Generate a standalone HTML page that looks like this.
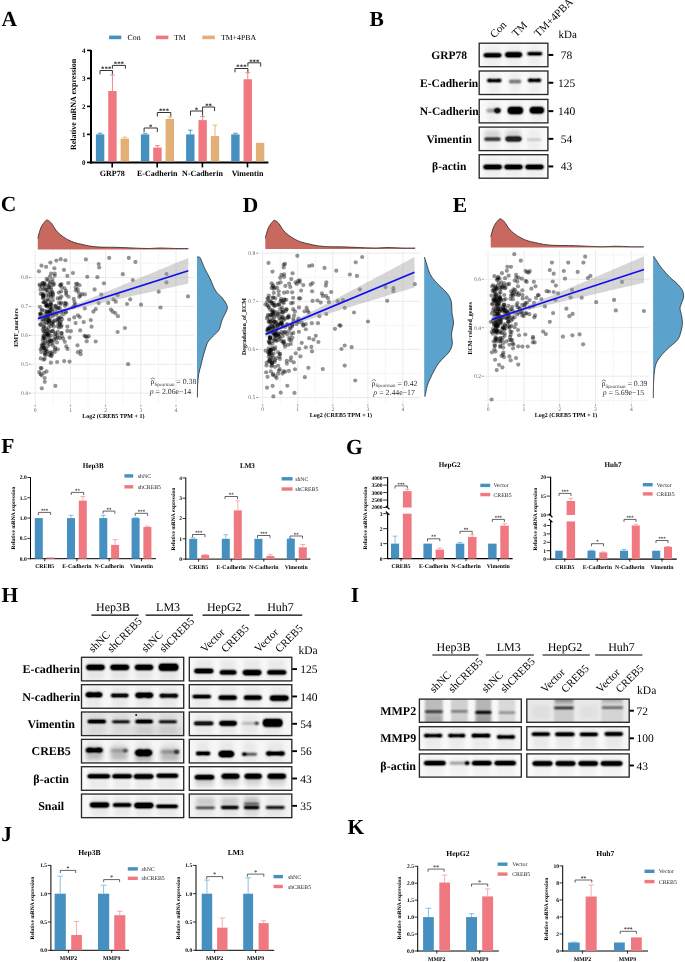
<!DOCTYPE html>
<html><head><meta charset="utf-8"><title>Figure</title><style>html,body{margin:0;padding:0;background:#fff;}body{width:685px;height:962px;overflow:hidden;font-family:"Liberation Serif",serif;}svg{display:block;will-change:transform;text-rendering:geometricPrecision;}</style></head><body>
<svg width="685" height="962" viewBox="0 0 685 962" font-family="'Liberation Serif', serif"><defs><filter id="bl1" x="-50%" y="-100%" width="200%" height="300%"><feGaussianBlur stdDeviation="0.9"/><feComponentTransfer><feFuncA type="linear" slope="1.6" intercept="0"/></feComponentTransfer></filter><filter id="bl2" x="-50%" y="-100%" width="200%" height="300%"><feGaussianBlur stdDeviation="1.6"/></filter><filter id="bl3" x="-50%" y="-100%" width="200%" height="300%"><feGaussianBlur stdDeviation="2.2"/></filter><filter id="bl4" x="-50%" y="-50%" width="200%" height="200%"><feGaussianBlur stdDeviation="0.9"/></filter></defs><text x="1.40" y="25.90" font-size="21.5" font-weight="bold">A</text>
<rect x="109.10" y="35.60" width="12.20" height="3.60" fill="#4590c1"/>
<text x="127.60" y="39.90" font-size="7.8">Con</text>
<rect x="155.90" y="35.60" width="12.50" height="3.60" fill="#f07880"/>
<text x="174.00" y="39.90" font-size="7.8">TM</text>
<rect x="202.30" y="35.60" width="12.50" height="3.60" fill="#e2b074"/>
<text x="220.90" y="39.90" font-size="7.8">TM+4PBA</text>
<line x1="91.00" y1="49.90" x2="91.00" y2="163.40" stroke="#000" stroke-width="2"/>
<line x1="90.00" y1="162.40" x2="268.40" y2="162.40" stroke="#000" stroke-width="2"/>
<line x1="87.00" y1="162.40" x2="91.00" y2="162.40" stroke="#000" stroke-width="1.6"/>
<text x="85.50" y="164.80" font-size="7" font-weight="bold" text-anchor="end">0</text>
<line x1="87.00" y1="134.40" x2="91.00" y2="134.40" stroke="#000" stroke-width="1.6"/>
<text x="85.50" y="136.80" font-size="7" font-weight="bold" text-anchor="end">1</text>
<line x1="87.00" y1="106.40" x2="91.00" y2="106.40" stroke="#000" stroke-width="1.6"/>
<text x="85.50" y="108.80" font-size="7" font-weight="bold" text-anchor="end">2</text>
<line x1="87.00" y1="78.40" x2="91.00" y2="78.40" stroke="#000" stroke-width="1.6"/>
<text x="85.50" y="80.80" font-size="7" font-weight="bold" text-anchor="end">3</text>
<line x1="87.00" y1="50.40" x2="91.00" y2="50.40" stroke="#000" stroke-width="1.6"/>
<text x="85.50" y="52.80" font-size="7" font-weight="bold" text-anchor="end">4</text>
<text x="76.00" y="104.40" font-size="8" font-weight="bold" text-anchor="middle" transform="rotate(-90 76.00 104.40)">Relative mRNA expression</text>
<line x1="112.20" y1="162.40" x2="112.20" y2="167.40" stroke="#000" stroke-width="1.6"/>
<text x="112.20" y="175.70" font-size="8" font-weight="bold" text-anchor="middle">GRP78</text>
<rect x="95.90" y="134.40" width="8.40" height="27.00" fill="#4590c1"/>
<line x1="100.10" y1="134.40" x2="100.10" y2="133.28" stroke="#4590c1" stroke-width="0.9"/>
<line x1="97.79" y1="133.28" x2="102.41" y2="133.28" stroke="#4590c1" stroke-width="0.9"/>
<rect x="108.25" y="91.00" width="8.40" height="70.40" fill="#f07880"/>
<line x1="112.45" y1="91.00" x2="112.45" y2="75.04" stroke="#f07880" stroke-width="0.9"/>
<line x1="110.14" y1="75.04" x2="114.76" y2="75.04" stroke="#f07880" stroke-width="0.9"/>
<rect x="120.60" y="138.60" width="8.40" height="22.80" fill="#e2b074"/>
<line x1="124.80" y1="138.60" x2="124.80" y2="137.20" stroke="#e2b074" stroke-width="0.9"/>
<line x1="122.49" y1="137.20" x2="127.11" y2="137.20" stroke="#e2b074" stroke-width="0.9"/>
<line x1="157.20" y1="162.40" x2="157.20" y2="167.40" stroke="#000" stroke-width="1.6"/>
<text x="157.20" y="175.70" font-size="8" font-weight="bold" text-anchor="middle">E-Cadherin</text>
<rect x="140.90" y="134.40" width="8.40" height="27.00" fill="#4590c1"/>
<line x1="145.10" y1="134.40" x2="145.10" y2="133.28" stroke="#4590c1" stroke-width="0.9"/>
<line x1="142.79" y1="133.28" x2="147.41" y2="133.28" stroke="#4590c1" stroke-width="0.9"/>
<rect x="153.25" y="147.56" width="8.40" height="13.84" fill="#f07880"/>
<line x1="157.45" y1="147.56" x2="157.45" y2="145.60" stroke="#f07880" stroke-width="0.9"/>
<line x1="155.14" y1="145.60" x2="159.76" y2="145.60" stroke="#f07880" stroke-width="0.9"/>
<rect x="165.60" y="119.00" width="8.40" height="42.40" fill="#e2b074"/>
<line x1="169.80" y1="119.00" x2="169.80" y2="117.04" stroke="#e2b074" stroke-width="0.9"/>
<line x1="167.49" y1="117.04" x2="172.11" y2="117.04" stroke="#e2b074" stroke-width="0.9"/>
<line x1="202.40" y1="162.40" x2="202.40" y2="167.40" stroke="#000" stroke-width="1.6"/>
<text x="202.40" y="175.70" font-size="8" font-weight="bold" text-anchor="middle">N-Cadherin</text>
<rect x="186.10" y="134.40" width="8.40" height="27.00" fill="#4590c1"/>
<line x1="190.30" y1="134.40" x2="190.30" y2="130.20" stroke="#4590c1" stroke-width="0.9"/>
<line x1="187.99" y1="130.20" x2="192.61" y2="130.20" stroke="#4590c1" stroke-width="0.9"/>
<rect x="198.45" y="120.12" width="8.40" height="41.28" fill="#f07880"/>
<line x1="202.65" y1="120.12" x2="202.65" y2="116.48" stroke="#f07880" stroke-width="0.9"/>
<line x1="200.34" y1="116.48" x2="204.96" y2="116.48" stroke="#f07880" stroke-width="0.9"/>
<rect x="210.80" y="136.08" width="8.40" height="25.32" fill="#e2b074"/>
<line x1="215.00" y1="136.08" x2="215.00" y2="125.16" stroke="#e2b074" stroke-width="0.9"/>
<line x1="212.69" y1="125.16" x2="217.31" y2="125.16" stroke="#e2b074" stroke-width="0.9"/>
<line x1="247.50" y1="162.40" x2="247.50" y2="167.40" stroke="#000" stroke-width="1.6"/>
<text x="247.50" y="175.70" font-size="8" font-weight="bold" text-anchor="middle">Vimentin</text>
<rect x="231.20" y="134.40" width="8.40" height="27.00" fill="#4590c1"/>
<line x1="235.40" y1="134.40" x2="235.40" y2="133.28" stroke="#4590c1" stroke-width="0.9"/>
<line x1="233.09" y1="133.28" x2="237.71" y2="133.28" stroke="#4590c1" stroke-width="0.9"/>
<rect x="243.55" y="79.24" width="8.40" height="82.16" fill="#f07880"/>
<line x1="247.75" y1="79.24" x2="247.75" y2="72.80" stroke="#f07880" stroke-width="0.9"/>
<line x1="245.44" y1="72.80" x2="250.06" y2="72.80" stroke="#f07880" stroke-width="0.9"/>
<rect x="255.90" y="142.80" width="8.40" height="18.60" fill="#e2b074"/>
<polyline points="100.00,74.30 100.00,70.50 112.40,70.50 112.40,74.30" fill="none" stroke="#333" stroke-width="1.0"/>
<text x="106.20" y="71.20" font-size="6.8" font-weight="bold" text-anchor="middle" fill="#222">***</text>
<polyline points="112.40,68.70 112.40,65.40 125.40,65.40 125.40,68.70" fill="none" stroke="#333" stroke-width="1.0"/>
<text x="118.90" y="66.10" font-size="6.8" font-weight="bold" text-anchor="middle" fill="#222">***</text>
<polyline points="144.10,132.00 144.10,128.00 157.30,128.00 157.30,132.00" fill="none" stroke="#333" stroke-width="1.0"/>
<text x="150.70" y="128.70" font-size="6.8" font-weight="bold" text-anchor="middle" fill="#222">*</text>
<polyline points="157.30,116.50 157.30,112.50 170.80,112.50 170.80,116.50" fill="none" stroke="#333" stroke-width="1.0"/>
<text x="164.05" y="113.20" font-size="6.8" font-weight="bold" text-anchor="middle" fill="#222">***</text>
<polyline points="190.50,115.60 190.50,111.00 202.60,111.00 202.60,115.60" fill="none" stroke="#333" stroke-width="1.0"/>
<text x="196.55" y="111.70" font-size="6.8" font-weight="bold" text-anchor="middle" fill="#222">*</text>
<polyline points="202.60,111.00 202.60,107.00 214.60,107.00 214.60,111.00" fill="none" stroke="#333" stroke-width="1.0"/>
<text x="208.60" y="107.70" font-size="6.8" font-weight="bold" text-anchor="middle" fill="#222">**</text>
<polyline points="235.00,72.30 235.00,68.50 247.90,68.50 247.90,72.30" fill="none" stroke="#333" stroke-width="1.0"/>
<text x="241.45" y="69.20" font-size="6.8" font-weight="bold" text-anchor="middle" fill="#222">***</text>
<polyline points="247.90,66.60 247.90,62.80 260.70,62.80 260.70,66.60" fill="none" stroke="#333" stroke-width="1.0"/>
<text x="254.30" y="63.50" font-size="6.8" font-weight="bold" text-anchor="middle" fill="#222">***</text>
<text x="369.60" y="25.90" font-size="21.5" font-weight="bold">B</text>
<clipPath id="c79"><rect x="479.20" y="43.20" width="68.70" height="23.50"/></clipPath>
<g clip-path="url(#c79)">
<rect x="479.20" y="43.20" width="68.70" height="23.50" fill="#f9f9f9"/>
<rect x="484.80" y="45.20" width="15.50" height="20.50" fill="#000" opacity="0.045" filter="url(#bl3)"/>
<rect x="506.30" y="45.20" width="14.60" height="20.50" fill="#000" opacity="0.045" filter="url(#bl3)"/>
<rect x="528.40" y="45.20" width="12.70" height="20.50" fill="#000" opacity="0.045" filter="url(#bl3)"/>
<g opacity="1.0" filter="url(#bl1)" fill="#000"><rect x="483.80" y="53.60" width="17.50" height="3.40" rx="1.70" ry="1.70"/></g>
<g opacity="1.0" filter="url(#bl1)" fill="#000"><rect x="505.30" y="52.60" width="16.60" height="4.40" rx="2.20" ry="2.20"/></g>
<g opacity="1.0" filter="url(#bl1)" fill="#000"><rect x="527.40" y="52.55" width="14.70" height="2.50" rx="1.25" ry="1.25"/></g>
</g>
<rect x="479.20" y="43.20" width="68.70" height="23.50" fill="none" stroke="#2a2a2a" stroke-width="1.35"/>
<text x="449.20" y="58.85" font-size="11.5" font-weight="bold" text-anchor="middle">GRP78</text>
<line x1="548.40" y1="54.95" x2="553.30" y2="54.95" stroke="#000" stroke-width="2.0"/>
<text x="566.60" y="58.95" font-size="11.5" text-anchor="middle">78</text>
<clipPath id="c93"><rect x="479.20" y="71.00" width="68.70" height="23.50"/></clipPath>
<g clip-path="url(#c93)">
<rect x="479.20" y="71.00" width="68.70" height="23.50" fill="#f9f9f9"/>
<rect x="488.20" y="73.00" width="12.10" height="20.50" fill="#000" opacity="0.045" filter="url(#bl3)"/>
<rect x="510.00" y="73.00" width="10.10" height="20.50" fill="#000" opacity="0.045" filter="url(#bl3)"/>
<rect x="528.90" y="73.00" width="11.20" height="20.50" fill="#000" opacity="0.045" filter="url(#bl3)"/>
<g opacity="1.0" filter="url(#bl1)" fill="#000"><rect x="487.70" y="79.55" width="13.10" height="2.10" rx="1.05"/><ellipse cx="489.20" cy="80.60" rx="2.00" ry="1.25"/><ellipse cx="499.30" cy="80.60" rx="2.00" ry="1.25"/></g>
<g opacity="0.45" filter="url(#bl1)" fill="#000"><rect x="509.50" y="80.34" width="11.10" height="2.52" rx="1.26"/><ellipse cx="511.40" cy="81.60" rx="2.40" ry="1.50"/><ellipse cx="518.70" cy="81.60" rx="2.40" ry="1.50"/></g>
<g opacity="1.0" filter="url(#bl1)" fill="#000"><rect x="528.40" y="79.17" width="12.20" height="2.27" rx="1.13"/><ellipse cx="530.06" cy="80.30" rx="2.16" ry="1.35"/><ellipse cx="538.94" cy="80.30" rx="2.16" ry="1.35"/></g>
</g>
<rect x="479.20" y="71.00" width="68.70" height="23.50" fill="none" stroke="#2a2a2a" stroke-width="1.35"/>
<text x="449.20" y="86.65" font-size="11.5" font-weight="bold" text-anchor="middle">E-Cadherin</text>
<line x1="548.40" y1="82.75" x2="553.30" y2="82.75" stroke="#000" stroke-width="2.0"/>
<text x="566.60" y="86.75" font-size="11.5" text-anchor="middle">125</text>
<clipPath id="c107"><rect x="479.20" y="99.40" width="68.70" height="23.50"/></clipPath>
<g clip-path="url(#c107)">
<rect x="479.20" y="99.40" width="68.70" height="23.50" fill="#f9f9f9"/>
<rect x="487.40" y="101.40" width="11.90" height="20.50" fill="#000" opacity="0.045" filter="url(#bl3)"/>
<rect x="509.00" y="101.40" width="12.70" height="20.50" fill="#000" opacity="0.045" filter="url(#bl3)"/>
<rect x="531.00" y="101.40" width="11.70" height="20.50" fill="#000" opacity="0.045" filter="url(#bl3)"/>
<g opacity="0.95" filter="url(#bl1)" fill="#000"><rect x="486.40" y="108.76" width="13.90" height="3.68" rx="1.84" opacity="0.25"/><ellipse cx="497.54" cy="110.60" rx="2.99" ry="2.30"/></g>
<g opacity="1.0" filter="url(#bl1)" fill="#000"><rect x="508.00" y="107.30" width="14.70" height="6.40" rx="2.40" ry="3.20"/></g>
<g opacity="1.0" filter="url(#bl1)" fill="#000"><rect x="530.00" y="107.30" width="13.70" height="6.00" rx="2.40" ry="3.00"/></g>
</g>
<rect x="479.20" y="99.40" width="68.70" height="23.50" fill="none" stroke="#2a2a2a" stroke-width="1.35"/>
<text x="449.20" y="115.05" font-size="11.5" font-weight="bold" text-anchor="middle">N-Cadherin</text>
<line x1="548.40" y1="111.15" x2="553.30" y2="111.15" stroke="#000" stroke-width="2.0"/>
<text x="566.60" y="115.15" font-size="11.5" text-anchor="middle">140</text>
<clipPath id="c121"><rect x="479.20" y="127.10" width="68.70" height="23.50"/></clipPath>
<g clip-path="url(#c121)">
<rect x="479.20" y="127.10" width="68.70" height="23.50" fill="#f9f9f9"/>
<rect x="485.50" y="129.10" width="14.00" height="20.50" fill="#000" opacity="0.045" filter="url(#bl3)"/>
<rect x="506.50" y="129.10" width="14.00" height="20.50" fill="#000" opacity="0.045" filter="url(#bl3)"/>
<rect x="527.50" y="129.10" width="13.00" height="20.50" fill="#000" opacity="0.045" filter="url(#bl3)"/>
<rect x="484.00" y="131.10" width="16.00" height="6.00" fill="#000" opacity="0.12" filter="url(#bl3)"/>
<rect x="505.00" y="131.10" width="16.00" height="6.00" fill="#000" opacity="0.12" filter="url(#bl3)"/>
<g opacity="0.72" filter="url(#bl1)" fill="#000"><rect x="484.50" y="137.80" width="16.00" height="2.80" rx="1.40" ry="1.40"/></g>
<g opacity="0.85" filter="url(#bl1)" fill="#000"><rect x="505.50" y="136.85" width="16.00" height="4.30" rx="2.15" ry="2.15"/></g>
<g opacity="0.15" filter="url(#bl1)" fill="#000"><rect x="526.50" y="138.80" width="15.00" height="1.60" rx="0.80" ry="0.80"/></g>
</g>
<rect x="479.20" y="127.10" width="68.70" height="23.50" fill="none" stroke="#2a2a2a" stroke-width="1.35"/>
<text x="449.20" y="142.75" font-size="11.5" font-weight="bold" text-anchor="middle">Vimentin</text>
<line x1="548.40" y1="138.85" x2="553.30" y2="138.85" stroke="#000" stroke-width="2.0"/>
<text x="566.60" y="142.85" font-size="11.5" text-anchor="middle">54</text>
<clipPath id="c137"><rect x="479.20" y="154.70" width="68.70" height="23.50"/></clipPath>
<g clip-path="url(#c137)">
<rect x="479.20" y="154.70" width="68.70" height="23.50" fill="#f9f9f9"/>
<rect x="484.50" y="156.70" width="16.30" height="20.50" fill="#000" opacity="0.045" filter="url(#bl3)"/>
<rect x="505.50" y="156.70" width="16.00" height="20.50" fill="#000" opacity="0.045" filter="url(#bl3)"/>
<rect x="526.50" y="156.70" width="16.00" height="20.50" fill="#000" opacity="0.045" filter="url(#bl3)"/>
<g opacity="1.0" filter="url(#bl1)" fill="#000"><rect x="483.50" y="165.00" width="18.30" height="4.00" rx="2.00" ry="2.00"/></g>
<g opacity="1.0" filter="url(#bl1)" fill="#000"><rect x="504.50" y="165.00" width="18.00" height="4.00" rx="2.00" ry="2.00"/></g>
<g opacity="1.0" filter="url(#bl1)" fill="#000"><rect x="525.50" y="165.00" width="18.00" height="4.00" rx="2.00" ry="2.00"/></g>
</g>
<rect x="479.20" y="154.70" width="68.70" height="23.50" fill="none" stroke="#2a2a2a" stroke-width="1.35"/>
<text x="449.20" y="170.35" font-size="11.5" font-weight="bold" text-anchor="middle">β-actin</text>
<line x1="548.40" y1="166.45" x2="553.30" y2="166.45" stroke="#000" stroke-width="2.0"/>
<text x="566.60" y="170.45" font-size="11.5" text-anchor="middle">43</text>
<text x="494.30" y="38.50" font-size="11" transform="rotate(-45 494.30 38.50)">Con</text>
<text x="516.30" y="37.50" font-size="11" transform="rotate(-45 516.30 37.50)">TM</text>
<text x="538.60" y="37.60" font-size="11" transform="rotate(-45 538.60 37.60)">TM+4PBA</text>
<text x="558.50" y="37.70" font-size="11">kDa</text>
<text x="0.80" y="211.20" font-size="21.5" font-weight="bold">C</text>
<line x1="35.20" y1="250.60" x2="35.20" y2="404.70" stroke="#e9e9e9" stroke-width="0.9"/>
<line x1="52.80" y1="250.60" x2="52.80" y2="404.70" stroke="#f0f0f0" stroke-width="0.7"/>
<line x1="70.40" y1="250.60" x2="70.40" y2="404.70" stroke="#e9e9e9" stroke-width="0.9"/>
<line x1="88.00" y1="250.60" x2="88.00" y2="404.70" stroke="#f0f0f0" stroke-width="0.7"/>
<line x1="105.60" y1="250.60" x2="105.60" y2="404.70" stroke="#e9e9e9" stroke-width="0.9"/>
<line x1="123.20" y1="250.60" x2="123.20" y2="404.70" stroke="#f0f0f0" stroke-width="0.7"/>
<line x1="140.80" y1="250.60" x2="140.80" y2="404.70" stroke="#e9e9e9" stroke-width="0.9"/>
<line x1="158.40" y1="250.60" x2="158.40" y2="404.70" stroke="#f0f0f0" stroke-width="0.7"/>
<line x1="176.00" y1="250.60" x2="176.00" y2="404.70" stroke="#e9e9e9" stroke-width="0.9"/>
<line x1="31.00" y1="393.10" x2="194.00" y2="393.10" stroke="#e9e9e9" stroke-width="0.9"/>
<line x1="31.00" y1="378.65" x2="194.00" y2="378.65" stroke="#f0f0f0" stroke-width="0.7"/>
<line x1="31.00" y1="364.20" x2="194.00" y2="364.20" stroke="#e9e9e9" stroke-width="0.9"/>
<line x1="31.00" y1="349.75" x2="194.00" y2="349.75" stroke="#f0f0f0" stroke-width="0.7"/>
<line x1="31.00" y1="335.30" x2="194.00" y2="335.30" stroke="#e9e9e9" stroke-width="0.9"/>
<line x1="31.00" y1="320.85" x2="194.00" y2="320.85" stroke="#f0f0f0" stroke-width="0.7"/>
<line x1="31.00" y1="306.40" x2="194.00" y2="306.40" stroke="#e9e9e9" stroke-width="0.9"/>
<line x1="31.00" y1="291.95" x2="194.00" y2="291.95" stroke="#f0f0f0" stroke-width="0.7"/>
<line x1="31.00" y1="277.50" x2="194.00" y2="277.50" stroke="#e9e9e9" stroke-width="0.9"/>
<line x1="31.00" y1="263.05" x2="194.00" y2="263.05" stroke="#f0f0f0" stroke-width="0.7"/>
<line x1="28.80" y1="393.10" x2="30.80" y2="393.10" stroke="#333" stroke-width="0.5"/>
<text x="28.00" y="395.00" font-size="5.6" text-anchor="end" fill="#6a6a6a">0.4</text>
<line x1="28.80" y1="364.20" x2="30.80" y2="364.20" stroke="#333" stroke-width="0.5"/>
<text x="28.00" y="366.10" font-size="5.6" text-anchor="end" fill="#6a6a6a">0.5</text>
<line x1="28.80" y1="335.30" x2="30.80" y2="335.30" stroke="#333" stroke-width="0.5"/>
<text x="28.00" y="337.20" font-size="5.6" text-anchor="end" fill="#6a6a6a">0.6</text>
<line x1="28.80" y1="306.40" x2="30.80" y2="306.40" stroke="#333" stroke-width="0.5"/>
<text x="28.00" y="308.30" font-size="5.6" text-anchor="end" fill="#6a6a6a">0.7</text>
<line x1="28.80" y1="277.50" x2="30.80" y2="277.50" stroke="#333" stroke-width="0.5"/>
<text x="28.00" y="279.40" font-size="5.6" text-anchor="end" fill="#6a6a6a">0.8</text>
<line x1="35.20" y1="404.90" x2="35.20" y2="406.70" stroke="#333" stroke-width="0.5"/>
<text x="35.20" y="411.60" font-size="5.6" text-anchor="middle" fill="#6a6a6a">0</text>
<line x1="70.40" y1="404.90" x2="70.40" y2="406.70" stroke="#333" stroke-width="0.5"/>
<text x="70.40" y="411.60" font-size="5.6" text-anchor="middle" fill="#6a6a6a">1</text>
<line x1="105.60" y1="404.90" x2="105.60" y2="406.70" stroke="#333" stroke-width="0.5"/>
<text x="105.60" y="411.60" font-size="5.6" text-anchor="middle" fill="#6a6a6a">2</text>
<line x1="140.80" y1="404.90" x2="140.80" y2="406.70" stroke="#333" stroke-width="0.5"/>
<text x="140.80" y="411.60" font-size="5.6" text-anchor="middle" fill="#6a6a6a">3</text>
<line x1="176.00" y1="404.90" x2="176.00" y2="406.70" stroke="#333" stroke-width="0.5"/>
<text x="176.00" y="411.60" font-size="5.6" text-anchor="middle" fill="#6a6a6a">4</text>
<text x="18.20" y="327.70" font-size="6.0" font-weight="bold" text-anchor="middle" transform="rotate(-90 18.20 327.70)">EMT_markers</text>
<text x="113.30" y="417.90" font-size="6.0" font-weight="bold" text-anchor="middle">Log2 (CREB5 TPM + 1)</text>
<g fill="#000" fill-opacity="0.42"><circle cx="61.97" cy="319.15" r="2.1"/><circle cx="44.77" cy="381.81" r="2.1"/><circle cx="44.68" cy="378.02" r="2.1"/><circle cx="47.49" cy="292.35" r="2.1"/><circle cx="75.36" cy="304.41" r="2.1"/><circle cx="47.22" cy="351.37" r="2.1"/><circle cx="46.96" cy="290.02" r="2.1"/><circle cx="51.55" cy="356.06" r="2.1"/><circle cx="46.54" cy="289.73" r="2.1"/><circle cx="72.92" cy="273.00" r="2.1"/><circle cx="61.40" cy="333.14" r="2.1"/><circle cx="43.96" cy="347.60" r="2.1"/><circle cx="43.30" cy="298.16" r="2.1"/><circle cx="41.77" cy="347.99" r="2.1"/><circle cx="58.87" cy="292.60" r="2.1"/><circle cx="46.35" cy="349.03" r="2.1"/><circle cx="50.86" cy="296.61" r="2.1"/><circle cx="45.94" cy="316.38" r="2.1"/><circle cx="57.69" cy="325.92" r="2.1"/><circle cx="61.82" cy="336.33" r="2.1"/><circle cx="49.72" cy="311.48" r="2.1"/><circle cx="41.45" cy="368.38" r="2.1"/><circle cx="77.88" cy="315.30" r="2.1"/><circle cx="48.78" cy="327.91" r="2.1"/><circle cx="43.64" cy="302.27" r="2.1"/><circle cx="55.11" cy="347.64" r="2.1"/><circle cx="51.01" cy="273.53" r="2.1"/><circle cx="74.22" cy="317.41" r="2.1"/><circle cx="52.85" cy="345.44" r="2.1"/><circle cx="50.54" cy="282.01" r="2.1"/><circle cx="54.68" cy="273.61" r="2.1"/><circle cx="47.75" cy="322.95" r="2.1"/><circle cx="57.75" cy="337.55" r="2.1"/><circle cx="52.81" cy="316.10" r="2.1"/><circle cx="55.46" cy="333.20" r="2.1"/><circle cx="60.92" cy="321.78" r="2.1"/><circle cx="46.69" cy="278.89" r="2.1"/><circle cx="60.54" cy="304.01" r="2.1"/><circle cx="40.53" cy="316.85" r="2.1"/><circle cx="51.57" cy="308.12" r="2.1"/><circle cx="42.48" cy="321.38" r="2.1"/><circle cx="65.95" cy="290.79" r="2.1"/><circle cx="61.13" cy="291.42" r="2.1"/><circle cx="45.93" cy="328.17" r="2.1"/><circle cx="49.69" cy="314.86" r="2.1"/><circle cx="73.77" cy="298.91" r="2.1"/><circle cx="44.44" cy="323.99" r="2.1"/><circle cx="65.41" cy="260.25" r="2.1"/><circle cx="43.61" cy="319.29" r="2.1"/><circle cx="47.76" cy="346.08" r="2.1"/><circle cx="43.66" cy="302.36" r="2.1"/><circle cx="50.21" cy="340.25" r="2.1"/><circle cx="46.42" cy="331.26" r="2.1"/><circle cx="44.90" cy="310.81" r="2.1"/><circle cx="59.38" cy="317.58" r="2.1"/><circle cx="61.60" cy="333.04" r="2.1"/><circle cx="75.60" cy="323.04" r="2.1"/><circle cx="45.03" cy="334.16" r="2.1"/><circle cx="61.45" cy="284.02" r="2.1"/><circle cx="43.27" cy="337.98" r="2.1"/><circle cx="52.79" cy="331.07" r="2.1"/><circle cx="46.12" cy="266.87" r="2.1"/><circle cx="49.28" cy="331.75" r="2.1"/><circle cx="48.03" cy="280.20" r="2.1"/><circle cx="45.26" cy="285.53" r="2.1"/><circle cx="58.43" cy="318.55" r="2.1"/><circle cx="54.83" cy="351.95" r="2.1"/><circle cx="84.90" cy="294.45" r="2.1"/><circle cx="61.42" cy="296.58" r="2.1"/><circle cx="77.41" cy="283.82" r="2.1"/><circle cx="43.83" cy="317.63" r="2.1"/><circle cx="44.89" cy="288.48" r="2.1"/><circle cx="44.58" cy="283.86" r="2.1"/><circle cx="49.75" cy="344.33" r="2.1"/><circle cx="39.60" cy="284.50" r="2.1"/><circle cx="49.54" cy="313.15" r="2.1"/><circle cx="52.61" cy="330.96" r="2.1"/><circle cx="43.71" cy="327.60" r="2.1"/><circle cx="54.41" cy="268.24" r="2.1"/><circle cx="76.08" cy="283.84" r="2.1"/><circle cx="50.86" cy="362.65" r="2.1"/><circle cx="52.44" cy="314.51" r="2.1"/><circle cx="49.36" cy="321.20" r="2.1"/><circle cx="40.75" cy="324.94" r="2.1"/><circle cx="58.86" cy="327.57" r="2.1"/><circle cx="48.78" cy="354.87" r="2.1"/><circle cx="53.01" cy="294.53" r="2.1"/><circle cx="50.22" cy="341.26" r="2.1"/><circle cx="79.82" cy="317.05" r="2.1"/><circle cx="46.78" cy="333.81" r="2.1"/><circle cx="50.89" cy="335.65" r="2.1"/><circle cx="77.65" cy="289.45" r="2.1"/><circle cx="55.85" cy="305.75" r="2.1"/><circle cx="43.66" cy="336.66" r="2.1"/><circle cx="44.50" cy="343.27" r="2.1"/><circle cx="44.44" cy="331.20" r="2.1"/><circle cx="43.16" cy="295.09" r="2.1"/><circle cx="48.18" cy="314.83" r="2.1"/><circle cx="47.93" cy="312.19" r="2.1"/><circle cx="69.11" cy="319.51" r="2.1"/><circle cx="51.69" cy="323.44" r="2.1"/><circle cx="40.91" cy="314.91" r="2.1"/><circle cx="57.13" cy="361.98" r="2.1"/><circle cx="49.83" cy="276.49" r="2.1"/><circle cx="48.45" cy="337.98" r="2.1"/><circle cx="50.45" cy="331.74" r="2.1"/><circle cx="53.14" cy="282.36" r="2.1"/><circle cx="54.79" cy="310.21" r="2.1"/><circle cx="42.16" cy="318.94" r="2.1"/><circle cx="67.35" cy="326.57" r="2.1"/><circle cx="44.74" cy="358.86" r="2.1"/><circle cx="45.07" cy="314.35" r="2.1"/><circle cx="48.51" cy="287.53" r="2.1"/><circle cx="80.18" cy="330.40" r="2.1"/><circle cx="43.84" cy="284.80" r="2.1"/><circle cx="40.70" cy="349.15" r="2.1"/><circle cx="55.15" cy="334.41" r="2.1"/><circle cx="47.70" cy="305.32" r="2.1"/><circle cx="46.16" cy="318.69" r="2.1"/><circle cx="48.96" cy="300.21" r="2.1"/><circle cx="45.21" cy="337.87" r="2.1"/><circle cx="52.56" cy="342.83" r="2.1"/><circle cx="40.82" cy="367.93" r="2.1"/><circle cx="85.63" cy="336.35" r="2.1"/><circle cx="57.01" cy="342.50" r="2.1"/><circle cx="45.28" cy="355.28" r="2.1"/><circle cx="56.46" cy="307.47" r="2.1"/><circle cx="57.74" cy="331.77" r="2.1"/><circle cx="69.54" cy="361.58" r="2.1"/><circle cx="54.92" cy="337.05" r="2.1"/><circle cx="86.92" cy="337.24" r="2.1"/><circle cx="52.90" cy="284.95" r="2.1"/><circle cx="50.72" cy="287.56" r="2.1"/><circle cx="64.81" cy="341.85" r="2.1"/><circle cx="51.91" cy="354.29" r="2.1"/><circle cx="41.77" cy="345.57" r="2.1"/><circle cx="60.11" cy="285.39" r="2.1"/><circle cx="52.84" cy="324.42" r="2.1"/><circle cx="70.90" cy="331.14" r="2.1"/><circle cx="49.85" cy="318.21" r="2.1"/><circle cx="49.08" cy="287.11" r="2.1"/><circle cx="51.61" cy="352.24" r="2.1"/><circle cx="59.41" cy="324.11" r="2.1"/><circle cx="50.10" cy="352.59" r="2.1"/><circle cx="85.87" cy="259.41" r="2.1"/><circle cx="64.57" cy="288.46" r="2.1"/><circle cx="46.05" cy="322.13" r="2.1"/><circle cx="44.92" cy="302.34" r="2.1"/><circle cx="43.99" cy="372.87" r="2.1"/><circle cx="40.52" cy="313.52" r="2.1"/><circle cx="44.76" cy="353.14" r="2.1"/><circle cx="46.40" cy="352.31" r="2.1"/><circle cx="48.98" cy="335.69" r="2.1"/><circle cx="50.97" cy="326.02" r="2.1"/><circle cx="68.47" cy="296.77" r="2.1"/><circle cx="45.88" cy="300.97" r="2.1"/><circle cx="39.88" cy="314.08" r="2.1"/><circle cx="51.52" cy="340.95" r="2.1"/><circle cx="66.35" cy="294.87" r="2.1"/><circle cx="49.15" cy="320.79" r="2.1"/><circle cx="43.52" cy="289.55" r="2.1"/><circle cx="47.63" cy="341.54" r="2.1"/><circle cx="55.36" cy="385.95" r="2.1"/><circle cx="43.56" cy="331.67" r="2.1"/><circle cx="60.70" cy="259.21" r="2.1"/><circle cx="46.92" cy="306.52" r="2.1"/><circle cx="53.04" cy="321.38" r="2.1"/><circle cx="79.50" cy="285.27" r="2.1"/><circle cx="82.03" cy="294.12" r="2.1"/><circle cx="58.84" cy="302.80" r="2.1"/><circle cx="61.04" cy="326.87" r="2.1"/><circle cx="45.65" cy="316.93" r="2.1"/><circle cx="49.28" cy="312.55" r="2.1"/><circle cx="43.40" cy="335.95" r="2.1"/><circle cx="44.13" cy="347.81" r="2.1"/><circle cx="74.31" cy="305.92" r="2.1"/><circle cx="52.50" cy="291.98" r="2.1"/><circle cx="57.73" cy="298.43" r="2.1"/><circle cx="50.75" cy="304.63" r="2.1"/><circle cx="46.35" cy="305.81" r="2.1"/><circle cx="58.65" cy="307.98" r="2.1"/><circle cx="61.68" cy="287.10" r="2.1"/><circle cx="38.98" cy="271.28" r="2.1"/><circle cx="48.07" cy="316.72" r="2.1"/><circle cx="47.02" cy="311.68" r="2.1"/><circle cx="40.75" cy="293.92" r="2.1"/><circle cx="63.95" cy="269.93" r="2.1"/><circle cx="51.51" cy="308.97" r="2.1"/><circle cx="64.45" cy="303.46" r="2.1"/><circle cx="54.44" cy="313.67" r="2.1"/><circle cx="44.58" cy="349.88" r="2.1"/><circle cx="68.26" cy="283.01" r="2.1"/><circle cx="57.07" cy="321.54" r="2.1"/><circle cx="80.64" cy="351.08" r="2.1"/><circle cx="48.74" cy="321.51" r="2.1"/><circle cx="77.82" cy="352.22" r="2.1"/><circle cx="44.34" cy="344.85" r="2.1"/><circle cx="65.76" cy="311.72" r="2.1"/><circle cx="51.33" cy="340.32" r="2.1"/><circle cx="51.27" cy="289.67" r="2.1"/><circle cx="67.52" cy="348.92" r="2.1"/><circle cx="50.60" cy="310.39" r="2.1"/><circle cx="50.76" cy="302.84" r="2.1"/><circle cx="52.28" cy="279.36" r="2.1"/><circle cx="43.31" cy="295.98" r="2.1"/><circle cx="59.66" cy="308.13" r="2.1"/><circle cx="47.58" cy="315.98" r="2.1"/><circle cx="63.42" cy="314.30" r="2.1"/><circle cx="60.68" cy="284.75" r="2.1"/><circle cx="47.13" cy="334.85" r="2.1"/><circle cx="46.07" cy="305.24" r="2.1"/><circle cx="48.68" cy="320.01" r="2.1"/><circle cx="47.60" cy="311.85" r="2.1"/><circle cx="49.08" cy="324.15" r="2.1"/><circle cx="41.52" cy="265.66" r="2.1"/><circle cx="47.34" cy="334.76" r="2.1"/><circle cx="65.06" cy="305.78" r="2.1"/><circle cx="74.45" cy="302.11" r="2.1"/><circle cx="60.05" cy="298.39" r="2.1"/><circle cx="80.39" cy="295.71" r="2.1"/><circle cx="61.09" cy="302.70" r="2.1"/><circle cx="43.58" cy="294.28" r="2.1"/><circle cx="40.70" cy="358.46" r="2.1"/><circle cx="56.41" cy="314.78" r="2.1"/><circle cx="45.17" cy="350.09" r="2.1"/><circle cx="57.75" cy="308.67" r="2.1"/><circle cx="84.59" cy="335.85" r="2.1"/><circle cx="59.88" cy="338.30" r="2.1"/><circle cx="45.89" cy="320.01" r="2.1"/><circle cx="67.30" cy="275.92" r="2.1"/><circle cx="46.60" cy="303.55" r="2.1"/><circle cx="66.63" cy="304.10" r="2.1"/><circle cx="42.27" cy="283.96" r="2.1"/><circle cx="54.03" cy="339.82" r="2.1"/><circle cx="46.59" cy="371.43" r="2.1"/><circle cx="53.95" cy="326.58" r="2.1"/><circle cx="43.69" cy="326.25" r="2.1"/><circle cx="54.06" cy="284.36" r="2.1"/><circle cx="56.40" cy="260.59" r="2.1"/><circle cx="54.97" cy="349.28" r="2.1"/><circle cx="54.75" cy="275.74" r="2.1"/><circle cx="75.75" cy="287.30" r="2.1"/><circle cx="41.60" cy="310.48" r="2.1"/><circle cx="45.27" cy="316.59" r="2.1"/><circle cx="47.16" cy="330.06" r="2.1"/><circle cx="50.30" cy="313.44" r="2.1"/><circle cx="57.78" cy="349.35" r="2.1"/><circle cx="50.62" cy="304.87" r="2.1"/><circle cx="84.83" cy="308.43" r="2.1"/><circle cx="49.46" cy="308.85" r="2.1"/><circle cx="65.66" cy="302.78" r="2.1"/><circle cx="69.56" cy="337.58" r="2.1"/><circle cx="49.69" cy="283.70" r="2.1"/><circle cx="42.45" cy="345.36" r="2.1"/><circle cx="50.59" cy="294.29" r="2.1"/><circle cx="43.61" cy="359.69" r="2.1"/><circle cx="54.71" cy="306.07" r="2.1"/><circle cx="57.63" cy="335.42" r="2.1"/><circle cx="47.11" cy="316.93" r="2.1"/><circle cx="47.64" cy="334.40" r="2.1"/><circle cx="41.56" cy="375.35" r="2.1"/><circle cx="43.45" cy="347.56" r="2.1"/><circle cx="57.50" cy="312.84" r="2.1"/><circle cx="52.83" cy="300.25" r="2.1"/><circle cx="77.52" cy="345.37" r="2.1"/><circle cx="40.58" cy="374.19" r="2.1"/><circle cx="45.03" cy="340.86" r="2.1"/><circle cx="58.70" cy="319.56" r="2.1"/><circle cx="47.70" cy="333.90" r="2.1"/><circle cx="42.71" cy="340.03" r="2.1"/><circle cx="43.00" cy="297.71" r="2.1"/><circle cx="50.49" cy="292.32" r="2.1"/><circle cx="66.20" cy="292.86" r="2.1"/><circle cx="56.08" cy="338.90" r="2.1"/><circle cx="62.49" cy="311.00" r="2.1"/><circle cx="57.33" cy="319.56" r="2.1"/><circle cx="86.64" cy="341.31" r="2.1"/><circle cx="46.48" cy="295.76" r="2.1"/><circle cx="73.04" cy="307.24" r="2.1"/><circle cx="61.47" cy="325.61" r="2.1"/><circle cx="44.26" cy="282.88" r="2.1"/><circle cx="52.81" cy="296.69" r="2.1"/><circle cx="49.01" cy="295.60" r="2.1"/><circle cx="40.46" cy="289.66" r="2.1"/><circle cx="75.84" cy="290.30" r="2.1"/><circle cx="41.26" cy="352.10" r="2.1"/><circle cx="42.85" cy="329.29" r="2.1"/><circle cx="42.42" cy="294.03" r="2.1"/><circle cx="67.41" cy="330.89" r="2.1"/><circle cx="60.75" cy="312.59" r="2.1"/><circle cx="42.04" cy="309.56" r="2.1"/><circle cx="42.58" cy="282.84" r="2.1"/><circle cx="41.92" cy="286.69" r="2.1"/><circle cx="52.62" cy="293.36" r="2.1"/><circle cx="54.71" cy="320.27" r="2.1"/><circle cx="43.40" cy="295.97" r="2.1"/><circle cx="39.91" cy="306.96" r="2.1"/><circle cx="40.28" cy="324.39" r="2.1"/><circle cx="39.94" cy="285.86" r="2.1"/><circle cx="50.96" cy="304.20" r="2.1"/><circle cx="44.33" cy="338.18" r="2.1"/><circle cx="48.67" cy="285.33" r="2.1"/><circle cx="52.98" cy="322.62" r="2.1"/><circle cx="78.52" cy="292.65" r="2.1"/><circle cx="50.52" cy="355.71" r="2.1"/><circle cx="66.00" cy="312.36" r="2.1"/><circle cx="42.70" cy="343.59" r="2.1"/><circle cx="48.27" cy="342.44" r="2.1"/><circle cx="64.17" cy="361.08" r="2.1"/><circle cx="50.34" cy="262.53" r="2.1"/><circle cx="60.94" cy="317.38" r="2.1"/><circle cx="41.07" cy="314.04" r="2.1"/><circle cx="87.25" cy="276.76" r="2.1"/><circle cx="48.95" cy="320.62" r="2.1"/><circle cx="46.65" cy="305.22" r="2.1"/><circle cx="66.26" cy="346.40" r="2.1"/><circle cx="47.05" cy="313.16" r="2.1"/><circle cx="59.80" cy="324.50" r="2.1"/><circle cx="47.64" cy="305.24" r="2.1"/><circle cx="52.16" cy="311.89" r="2.1"/><circle cx="45.02" cy="354.08" r="2.1"/><circle cx="80.60" cy="354.25" r="2.1"/><circle cx="63.27" cy="338.66" r="2.1"/><circle cx="47.68" cy="299.23" r="2.1"/><circle cx="79.26" cy="296.80" r="2.1"/><circle cx="50.20" cy="306.90" r="2.1"/><circle cx="39.24" cy="372.12" r="2.1"/><circle cx="41.79" cy="388.33" r="2.1"/><circle cx="83.69" cy="322.04" r="2.1"/><circle cx="59.83" cy="322.49" r="2.1"/><circle cx="109.20" cy="257.90" r="2.1"/><circle cx="128.80" cy="257.90" r="2.1"/><circle cx="135.40" cy="261.90" r="2.1"/><circle cx="98.70" cy="264.00" r="2.1"/><circle cx="99.20" cy="267.50" r="2.1"/><circle cx="97.40" cy="277.20" r="2.1"/><circle cx="122.80" cy="274.20" r="2.1"/><circle cx="132.80" cy="280.10" r="2.1"/><circle cx="103.90" cy="283.30" r="2.1"/><circle cx="166.50" cy="274.00" r="2.1"/><circle cx="166.50" cy="282.40" r="2.1"/><circle cx="94.60" cy="289.40" r="2.1"/><circle cx="101.30" cy="294.70" r="2.1"/><circle cx="158.70" cy="291.70" r="2.1"/><circle cx="188.00" cy="296.40" r="2.1"/><circle cx="117.60" cy="295.20" r="2.1"/><circle cx="113.50" cy="299.40" r="2.1"/><circle cx="115.80" cy="301.70" r="2.1"/><circle cx="108.30" cy="302.90" r="2.1"/><circle cx="98.70" cy="303.10" r="2.1"/><circle cx="127.00" cy="304.00" r="2.1"/><circle cx="130.20" cy="299.40" r="2.1"/><circle cx="141.00" cy="304.70" r="2.1"/><circle cx="160.50" cy="307.50" r="2.1"/><circle cx="110.90" cy="309.60" r="2.1"/><circle cx="112.70" cy="311.70" r="2.1"/><circle cx="115.30" cy="313.10" r="2.1"/><circle cx="117.90" cy="316.20" r="2.1"/><circle cx="95.70" cy="309.20" r="2.1"/><circle cx="93.40" cy="311.70" r="2.1"/><circle cx="90.80" cy="320.10" r="2.1"/><circle cx="91.60" cy="326.70" r="2.1"/><circle cx="124.90" cy="328.00" r="2.1"/><circle cx="117.60" cy="332.00" r="2.1"/><circle cx="88.70" cy="336.20" r="2.1"/><circle cx="95.70" cy="341.50" r="2.1"/><circle cx="128.10" cy="364.20" r="2.1"/></g>
<polygon points="37.90,315.94 41.66,315.00 45.42,314.03 49.18,313.01 52.94,311.94 56.70,310.81 60.46,309.60 64.22,308.32 67.98,306.97 71.74,305.58 75.50,304.14 79.26,302.68 83.02,301.20 86.78,299.70 90.54,298.18 94.30,296.66 98.06,295.13 101.82,293.60 105.58,292.06 109.34,290.52 113.10,288.98 116.86,287.43 120.62,285.88 124.38,284.33 128.14,282.78 131.90,281.23 135.66,279.67 139.42,278.12 143.18,276.56 146.94,275.00 150.70,273.45 154.46,271.89 158.22,270.33 161.98,268.77 165.74,267.21 169.50,265.65 173.26,264.09 177.02,262.53 180.78,260.97 184.54,259.41 188.30,257.85 188.30,283.55 184.54,284.38 180.78,285.22 177.02,286.05 173.26,286.89 169.50,287.72 165.74,288.56 161.98,289.39 158.22,290.23 154.46,291.07 150.70,291.90 146.94,292.74 143.18,293.58 139.42,294.42 135.66,295.26 131.90,296.10 128.14,296.94 124.38,297.78 120.62,298.63 116.86,299.48 113.10,300.32 109.34,301.17 105.58,302.03 101.82,302.88 98.06,303.75 94.30,304.61 90.54,305.49 86.78,306.37 83.02,307.26 79.26,308.18 75.50,309.11 71.74,310.07 67.98,311.07 64.22,312.12 60.46,313.23 56.70,314.42 52.94,315.68 49.18,317.00 45.42,318.38 41.66,319.81 37.90,321.26" fill="#999" fill-opacity="0.4"/>
<line x1="37.90" y1="318.60" x2="188.30" y2="270.70" stroke="#1010ee" stroke-width="1.7"/>
<path d="M37.80,238.40 C38.30,236.65 39.52,230.82 40.80,227.90 C42.08,224.98 44.33,222.18 45.50,220.90 C46.67,219.62 46.82,219.82 47.80,220.20 C48.78,220.58 50.03,221.53 51.40,223.20 C52.77,224.87 54.45,228.25 56.00,230.20 C57.55,232.15 58.75,233.33 60.70,234.90 C62.65,236.47 65.37,238.32 67.70,239.60 C70.03,240.88 72.37,241.82 74.70,242.60 C77.03,243.38 79.17,243.72 81.70,244.30 C84.23,244.88 86.78,245.63 89.90,246.10 C93.02,246.57 96.32,246.90 100.40,247.10 C104.48,247.30 109.73,247.18 114.40,247.30 C119.07,247.42 122.95,247.60 128.40,247.80 C133.85,248.00 141.65,248.47 147.10,248.50 C152.55,248.53 156.42,248.00 161.10,248.00 C165.78,248.00 170.67,248.42 175.20,248.50 C179.73,248.58 186.12,248.50 188.30,248.50 L188.30,249.40 L37.80,249.40 Z" fill="#c8685f" stroke="none"/>
<path d="M37.80,238.40 C38.30,236.65 39.52,230.82 40.80,227.90 C42.08,224.98 44.33,222.18 45.50,220.90 C46.67,219.62 46.82,219.82 47.80,220.20 C48.78,220.58 50.03,221.53 51.40,223.20 C52.77,224.87 54.45,228.25 56.00,230.20 C57.55,232.15 58.75,233.33 60.70,234.90 C62.65,236.47 65.37,238.32 67.70,239.60 C70.03,240.88 72.37,241.82 74.70,242.60 C77.03,243.38 79.17,243.72 81.70,244.30 C84.23,244.88 86.78,245.63 89.90,246.10 C93.02,246.57 96.32,246.90 100.40,247.10 C104.48,247.30 109.73,247.18 114.40,247.30 C119.07,247.42 122.95,247.60 128.40,247.80 C133.85,248.00 141.65,248.47 147.10,248.50 C152.55,248.53 156.42,248.00 161.10,248.00 C165.78,248.00 170.67,248.42 175.20,248.50 C179.73,248.58 186.12,248.50 188.30,248.50" fill="none" stroke="#2a2a2a" stroke-width="0.8"/>
<path d="M197.20,257.00 C197.68,257.13 198.83,255.85 200.10,257.80 C201.37,259.75 203.12,265.20 204.80,268.70 C206.48,272.20 208.77,275.82 210.20,278.80 C211.63,281.78 212.35,284.38 213.40,286.60 C214.45,288.82 215.08,290.27 216.50,292.10 C217.92,293.93 220.35,295.78 221.90,297.60 C223.45,299.42 224.88,301.32 225.80,303.00 C226.72,304.68 227.40,306.13 227.40,307.70 C227.40,309.27 226.58,310.58 225.80,312.40 C225.02,314.22 223.48,316.78 222.70,318.60 C221.92,320.42 221.75,321.35 221.10,323.30 C220.45,325.25 220.08,328.22 218.80,330.30 C217.52,332.38 215.22,333.85 213.40,335.80 C211.58,337.75 209.20,339.93 207.90,342.00 C206.60,344.07 206.38,345.87 205.60,348.20 C204.82,350.53 203.98,353.13 203.20,356.00 C202.42,358.87 201.67,362.28 200.90,365.40 C200.13,368.52 199.15,371.32 198.60,374.70 C198.05,378.08 197.80,381.92 197.60,385.70 C197.40,389.48 197.43,395.45 197.40,397.40 L197.00,397.40 L197.00,257.00 Z" fill="#5ba3cc" stroke="none"/>
<path d="M197.20,257.00 C197.68,257.13 198.83,255.85 200.10,257.80 C201.37,259.75 203.12,265.20 204.80,268.70 C206.48,272.20 208.77,275.82 210.20,278.80 C211.63,281.78 212.35,284.38 213.40,286.60 C214.45,288.82 215.08,290.27 216.50,292.10 C217.92,293.93 220.35,295.78 221.90,297.60 C223.45,299.42 224.88,301.32 225.80,303.00 C226.72,304.68 227.40,306.13 227.40,307.70 C227.40,309.27 226.58,310.58 225.80,312.40 C225.02,314.22 223.48,316.78 222.70,318.60 C221.92,320.42 221.75,321.35 221.10,323.30 C220.45,325.25 220.08,328.22 218.80,330.30 C217.52,332.38 215.22,333.85 213.40,335.80 C211.58,337.75 209.20,339.93 207.90,342.00 C206.60,344.07 206.38,345.87 205.60,348.20 C204.82,350.53 203.98,353.13 203.20,356.00 C202.42,358.87 201.67,362.28 200.90,365.40 C200.13,368.52 199.15,371.32 198.60,374.70 C198.05,378.08 197.80,381.92 197.60,385.70 C197.40,389.48 197.43,395.45 197.40,397.40" fill="none" stroke="#2a2a2a" stroke-width="0.8"/>
<text x="150.50" y="384.20" font-size="7.8" fill="#333">ρ<tspan font-size="5" dy="1.3">Spearman</tspan><tspan dy="-1.3"> = 0.38</tspan></text>
<path d="M150.70,379.20 Q152.70,376.60 154.90,379.20" fill="none" stroke="#444" stroke-width="0.65"/>
<text x="170.50" y="393.80" font-size="7.8" text-anchor="middle" fill="#333"><tspan font-style="italic">p</tspan> = 2.06e−14</text>
<text x="242.80" y="211.70" font-size="21.5" font-weight="bold">D</text>
<line x1="262.70" y1="250.40" x2="262.70" y2="404.20" stroke="#e9e9e9" stroke-width="0.9"/>
<line x1="280.22" y1="250.40" x2="280.22" y2="404.20" stroke="#f0f0f0" stroke-width="0.7"/>
<line x1="297.75" y1="250.40" x2="297.75" y2="404.20" stroke="#e9e9e9" stroke-width="0.9"/>
<line x1="315.27" y1="250.40" x2="315.27" y2="404.20" stroke="#f0f0f0" stroke-width="0.7"/>
<line x1="332.80" y1="250.40" x2="332.80" y2="404.20" stroke="#e9e9e9" stroke-width="0.9"/>
<line x1="350.32" y1="250.40" x2="350.32" y2="404.20" stroke="#f0f0f0" stroke-width="0.7"/>
<line x1="367.85" y1="250.40" x2="367.85" y2="404.20" stroke="#e9e9e9" stroke-width="0.9"/>
<line x1="385.38" y1="250.40" x2="385.38" y2="404.20" stroke="#f0f0f0" stroke-width="0.7"/>
<line x1="402.90" y1="250.40" x2="402.90" y2="404.20" stroke="#e9e9e9" stroke-width="0.9"/>
<line x1="258.30" y1="397.50" x2="420.60" y2="397.50" stroke="#e9e9e9" stroke-width="0.9"/>
<line x1="258.30" y1="373.45" x2="420.60" y2="373.45" stroke="#f0f0f0" stroke-width="0.7"/>
<line x1="258.30" y1="349.40" x2="420.60" y2="349.40" stroke="#e9e9e9" stroke-width="0.9"/>
<line x1="258.30" y1="325.35" x2="420.60" y2="325.35" stroke="#f0f0f0" stroke-width="0.7"/>
<line x1="258.30" y1="301.30" x2="420.60" y2="301.30" stroke="#e9e9e9" stroke-width="0.9"/>
<line x1="258.30" y1="277.25" x2="420.60" y2="277.25" stroke="#f0f0f0" stroke-width="0.7"/>
<line x1="258.30" y1="253.20" x2="420.60" y2="253.20" stroke="#e9e9e9" stroke-width="0.9"/>
<line x1="256.10" y1="397.50" x2="258.10" y2="397.50" stroke="#333" stroke-width="0.5"/>
<text x="255.30" y="399.40" font-size="5.6" text-anchor="end" fill="#6a6a6a">0.5</text>
<line x1="256.10" y1="349.40" x2="258.10" y2="349.40" stroke="#333" stroke-width="0.5"/>
<text x="255.30" y="351.30" font-size="5.6" text-anchor="end" fill="#6a6a6a">0.6</text>
<line x1="256.10" y1="301.30" x2="258.10" y2="301.30" stroke="#333" stroke-width="0.5"/>
<text x="255.30" y="303.20" font-size="5.6" text-anchor="end" fill="#6a6a6a">0.7</text>
<line x1="256.10" y1="253.20" x2="258.10" y2="253.20" stroke="#333" stroke-width="0.5"/>
<text x="255.30" y="255.10" font-size="5.6" text-anchor="end" fill="#6a6a6a">0.8</text>
<line x1="262.70" y1="404.40" x2="262.70" y2="406.20" stroke="#333" stroke-width="0.5"/>
<text x="262.70" y="411.10" font-size="5.6" text-anchor="middle" fill="#6a6a6a">0</text>
<line x1="297.75" y1="404.40" x2="297.75" y2="406.20" stroke="#333" stroke-width="0.5"/>
<text x="297.75" y="411.10" font-size="5.6" text-anchor="middle" fill="#6a6a6a">1</text>
<line x1="332.80" y1="404.40" x2="332.80" y2="406.20" stroke="#333" stroke-width="0.5"/>
<text x="332.80" y="411.10" font-size="5.6" text-anchor="middle" fill="#6a6a6a">2</text>
<line x1="367.85" y1="404.40" x2="367.85" y2="406.20" stroke="#333" stroke-width="0.5"/>
<text x="367.85" y="411.10" font-size="5.6" text-anchor="middle" fill="#6a6a6a">3</text>
<line x1="402.90" y1="404.40" x2="402.90" y2="406.20" stroke="#333" stroke-width="0.5"/>
<text x="402.90" y="411.10" font-size="5.6" text-anchor="middle" fill="#6a6a6a">4</text>
<text x="246.50" y="326.60" font-size="6.0" font-weight="bold" text-anchor="middle" transform="rotate(-90 246.50 326.60)">Degradation_of_ECM</text>
<text x="340.90" y="417.40" font-size="6.0" font-weight="bold" text-anchor="middle">Log2 (CREB5 TPM + 1)</text>
<g fill="#000" fill-opacity="0.42"><circle cx="269.21" cy="342.62" r="2.1"/><circle cx="271.66" cy="287.92" r="2.1"/><circle cx="267.93" cy="329.28" r="2.1"/><circle cx="308.38" cy="367.85" r="2.1"/><circle cx="271.28" cy="353.32" r="2.1"/><circle cx="287.31" cy="385.76" r="2.1"/><circle cx="283.31" cy="342.84" r="2.1"/><circle cx="272.55" cy="320.16" r="2.1"/><circle cx="267.60" cy="376.82" r="2.1"/><circle cx="273.03" cy="286.40" r="2.1"/><circle cx="268.83" cy="295.59" r="2.1"/><circle cx="274.62" cy="306.19" r="2.1"/><circle cx="270.98" cy="350.30" r="2.1"/><circle cx="298.52" cy="318.54" r="2.1"/><circle cx="270.17" cy="314.83" r="2.1"/><circle cx="271.88" cy="302.90" r="2.1"/><circle cx="290.30" cy="286.89" r="2.1"/><circle cx="304.85" cy="377.15" r="2.1"/><circle cx="269.65" cy="350.30" r="2.1"/><circle cx="279.88" cy="358.89" r="2.1"/><circle cx="278.65" cy="336.50" r="2.1"/><circle cx="304.52" cy="311.28" r="2.1"/><circle cx="297.30" cy="255.87" r="2.1"/><circle cx="298.47" cy="322.12" r="2.1"/><circle cx="281.29" cy="300.77" r="2.1"/><circle cx="280.08" cy="323.42" r="2.1"/><circle cx="297.48" cy="320.82" r="2.1"/><circle cx="312.20" cy="265.44" r="2.1"/><circle cx="266.66" cy="362.72" r="2.1"/><circle cx="292.86" cy="302.75" r="2.1"/><circle cx="272.47" cy="271.53" r="2.1"/><circle cx="272.41" cy="343.77" r="2.1"/><circle cx="272.20" cy="355.49" r="2.1"/><circle cx="291.03" cy="357.42" r="2.1"/><circle cx="293.29" cy="332.88" r="2.1"/><circle cx="293.54" cy="321.35" r="2.1"/><circle cx="282.68" cy="325.12" r="2.1"/><circle cx="273.41" cy="297.57" r="2.1"/><circle cx="311.83" cy="323.16" r="2.1"/><circle cx="281.74" cy="317.04" r="2.1"/><circle cx="278.15" cy="373.66" r="2.1"/><circle cx="265.66" cy="350.76" r="2.1"/><circle cx="301.80" cy="322.70" r="2.1"/><circle cx="280.74" cy="392.72" r="2.1"/><circle cx="281.11" cy="323.04" r="2.1"/><circle cx="286.25" cy="299.74" r="2.1"/><circle cx="277.41" cy="325.65" r="2.1"/><circle cx="287.53" cy="317.86" r="2.1"/><circle cx="286.80" cy="324.33" r="2.1"/><circle cx="272.00" cy="363.32" r="2.1"/><circle cx="272.57" cy="328.40" r="2.1"/><circle cx="283.86" cy="341.06" r="2.1"/><circle cx="281.69" cy="323.57" r="2.1"/><circle cx="280.61" cy="324.60" r="2.1"/><circle cx="274.83" cy="325.48" r="2.1"/><circle cx="312.02" cy="351.44" r="2.1"/><circle cx="274.39" cy="330.65" r="2.1"/><circle cx="280.12" cy="277.85" r="2.1"/><circle cx="273.73" cy="303.04" r="2.1"/><circle cx="269.78" cy="337.30" r="2.1"/><circle cx="269.37" cy="351.43" r="2.1"/><circle cx="281.18" cy="298.80" r="2.1"/><circle cx="268.79" cy="331.37" r="2.1"/><circle cx="276.55" cy="378.08" r="2.1"/><circle cx="276.39" cy="341.02" r="2.1"/><circle cx="271.61" cy="283.27" r="2.1"/><circle cx="282.51" cy="373.61" r="2.1"/><circle cx="273.27" cy="328.18" r="2.1"/><circle cx="284.95" cy="346.68" r="2.1"/><circle cx="292.26" cy="324.69" r="2.1"/><circle cx="277.56" cy="340.19" r="2.1"/><circle cx="313.45" cy="339.53" r="2.1"/><circle cx="275.58" cy="335.67" r="2.1"/><circle cx="278.19" cy="327.80" r="2.1"/><circle cx="275.70" cy="333.48" r="2.1"/><circle cx="270.00" cy="361.84" r="2.1"/><circle cx="275.22" cy="347.26" r="2.1"/><circle cx="283.68" cy="264.58" r="2.1"/><circle cx="274.76" cy="361.80" r="2.1"/><circle cx="274.24" cy="339.65" r="2.1"/><circle cx="286.72" cy="360.74" r="2.1"/><circle cx="303.17" cy="325.66" r="2.1"/><circle cx="283.69" cy="319.89" r="2.1"/><circle cx="284.04" cy="292.64" r="2.1"/><circle cx="276.57" cy="323.26" r="2.1"/><circle cx="276.81" cy="329.28" r="2.1"/><circle cx="270.60" cy="321.57" r="2.1"/><circle cx="281.46" cy="311.64" r="2.1"/><circle cx="272.82" cy="331.78" r="2.1"/><circle cx="271.30" cy="331.92" r="2.1"/><circle cx="268.23" cy="298.09" r="2.1"/><circle cx="287.95" cy="344.96" r="2.1"/><circle cx="296.49" cy="323.95" r="2.1"/><circle cx="280.04" cy="353.76" r="2.1"/><circle cx="292.42" cy="337.73" r="2.1"/><circle cx="273.63" cy="288.73" r="2.1"/><circle cx="268.14" cy="352.38" r="2.1"/><circle cx="283.17" cy="312.50" r="2.1"/><circle cx="283.67" cy="267.41" r="2.1"/><circle cx="273.25" cy="315.94" r="2.1"/><circle cx="281.63" cy="331.96" r="2.1"/><circle cx="270.18" cy="353.69" r="2.1"/><circle cx="273.05" cy="357.63" r="2.1"/><circle cx="279.83" cy="354.24" r="2.1"/><circle cx="284.54" cy="299.70" r="2.1"/><circle cx="272.50" cy="311.70" r="2.1"/><circle cx="278.11" cy="365.48" r="2.1"/><circle cx="273.03" cy="313.69" r="2.1"/><circle cx="270.95" cy="349.81" r="2.1"/><circle cx="309.13" cy="266.01" r="2.1"/><circle cx="277.16" cy="287.92" r="2.1"/><circle cx="274.15" cy="311.57" r="2.1"/><circle cx="298.90" cy="331.76" r="2.1"/><circle cx="292.57" cy="273.32" r="2.1"/><circle cx="293.11" cy="297.81" r="2.1"/><circle cx="272.54" cy="297.58" r="2.1"/><circle cx="286.06" cy="309.41" r="2.1"/><circle cx="279.45" cy="334.01" r="2.1"/><circle cx="278.89" cy="304.61" r="2.1"/><circle cx="309.17" cy="338.19" r="2.1"/><circle cx="277.38" cy="304.79" r="2.1"/><circle cx="272.48" cy="323.75" r="2.1"/><circle cx="272.91" cy="375.06" r="2.1"/><circle cx="271.23" cy="315.77" r="2.1"/><circle cx="282.66" cy="326.52" r="2.1"/><circle cx="268.77" cy="341.32" r="2.1"/><circle cx="272.79" cy="331.32" r="2.1"/><circle cx="283.80" cy="302.94" r="2.1"/><circle cx="275.11" cy="360.03" r="2.1"/><circle cx="279.36" cy="356.63" r="2.1"/><circle cx="270.26" cy="309.66" r="2.1"/><circle cx="307.62" cy="310.68" r="2.1"/><circle cx="295.00" cy="369.23" r="2.1"/><circle cx="281.33" cy="322.76" r="2.1"/><circle cx="288.91" cy="370.92" r="2.1"/><circle cx="272.41" cy="310.21" r="2.1"/><circle cx="288.69" cy="315.71" r="2.1"/><circle cx="312.58" cy="300.89" r="2.1"/><circle cx="278.82" cy="370.53" r="2.1"/><circle cx="269.34" cy="353.54" r="2.1"/><circle cx="282.79" cy="302.34" r="2.1"/><circle cx="266.16" cy="372.23" r="2.1"/><circle cx="282.68" cy="312.29" r="2.1"/><circle cx="278.15" cy="334.73" r="2.1"/><circle cx="293.37" cy="318.76" r="2.1"/><circle cx="301.71" cy="342.88" r="2.1"/><circle cx="282.89" cy="310.22" r="2.1"/><circle cx="269.01" cy="321.23" r="2.1"/><circle cx="279.17" cy="304.47" r="2.1"/><circle cx="268.49" cy="262.94" r="2.1"/><circle cx="303.48" cy="324.79" r="2.1"/><circle cx="267.15" cy="330.60" r="2.1"/><circle cx="269.07" cy="361.22" r="2.1"/><circle cx="284.11" cy="276.95" r="2.1"/><circle cx="275.66" cy="338.92" r="2.1"/><circle cx="298.96" cy="298.31" r="2.1"/><circle cx="311.36" cy="346.88" r="2.1"/><circle cx="276.24" cy="335.51" r="2.1"/><circle cx="272.54" cy="312.89" r="2.1"/><circle cx="277.79" cy="314.22" r="2.1"/><circle cx="285.29" cy="332.32" r="2.1"/><circle cx="280.56" cy="301.08" r="2.1"/><circle cx="281.91" cy="322.29" r="2.1"/><circle cx="275.30" cy="298.34" r="2.1"/><circle cx="274.88" cy="334.55" r="2.1"/><circle cx="291.07" cy="303.36" r="2.1"/><circle cx="280.29" cy="338.76" r="2.1"/><circle cx="299.65" cy="282.33" r="2.1"/><circle cx="270.75" cy="328.99" r="2.1"/><circle cx="278.21" cy="324.49" r="2.1"/><circle cx="289.33" cy="337.77" r="2.1"/><circle cx="292.15" cy="292.31" r="2.1"/><circle cx="288.89" cy="317.41" r="2.1"/><circle cx="290.10" cy="327.60" r="2.1"/><circle cx="295.57" cy="282.29" r="2.1"/><circle cx="273.07" cy="349.25" r="2.1"/><circle cx="270.96" cy="301.24" r="2.1"/><circle cx="291.25" cy="279.04" r="2.1"/><circle cx="285.15" cy="371.63" r="2.1"/><circle cx="271.70" cy="303.53" r="2.1"/><circle cx="268.09" cy="314.84" r="2.1"/><circle cx="288.07" cy="316.96" r="2.1"/><circle cx="269.94" cy="319.65" r="2.1"/><circle cx="271.74" cy="363.08" r="2.1"/><circle cx="286.70" cy="309.36" r="2.1"/><circle cx="282.50" cy="318.61" r="2.1"/><circle cx="293.77" cy="362.29" r="2.1"/><circle cx="273.98" cy="333.73" r="2.1"/><circle cx="272.48" cy="362.72" r="2.1"/><circle cx="308.68" cy="312.48" r="2.1"/><circle cx="273.67" cy="353.49" r="2.1"/><circle cx="272.05" cy="326.31" r="2.1"/><circle cx="286.88" cy="363.61" r="2.1"/><circle cx="281.32" cy="341.01" r="2.1"/><circle cx="269.49" cy="342.08" r="2.1"/><circle cx="290.47" cy="328.54" r="2.1"/><circle cx="287.43" cy="292.04" r="2.1"/><circle cx="285.04" cy="263.97" r="2.1"/><circle cx="279.78" cy="369.18" r="2.1"/><circle cx="268.88" cy="307.55" r="2.1"/><circle cx="274.29" cy="336.46" r="2.1"/><circle cx="288.60" cy="331.31" r="2.1"/><circle cx="269.81" cy="339.01" r="2.1"/><circle cx="275.00" cy="332.69" r="2.1"/><circle cx="285.18" cy="326.92" r="2.1"/><circle cx="274.76" cy="305.19" r="2.1"/><circle cx="278.63" cy="291.29" r="2.1"/><circle cx="273.94" cy="318.58" r="2.1"/><circle cx="277.93" cy="325.56" r="2.1"/><circle cx="273.49" cy="312.58" r="2.1"/><circle cx="299.04" cy="307.42" r="2.1"/><circle cx="281.43" cy="274.89" r="2.1"/><circle cx="268.69" cy="356.73" r="2.1"/><circle cx="290.53" cy="360.52" r="2.1"/><circle cx="284.62" cy="331.83" r="2.1"/><circle cx="306.61" cy="307.71" r="2.1"/><circle cx="269.98" cy="336.50" r="2.1"/><circle cx="276.33" cy="321.97" r="2.1"/><circle cx="294.46" cy="392.94" r="2.1"/><circle cx="269.52" cy="352.60" r="2.1"/><circle cx="284.56" cy="344.12" r="2.1"/><circle cx="274.98" cy="366.85" r="2.1"/><circle cx="272.00" cy="347.74" r="2.1"/><circle cx="283.01" cy="333.49" r="2.1"/><circle cx="279.37" cy="317.92" r="2.1"/><circle cx="270.70" cy="357.69" r="2.1"/><circle cx="275.55" cy="376.32" r="2.1"/><circle cx="268.70" cy="322.10" r="2.1"/><circle cx="284.08" cy="274.33" r="2.1"/><circle cx="268.96" cy="329.09" r="2.1"/><circle cx="268.07" cy="330.29" r="2.1"/><circle cx="269.38" cy="360.43" r="2.1"/><circle cx="269.67" cy="327.24" r="2.1"/><circle cx="274.75" cy="287.70" r="2.1"/><circle cx="272.58" cy="385.90" r="2.1"/><circle cx="284.20" cy="299.55" r="2.1"/><circle cx="267.02" cy="387.70" r="2.1"/><circle cx="285.35" cy="285.88" r="2.1"/><circle cx="300.18" cy="298.36" r="2.1"/><circle cx="287.08" cy="334.34" r="2.1"/><circle cx="285.11" cy="318.71" r="2.1"/><circle cx="273.00" cy="285.42" r="2.1"/><circle cx="272.07" cy="360.67" r="2.1"/><circle cx="312.59" cy="283.10" r="2.1"/><circle cx="271.34" cy="315.12" r="2.1"/><circle cx="287.78" cy="324.71" r="2.1"/><circle cx="298.25" cy="280.91" r="2.1"/><circle cx="283.51" cy="371.34" r="2.1"/><circle cx="292.47" cy="326.03" r="2.1"/><circle cx="266.52" cy="365.51" r="2.1"/><circle cx="272.98" cy="331.57" r="2.1"/><circle cx="274.92" cy="314.72" r="2.1"/><circle cx="273.16" cy="374.17" r="2.1"/><circle cx="274.75" cy="321.78" r="2.1"/><circle cx="274.30" cy="321.80" r="2.1"/><circle cx="289.37" cy="339.95" r="2.1"/><circle cx="276.17" cy="331.09" r="2.1"/><circle cx="270.05" cy="301.35" r="2.1"/><circle cx="270.68" cy="322.31" r="2.1"/><circle cx="277.92" cy="283.39" r="2.1"/><circle cx="299.13" cy="348.83" r="2.1"/><circle cx="271.85" cy="364.93" r="2.1"/><circle cx="278.65" cy="295.12" r="2.1"/><circle cx="300.45" cy="356.28" r="2.1"/><circle cx="303.29" cy="285.03" r="2.1"/><circle cx="268.60" cy="332.12" r="2.1"/><circle cx="280.11" cy="308.84" r="2.1"/><circle cx="279.27" cy="336.98" r="2.1"/><circle cx="301.10" cy="290.53" r="2.1"/><circle cx="273.82" cy="292.95" r="2.1"/><circle cx="267.55" cy="298.61" r="2.1"/><circle cx="266.99" cy="318.39" r="2.1"/><circle cx="271.34" cy="366.35" r="2.1"/><circle cx="267.37" cy="305.09" r="2.1"/><circle cx="273.60" cy="326.23" r="2.1"/><circle cx="296.72" cy="283.97" r="2.1"/><circle cx="270.88" cy="371.39" r="2.1"/><circle cx="293.18" cy="309.20" r="2.1"/><circle cx="273.21" cy="341.04" r="2.1"/><circle cx="275.34" cy="328.96" r="2.1"/><circle cx="273.40" cy="304.88" r="2.1"/><circle cx="312.12" cy="291.35" r="2.1"/><circle cx="289.17" cy="283.62" r="2.1"/><circle cx="285.78" cy="311.07" r="2.1"/><circle cx="277.20" cy="312.05" r="2.1"/><circle cx="294.92" cy="311.41" r="2.1"/><circle cx="305.84" cy="347.25" r="2.1"/><circle cx="310.60" cy="284.66" r="2.1"/><circle cx="290.87" cy="344.02" r="2.1"/><circle cx="269.90" cy="343.73" r="2.1"/><circle cx="279.44" cy="314.12" r="2.1"/><circle cx="268.65" cy="348.57" r="2.1"/><circle cx="291.44" cy="334.05" r="2.1"/><circle cx="273.39" cy="396.47" r="2.1"/><circle cx="269.26" cy="354.13" r="2.1"/><circle cx="276.28" cy="358.10" r="2.1"/><circle cx="283.62" cy="342.19" r="2.1"/><circle cx="267.56" cy="316.57" r="2.1"/><circle cx="270.01" cy="337.88" r="2.1"/><circle cx="275.08" cy="332.29" r="2.1"/><circle cx="267.95" cy="328.29" r="2.1"/><circle cx="265.44" cy="304.45" r="2.1"/><circle cx="267.26" cy="301.76" r="2.1"/><circle cx="276.93" cy="316.00" r="2.1"/><circle cx="278.41" cy="333.46" r="2.1"/><circle cx="268.38" cy="306.35" r="2.1"/><circle cx="305.81" cy="324.15" r="2.1"/><circle cx="273.92" cy="333.22" r="2.1"/><circle cx="282.66" cy="316.55" r="2.1"/><circle cx="305.83" cy="329.23" r="2.1"/><circle cx="269.96" cy="359.49" r="2.1"/><circle cx="295.71" cy="353.32" r="2.1"/><circle cx="277.07" cy="335.10" r="2.1"/><circle cx="274.05" cy="322.10" r="2.1"/><circle cx="282.00" cy="307.38" r="2.1"/><circle cx="270.51" cy="350.27" r="2.1"/><circle cx="280.32" cy="319.39" r="2.1"/><circle cx="268.98" cy="328.62" r="2.1"/><circle cx="282.70" cy="336.16" r="2.1"/><circle cx="291.19" cy="340.50" r="2.1"/><circle cx="274.85" cy="349.31" r="2.1"/><circle cx="294.08" cy="315.41" r="2.1"/><circle cx="280.56" cy="282.30" r="2.1"/><circle cx="270.27" cy="337.91" r="2.1"/><circle cx="299.78" cy="280.35" r="2.1"/><circle cx="278.11" cy="352.23" r="2.1"/><circle cx="270.45" cy="338.30" r="2.1"/><circle cx="291.80" cy="324.49" r="2.1"/><circle cx="272.95" cy="333.39" r="2.1"/><circle cx="270.52" cy="325.88" r="2.1"/><circle cx="324.50" cy="267.90" r="2.1"/><circle cx="336.30" cy="270.70" r="2.1"/><circle cx="362.20" cy="257.00" r="2.1"/><circle cx="355.70" cy="262.30" r="2.1"/><circle cx="349.90" cy="274.50" r="2.1"/><circle cx="356.90" cy="275.90" r="2.1"/><circle cx="326.30" cy="282.40" r="2.1"/><circle cx="325.90" cy="285.60" r="2.1"/><circle cx="331.20" cy="292.00" r="2.1"/><circle cx="321.90" cy="293.40" r="2.1"/><circle cx="322.80" cy="295.90" r="2.1"/><circle cx="325.90" cy="295.90" r="2.1"/><circle cx="328.00" cy="298.20" r="2.1"/><circle cx="328.90" cy="302.20" r="2.1"/><circle cx="320.70" cy="302.60" r="2.1"/><circle cx="317.50" cy="300.50" r="2.1"/><circle cx="337.70" cy="301.20" r="2.1"/><circle cx="342.90" cy="299.90" r="2.1"/><circle cx="344.70" cy="307.80" r="2.1"/><circle cx="359.90" cy="289.40" r="2.1"/><circle cx="385.50" cy="287.10" r="2.1"/><circle cx="393.40" cy="288.20" r="2.1"/><circle cx="393.40" cy="291.20" r="2.1"/><circle cx="414.80" cy="284.20" r="2.1"/><circle cx="387.20" cy="300.80" r="2.1"/><circle cx="354.00" cy="312.50" r="2.1"/><circle cx="368.00" cy="321.50" r="2.1"/><circle cx="326.30" cy="314.00" r="2.1"/><circle cx="319.30" cy="316.20" r="2.1"/><circle cx="318.00" cy="323.20" r="2.1"/><circle cx="335.00" cy="328.80" r="2.1"/><circle cx="339.40" cy="325.30" r="2.1"/><circle cx="340.60" cy="325.70" r="2.1"/><circle cx="315.80" cy="335.80" r="2.1"/><circle cx="318.40" cy="342.00" r="2.1"/><circle cx="341.50" cy="349.00" r="2.1"/><circle cx="344.70" cy="345.50" r="2.1"/><circle cx="351.70" cy="347.20" r="2.1"/><circle cx="344.70" cy="365.60" r="2.1"/><circle cx="322.80" cy="369.10" r="2.1"/><circle cx="355.20" cy="380.50" r="2.1"/></g>
<polygon points="265.50,331.50 269.23,330.27 272.95,329.01 276.68,327.70 280.40,326.31 284.12,324.83 287.85,323.25 291.57,321.58 295.30,319.82 299.02,318.00 302.75,316.13 306.48,314.24 310.20,312.33 313.93,310.40 317.65,308.46 321.38,306.51 325.10,304.55 328.82,302.59 332.55,300.63 336.27,298.66 340.00,296.69 343.73,294.72 347.45,292.75 351.18,290.77 354.90,288.80 358.62,286.82 362.35,284.84 366.07,282.86 369.80,280.88 373.52,278.90 377.25,276.92 380.98,274.94 384.70,272.96 388.43,270.98 392.15,269.00 395.88,267.02 399.60,265.03 403.32,263.05 407.05,261.07 410.77,259.08 414.50,257.10 414.50,287.50 410.77,288.62 407.05,289.74 403.32,290.87 399.60,291.99 395.88,293.11 392.15,294.23 388.43,295.36 384.70,296.48 380.98,297.60 377.25,298.73 373.52,299.85 369.80,300.98 366.07,302.10 362.35,303.23 358.62,304.36 354.90,305.48 351.18,306.61 347.45,307.74 343.73,308.87 340.00,310.01 336.27,311.14 332.55,312.28 328.82,313.42 325.10,314.57 321.38,315.72 317.65,316.87 313.93,318.04 310.20,319.21 306.48,320.41 302.75,321.62 299.02,322.86 295.30,324.14 291.57,325.49 287.85,326.92 284.12,328.44 280.40,330.07 276.68,331.79 272.95,333.58 269.23,335.42 265.50,337.30" fill="#999" fill-opacity="0.4"/>
<line x1="265.50" y1="334.40" x2="414.50" y2="272.30" stroke="#1010ee" stroke-width="1.7"/>
<path d="M265.29,238.24 C265.79,236.54 267.00,230.89 268.28,228.06 C269.55,225.24 271.79,222.52 272.96,221.28 C274.12,220.03 274.27,220.23 275.25,220.60 C276.23,220.97 277.47,221.89 278.83,223.51 C280.19,225.12 281.87,228.40 283.41,230.29 C284.95,232.18 286.15,233.33 288.09,234.85 C290.03,236.37 292.74,238.16 295.06,239.40 C297.38,240.65 299.71,241.55 302.03,242.31 C304.36,243.07 306.48,243.39 309.00,243.96 C311.52,244.52 314.06,245.25 317.17,245.70 C320.27,246.15 323.56,246.48 327.62,246.67 C331.69,246.86 336.92,246.75 341.56,246.86 C346.21,246.98 350.08,247.16 355.50,247.35 C360.93,247.54 368.70,248.00 374.12,248.03 C379.55,248.06 383.40,247.54 388.06,247.54 C392.73,247.54 397.59,247.95 402.10,248.03 C406.62,248.11 412.97,248.03 415.15,248.03 L415.15,248.90 L265.29,248.90 Z" fill="#c8685f" stroke="none"/>
<path d="M265.29,238.24 C265.79,236.54 267.00,230.89 268.28,228.06 C269.55,225.24 271.79,222.52 272.96,221.28 C274.12,220.03 274.27,220.23 275.25,220.60 C276.23,220.97 277.47,221.89 278.83,223.51 C280.19,225.12 281.87,228.40 283.41,230.29 C284.95,232.18 286.15,233.33 288.09,234.85 C290.03,236.37 292.74,238.16 295.06,239.40 C297.38,240.65 299.71,241.55 302.03,242.31 C304.36,243.07 306.48,243.39 309.00,243.96 C311.52,244.52 314.06,245.25 317.17,245.70 C320.27,246.15 323.56,246.48 327.62,246.67 C331.69,246.86 336.92,246.75 341.56,246.86 C346.21,246.98 350.08,247.16 355.50,247.35 C360.93,247.54 368.70,248.00 374.12,248.03 C379.55,248.06 383.40,247.54 388.06,247.54 C392.73,247.54 397.59,247.95 402.10,248.03 C406.62,248.11 412.97,248.03 415.15,248.03" fill="none" stroke="#2a2a2a" stroke-width="0.8"/>
<path d="M424.50,257.00 C424.85,258.17 425.73,261.27 426.60,264.00 C427.47,266.73 428.28,270.53 429.70,273.40 C431.12,276.27 433.15,278.87 435.10,281.20 C437.05,283.53 439.45,285.45 441.40,287.40 C443.35,289.35 445.38,291.20 446.80,292.90 C448.22,294.60 449.12,295.92 449.90,297.60 C450.68,299.28 451.15,300.53 451.50,303.00 C451.85,305.47 451.75,309.80 452.00,312.40 C452.25,315.00 452.75,316.78 453.00,318.60 C453.25,320.42 453.62,321.48 453.50,323.30 C453.38,325.12 452.63,327.55 452.30,329.50 C451.97,331.45 451.50,332.92 451.50,335.00 C451.50,337.08 452.30,339.92 452.30,342.00 C452.30,344.08 452.15,345.68 451.50,347.50 C450.85,349.32 449.83,351.08 448.40,352.90 C446.97,354.72 444.60,356.58 442.90,358.40 C441.20,360.22 439.62,361.85 438.20,363.80 C436.78,365.75 435.68,367.75 434.40,370.10 C433.12,372.45 431.68,375.30 430.50,377.90 C429.32,380.50 428.22,382.58 427.30,385.70 C426.38,388.82 425.38,394.78 425.00,396.60 L424.20,396.60 L424.20,257.00 Z" fill="#5ba3cc" stroke="none"/>
<path d="M424.50,257.00 C424.85,258.17 425.73,261.27 426.60,264.00 C427.47,266.73 428.28,270.53 429.70,273.40 C431.12,276.27 433.15,278.87 435.10,281.20 C437.05,283.53 439.45,285.45 441.40,287.40 C443.35,289.35 445.38,291.20 446.80,292.90 C448.22,294.60 449.12,295.92 449.90,297.60 C450.68,299.28 451.15,300.53 451.50,303.00 C451.85,305.47 451.75,309.80 452.00,312.40 C452.25,315.00 452.75,316.78 453.00,318.60 C453.25,320.42 453.62,321.48 453.50,323.30 C453.38,325.12 452.63,327.55 452.30,329.50 C451.97,331.45 451.50,332.92 451.50,335.00 C451.50,337.08 452.30,339.92 452.30,342.00 C452.30,344.08 452.15,345.68 451.50,347.50 C450.85,349.32 449.83,351.08 448.40,352.90 C446.97,354.72 444.60,356.58 442.90,358.40 C441.20,360.22 439.62,361.85 438.20,363.80 C436.78,365.75 435.68,367.75 434.40,370.10 C433.12,372.45 431.68,375.30 430.50,377.90 C429.32,380.50 428.22,382.58 427.30,385.70 C426.38,388.82 425.38,394.78 425.00,396.60" fill="none" stroke="#2a2a2a" stroke-width="0.8"/>
<text x="371.60" y="385.80" font-size="7.8" fill="#333">ρ<tspan font-size="5" dy="1.3">Spearman</tspan><tspan dy="-1.3"> = 0.42</tspan></text>
<path d="M371.80,380.80 Q373.80,378.20 376.00,380.80" fill="none" stroke="#444" stroke-width="0.65"/>
<text x="394.10" y="394.60" font-size="7.8" text-anchor="middle" fill="#333"><tspan font-style="italic">p</tspan> = 2.44e−17</text>
<text x="452.70" y="211.70" font-size="21.5" font-weight="bold">E</text>
<line x1="488.10" y1="250.40" x2="488.10" y2="404.20" stroke="#e9e9e9" stroke-width="0.9"/>
<line x1="506.00" y1="250.40" x2="506.00" y2="404.20" stroke="#f0f0f0" stroke-width="0.7"/>
<line x1="523.90" y1="250.40" x2="523.90" y2="404.20" stroke="#e9e9e9" stroke-width="0.9"/>
<line x1="541.80" y1="250.40" x2="541.80" y2="404.20" stroke="#f0f0f0" stroke-width="0.7"/>
<line x1="559.70" y1="250.40" x2="559.70" y2="404.20" stroke="#e9e9e9" stroke-width="0.9"/>
<line x1="577.60" y1="250.40" x2="577.60" y2="404.20" stroke="#f0f0f0" stroke-width="0.7"/>
<line x1="595.50" y1="250.40" x2="595.50" y2="404.20" stroke="#e9e9e9" stroke-width="0.9"/>
<line x1="613.40" y1="250.40" x2="613.40" y2="404.20" stroke="#f0f0f0" stroke-width="0.7"/>
<line x1="631.30" y1="250.40" x2="631.30" y2="404.20" stroke="#e9e9e9" stroke-width="0.9"/>
<line x1="484.00" y1="400.45" x2="649.30" y2="400.45" stroke="#f0f0f0" stroke-width="0.7"/>
<line x1="484.00" y1="376.20" x2="649.30" y2="376.20" stroke="#e9e9e9" stroke-width="0.9"/>
<line x1="484.00" y1="351.95" x2="649.30" y2="351.95" stroke="#f0f0f0" stroke-width="0.7"/>
<line x1="484.00" y1="327.70" x2="649.30" y2="327.70" stroke="#e9e9e9" stroke-width="0.9"/>
<line x1="484.00" y1="303.45" x2="649.30" y2="303.45" stroke="#f0f0f0" stroke-width="0.7"/>
<line x1="484.00" y1="279.20" x2="649.30" y2="279.20" stroke="#e9e9e9" stroke-width="0.9"/>
<line x1="484.00" y1="254.95" x2="649.30" y2="254.95" stroke="#f0f0f0" stroke-width="0.7"/>
<line x1="481.80" y1="376.20" x2="483.80" y2="376.20" stroke="#333" stroke-width="0.5"/>
<text x="481.00" y="378.10" font-size="5.6" text-anchor="end" fill="#6a6a6a">0.2</text>
<line x1="481.80" y1="327.70" x2="483.80" y2="327.70" stroke="#333" stroke-width="0.5"/>
<text x="481.00" y="329.60" font-size="5.6" text-anchor="end" fill="#6a6a6a">0.4</text>
<line x1="481.80" y1="279.20" x2="483.80" y2="279.20" stroke="#333" stroke-width="0.5"/>
<text x="481.00" y="281.10" font-size="5.6" text-anchor="end" fill="#6a6a6a">0.6</text>
<line x1="488.10" y1="404.40" x2="488.10" y2="406.20" stroke="#333" stroke-width="0.5"/>
<text x="488.10" y="411.10" font-size="5.6" text-anchor="middle" fill="#6a6a6a">0</text>
<line x1="523.90" y1="404.40" x2="523.90" y2="406.20" stroke="#333" stroke-width="0.5"/>
<text x="523.90" y="411.10" font-size="5.6" text-anchor="middle" fill="#6a6a6a">1</text>
<line x1="559.70" y1="404.40" x2="559.70" y2="406.20" stroke="#333" stroke-width="0.5"/>
<text x="559.70" y="411.10" font-size="5.6" text-anchor="middle" fill="#6a6a6a">2</text>
<line x1="595.50" y1="404.40" x2="595.50" y2="406.20" stroke="#333" stroke-width="0.5"/>
<text x="595.50" y="411.10" font-size="5.6" text-anchor="middle" fill="#6a6a6a">3</text>
<line x1="631.30" y1="404.40" x2="631.30" y2="406.20" stroke="#333" stroke-width="0.5"/>
<text x="631.30" y="411.10" font-size="5.6" text-anchor="middle" fill="#6a6a6a">4</text>
<text x="472.20" y="328.40" font-size="6.0" font-weight="bold" text-anchor="middle" transform="rotate(-90 472.20 328.40)">ECM−related_genes</text>
<text x="566.00" y="417.40" font-size="6.0" font-weight="bold" text-anchor="middle">Log2 (CREB5 TPM + 1)</text>
<g fill="#000" fill-opacity="0.42"><circle cx="497.56" cy="324.05" r="2.1"/><circle cx="515.98" cy="358.10" r="2.1"/><circle cx="510.46" cy="298.94" r="2.1"/><circle cx="506.22" cy="311.42" r="2.1"/><circle cx="503.04" cy="343.44" r="2.1"/><circle cx="496.96" cy="320.20" r="2.1"/><circle cx="493.88" cy="300.92" r="2.1"/><circle cx="503.94" cy="299.85" r="2.1"/><circle cx="508.45" cy="305.85" r="2.1"/><circle cx="496.53" cy="331.67" r="2.1"/><circle cx="505.48" cy="307.64" r="2.1"/><circle cx="517.35" cy="281.56" r="2.1"/><circle cx="520.79" cy="260.70" r="2.1"/><circle cx="501.07" cy="300.82" r="2.1"/><circle cx="493.71" cy="299.01" r="2.1"/><circle cx="533.84" cy="281.85" r="2.1"/><circle cx="506.08" cy="317.84" r="2.1"/><circle cx="518.24" cy="346.28" r="2.1"/><circle cx="496.04" cy="328.16" r="2.1"/><circle cx="501.96" cy="318.38" r="2.1"/><circle cx="503.75" cy="309.12" r="2.1"/><circle cx="505.81" cy="314.13" r="2.1"/><circle cx="500.65" cy="332.75" r="2.1"/><circle cx="509.55" cy="326.61" r="2.1"/><circle cx="507.99" cy="321.23" r="2.1"/><circle cx="500.20" cy="338.59" r="2.1"/><circle cx="496.56" cy="339.59" r="2.1"/><circle cx="504.00" cy="357.04" r="2.1"/><circle cx="515.82" cy="324.07" r="2.1"/><circle cx="521.28" cy="312.71" r="2.1"/><circle cx="495.75" cy="338.42" r="2.1"/><circle cx="495.34" cy="330.60" r="2.1"/><circle cx="496.37" cy="322.87" r="2.1"/><circle cx="512.57" cy="343.45" r="2.1"/><circle cx="494.96" cy="339.88" r="2.1"/><circle cx="512.21" cy="339.99" r="2.1"/><circle cx="507.13" cy="311.91" r="2.1"/><circle cx="503.21" cy="347.53" r="2.1"/><circle cx="495.48" cy="325.08" r="2.1"/><circle cx="502.38" cy="367.40" r="2.1"/><circle cx="501.06" cy="285.59" r="2.1"/><circle cx="525.48" cy="303.03" r="2.1"/><circle cx="501.84" cy="340.23" r="2.1"/><circle cx="523.74" cy="316.06" r="2.1"/><circle cx="529.79" cy="271.01" r="2.1"/><circle cx="500.70" cy="319.56" r="2.1"/><circle cx="503.40" cy="352.68" r="2.1"/><circle cx="525.52" cy="313.25" r="2.1"/><circle cx="509.47" cy="328.12" r="2.1"/><circle cx="500.47" cy="308.93" r="2.1"/><circle cx="499.48" cy="316.15" r="2.1"/><circle cx="534.69" cy="342.39" r="2.1"/><circle cx="497.96" cy="314.11" r="2.1"/><circle cx="500.13" cy="296.94" r="2.1"/><circle cx="507.79" cy="284.42" r="2.1"/><circle cx="498.87" cy="310.08" r="2.1"/><circle cx="498.15" cy="276.87" r="2.1"/><circle cx="497.79" cy="285.69" r="2.1"/><circle cx="496.38" cy="300.63" r="2.1"/><circle cx="498.66" cy="282.73" r="2.1"/><circle cx="518.27" cy="364.55" r="2.1"/><circle cx="496.43" cy="289.66" r="2.1"/><circle cx="518.57" cy="277.70" r="2.1"/><circle cx="502.25" cy="316.97" r="2.1"/><circle cx="493.21" cy="299.85" r="2.1"/><circle cx="502.21" cy="328.95" r="2.1"/><circle cx="495.48" cy="320.62" r="2.1"/><circle cx="521.91" cy="311.88" r="2.1"/><circle cx="510.70" cy="334.68" r="2.1"/><circle cx="517.39" cy="314.38" r="2.1"/><circle cx="522.35" cy="346.54" r="2.1"/><circle cx="499.56" cy="318.79" r="2.1"/><circle cx="497.98" cy="279.26" r="2.1"/><circle cx="494.40" cy="276.16" r="2.1"/><circle cx="507.94" cy="313.29" r="2.1"/><circle cx="497.70" cy="278.28" r="2.1"/><circle cx="503.88" cy="305.20" r="2.1"/><circle cx="509.48" cy="340.01" r="2.1"/><circle cx="493.82" cy="331.03" r="2.1"/><circle cx="498.99" cy="316.90" r="2.1"/><circle cx="507.14" cy="313.29" r="2.1"/><circle cx="492.43" cy="303.61" r="2.1"/><circle cx="496.58" cy="331.74" r="2.1"/><circle cx="529.37" cy="314.17" r="2.1"/><circle cx="517.96" cy="286.35" r="2.1"/><circle cx="503.11" cy="310.97" r="2.1"/><circle cx="499.68" cy="305.97" r="2.1"/><circle cx="496.79" cy="317.12" r="2.1"/><circle cx="510.99" cy="295.58" r="2.1"/><circle cx="516.86" cy="292.33" r="2.1"/><circle cx="495.78" cy="332.74" r="2.1"/><circle cx="525.64" cy="280.82" r="2.1"/><circle cx="503.10" cy="327.29" r="2.1"/><circle cx="495.80" cy="307.99" r="2.1"/><circle cx="493.90" cy="322.75" r="2.1"/><circle cx="495.92" cy="301.00" r="2.1"/><circle cx="537.92" cy="295.08" r="2.1"/><circle cx="518.55" cy="295.24" r="2.1"/><circle cx="512.20" cy="306.81" r="2.1"/><circle cx="498.91" cy="316.84" r="2.1"/><circle cx="503.50" cy="308.37" r="2.1"/><circle cx="534.05" cy="302.74" r="2.1"/><circle cx="497.50" cy="332.94" r="2.1"/><circle cx="532.98" cy="336.76" r="2.1"/><circle cx="498.65" cy="302.92" r="2.1"/><circle cx="521.80" cy="278.68" r="2.1"/><circle cx="510.31" cy="331.59" r="2.1"/><circle cx="498.56" cy="303.51" r="2.1"/><circle cx="535.08" cy="315.45" r="2.1"/><circle cx="529.66" cy="300.04" r="2.1"/><circle cx="514.88" cy="289.85" r="2.1"/><circle cx="522.66" cy="298.52" r="2.1"/><circle cx="509.13" cy="316.17" r="2.1"/><circle cx="501.61" cy="355.84" r="2.1"/><circle cx="490.84" cy="321.81" r="2.1"/><circle cx="524.42" cy="306.57" r="2.1"/><circle cx="494.75" cy="289.22" r="2.1"/><circle cx="497.65" cy="330.25" r="2.1"/><circle cx="499.23" cy="316.85" r="2.1"/><circle cx="536.08" cy="297.95" r="2.1"/><circle cx="495.99" cy="288.40" r="2.1"/><circle cx="510.08" cy="336.84" r="2.1"/><circle cx="504.22" cy="295.02" r="2.1"/><circle cx="508.52" cy="313.69" r="2.1"/><circle cx="504.08" cy="327.66" r="2.1"/><circle cx="495.00" cy="345.85" r="2.1"/><circle cx="495.54" cy="336.98" r="2.1"/><circle cx="495.85" cy="297.89" r="2.1"/><circle cx="497.52" cy="326.57" r="2.1"/><circle cx="504.56" cy="333.51" r="2.1"/><circle cx="494.27" cy="325.20" r="2.1"/><circle cx="514.75" cy="280.59" r="2.1"/><circle cx="495.77" cy="294.39" r="2.1"/><circle cx="513.77" cy="291.90" r="2.1"/><circle cx="499.56" cy="293.27" r="2.1"/><circle cx="499.29" cy="297.73" r="2.1"/><circle cx="497.48" cy="324.06" r="2.1"/><circle cx="500.23" cy="338.11" r="2.1"/><circle cx="502.78" cy="286.57" r="2.1"/><circle cx="500.25" cy="316.86" r="2.1"/><circle cx="500.19" cy="311.46" r="2.1"/><circle cx="496.42" cy="325.56" r="2.1"/><circle cx="496.11" cy="304.56" r="2.1"/><circle cx="495.59" cy="286.52" r="2.1"/><circle cx="522.31" cy="315.44" r="2.1"/><circle cx="516.56" cy="305.24" r="2.1"/><circle cx="495.05" cy="314.45" r="2.1"/><circle cx="515.73" cy="294.40" r="2.1"/><circle cx="494.49" cy="316.13" r="2.1"/><circle cx="524.76" cy="304.73" r="2.1"/><circle cx="504.97" cy="325.24" r="2.1"/><circle cx="517.75" cy="307.15" r="2.1"/><circle cx="511.34" cy="325.73" r="2.1"/><circle cx="522.33" cy="290.37" r="2.1"/><circle cx="508.93" cy="313.74" r="2.1"/><circle cx="499.55" cy="278.35" r="2.1"/><circle cx="507.82" cy="325.90" r="2.1"/><circle cx="518.00" cy="330.01" r="2.1"/><circle cx="494.94" cy="295.77" r="2.1"/><circle cx="512.88" cy="295.74" r="2.1"/><circle cx="506.27" cy="341.38" r="2.1"/><circle cx="533.29" cy="306.25" r="2.1"/><circle cx="505.54" cy="287.77" r="2.1"/><circle cx="526.43" cy="313.38" r="2.1"/><circle cx="494.59" cy="300.72" r="2.1"/><circle cx="504.70" cy="288.21" r="2.1"/><circle cx="497.94" cy="324.94" r="2.1"/><circle cx="493.86" cy="308.20" r="2.1"/><circle cx="495.71" cy="296.28" r="2.1"/><circle cx="507.37" cy="266.81" r="2.1"/><circle cx="500.47" cy="292.05" r="2.1"/><circle cx="516.40" cy="277.52" r="2.1"/><circle cx="497.47" cy="301.47" r="2.1"/><circle cx="500.23" cy="298.03" r="2.1"/><circle cx="505.60" cy="299.00" r="2.1"/><circle cx="502.49" cy="316.68" r="2.1"/><circle cx="513.05" cy="348.32" r="2.1"/><circle cx="491.98" cy="352.31" r="2.1"/><circle cx="503.97" cy="304.33" r="2.1"/><circle cx="496.40" cy="304.03" r="2.1"/><circle cx="504.70" cy="310.32" r="2.1"/><circle cx="504.84" cy="324.39" r="2.1"/><circle cx="511.10" cy="320.68" r="2.1"/><circle cx="500.32" cy="341.01" r="2.1"/><circle cx="501.98" cy="287.68" r="2.1"/><circle cx="495.50" cy="351.58" r="2.1"/><circle cx="508.67" cy="275.67" r="2.1"/><circle cx="512.48" cy="319.26" r="2.1"/><circle cx="514.28" cy="254.17" r="2.1"/><circle cx="512.92" cy="299.18" r="2.1"/><circle cx="507.71" cy="318.38" r="2.1"/><circle cx="499.01" cy="311.87" r="2.1"/><circle cx="508.50" cy="321.79" r="2.1"/><circle cx="527.05" cy="272.21" r="2.1"/><circle cx="512.64" cy="310.61" r="2.1"/><circle cx="495.16" cy="310.91" r="2.1"/><circle cx="501.89" cy="332.84" r="2.1"/><circle cx="492.26" cy="304.52" r="2.1"/><circle cx="500.17" cy="346.86" r="2.1"/><circle cx="496.30" cy="330.40" r="2.1"/><circle cx="493.48" cy="289.77" r="2.1"/><circle cx="509.48" cy="356.44" r="2.1"/><circle cx="493.19" cy="310.67" r="2.1"/><circle cx="500.39" cy="289.13" r="2.1"/><circle cx="505.58" cy="310.33" r="2.1"/><circle cx="493.26" cy="285.25" r="2.1"/><circle cx="500.35" cy="287.49" r="2.1"/><circle cx="497.01" cy="305.15" r="2.1"/><circle cx="532.98" cy="338.23" r="2.1"/><circle cx="496.02" cy="326.50" r="2.1"/><circle cx="509.04" cy="319.04" r="2.1"/><circle cx="496.25" cy="294.65" r="2.1"/><circle cx="498.96" cy="317.46" r="2.1"/><circle cx="512.48" cy="317.46" r="2.1"/><circle cx="494.55" cy="345.27" r="2.1"/><circle cx="496.46" cy="321.26" r="2.1"/><circle cx="503.38" cy="309.79" r="2.1"/><circle cx="496.70" cy="370.06" r="2.1"/><circle cx="514.44" cy="312.64" r="2.1"/><circle cx="502.50" cy="307.27" r="2.1"/><circle cx="514.53" cy="317.27" r="2.1"/><circle cx="505.66" cy="317.78" r="2.1"/><circle cx="534.28" cy="317.29" r="2.1"/><circle cx="512.30" cy="293.15" r="2.1"/><circle cx="502.94" cy="327.63" r="2.1"/><circle cx="526.70" cy="281.92" r="2.1"/><circle cx="517.41" cy="303.10" r="2.1"/><circle cx="495.08" cy="359.73" r="2.1"/><circle cx="497.18" cy="324.20" r="2.1"/><circle cx="491.91" cy="313.38" r="2.1"/><circle cx="499.12" cy="298.86" r="2.1"/><circle cx="504.57" cy="312.67" r="2.1"/><circle cx="508.83" cy="316.62" r="2.1"/><circle cx="500.51" cy="299.04" r="2.1"/><circle cx="528.77" cy="272.58" r="2.1"/><circle cx="502.85" cy="354.69" r="2.1"/><circle cx="505.38" cy="328.48" r="2.1"/><circle cx="516.08" cy="274.78" r="2.1"/><circle cx="501.67" cy="309.89" r="2.1"/><circle cx="496.80" cy="338.86" r="2.1"/><circle cx="525.63" cy="270.83" r="2.1"/><circle cx="501.92" cy="273.19" r="2.1"/><circle cx="500.09" cy="321.28" r="2.1"/><circle cx="519.17" cy="293.56" r="2.1"/><circle cx="507.41" cy="313.38" r="2.1"/><circle cx="498.26" cy="308.96" r="2.1"/><circle cx="511.18" cy="291.27" r="2.1"/><circle cx="501.12" cy="321.58" r="2.1"/><circle cx="496.11" cy="319.18" r="2.1"/><circle cx="500.14" cy="322.86" r="2.1"/><circle cx="532.88" cy="342.34" r="2.1"/><circle cx="504.06" cy="305.06" r="2.1"/><circle cx="535.50" cy="286.37" r="2.1"/><circle cx="496.86" cy="314.00" r="2.1"/><circle cx="520.07" cy="308.72" r="2.1"/><circle cx="512.59" cy="294.64" r="2.1"/><circle cx="499.97" cy="331.67" r="2.1"/><circle cx="493.61" cy="341.49" r="2.1"/><circle cx="526.60" cy="297.66" r="2.1"/><circle cx="497.55" cy="314.02" r="2.1"/><circle cx="496.81" cy="279.80" r="2.1"/><circle cx="494.36" cy="349.18" r="2.1"/><circle cx="529.71" cy="307.44" r="2.1"/><circle cx="525.34" cy="334.48" r="2.1"/><circle cx="510.98" cy="266.78" r="2.1"/><circle cx="498.25" cy="325.92" r="2.1"/><circle cx="495.69" cy="301.30" r="2.1"/><circle cx="499.05" cy="364.81" r="2.1"/><circle cx="504.58" cy="335.66" r="2.1"/><circle cx="500.72" cy="299.58" r="2.1"/><circle cx="508.45" cy="322.34" r="2.1"/><circle cx="497.14" cy="330.59" r="2.1"/><circle cx="499.38" cy="301.82" r="2.1"/><circle cx="498.53" cy="314.23" r="2.1"/><circle cx="509.60" cy="310.25" r="2.1"/><circle cx="497.02" cy="311.49" r="2.1"/><circle cx="492.93" cy="329.00" r="2.1"/><circle cx="501.36" cy="282.45" r="2.1"/><circle cx="513.53" cy="289.44" r="2.1"/><circle cx="518.53" cy="312.60" r="2.1"/><circle cx="501.02" cy="323.53" r="2.1"/><circle cx="527.75" cy="346.48" r="2.1"/><circle cx="496.18" cy="341.59" r="2.1"/><circle cx="504.30" cy="285.89" r="2.1"/><circle cx="499.66" cy="341.58" r="2.1"/><circle cx="496.17" cy="326.19" r="2.1"/><circle cx="505.04" cy="278.16" r="2.1"/><circle cx="491.47" cy="295.61" r="2.1"/><circle cx="538.70" cy="295.25" r="2.1"/><circle cx="497.55" cy="307.82" r="2.1"/><circle cx="494.39" cy="324.58" r="2.1"/><circle cx="526.90" cy="302.76" r="2.1"/><circle cx="498.07" cy="315.40" r="2.1"/><circle cx="509.15" cy="283.96" r="2.1"/><circle cx="498.07" cy="299.68" r="2.1"/><circle cx="504.16" cy="329.86" r="2.1"/><circle cx="504.23" cy="283.45" r="2.1"/><circle cx="494.60" cy="298.81" r="2.1"/><circle cx="494.81" cy="292.75" r="2.1"/><circle cx="497.11" cy="288.75" r="2.1"/><circle cx="496.07" cy="299.18" r="2.1"/><circle cx="495.55" cy="311.65" r="2.1"/><circle cx="495.91" cy="287.68" r="2.1"/><circle cx="494.42" cy="291.14" r="2.1"/><circle cx="499.19" cy="319.60" r="2.1"/><circle cx="498.65" cy="318.02" r="2.1"/><circle cx="497.81" cy="309.07" r="2.1"/><circle cx="522.44" cy="295.09" r="2.1"/><circle cx="519.42" cy="308.26" r="2.1"/><circle cx="510.97" cy="339.96" r="2.1"/><circle cx="492.57" cy="290.90" r="2.1"/><circle cx="494.38" cy="330.20" r="2.1"/><circle cx="502.71" cy="337.82" r="2.1"/><circle cx="514.56" cy="327.24" r="2.1"/><circle cx="511.31" cy="309.08" r="2.1"/><circle cx="492.94" cy="321.49" r="2.1"/><circle cx="510.74" cy="360.31" r="2.1"/><circle cx="509.44" cy="344.76" r="2.1"/><circle cx="513.41" cy="344.40" r="2.1"/><circle cx="492.81" cy="333.70" r="2.1"/><circle cx="522.27" cy="304.81" r="2.1"/><circle cx="491.66" cy="332.00" r="2.1"/><circle cx="506.87" cy="270.77" r="2.1"/><circle cx="498.76" cy="296.83" r="2.1"/><circle cx="492.13" cy="286.39" r="2.1"/><circle cx="531.31" cy="288.65" r="2.1"/><circle cx="519.05" cy="335.23" r="2.1"/><circle cx="498.08" cy="304.92" r="2.1"/><circle cx="500.35" cy="345.88" r="2.1"/><circle cx="511.68" cy="331.86" r="2.1"/><circle cx="551.90" cy="262.60" r="2.1"/><circle cx="568.20" cy="262.60" r="2.1"/><circle cx="583.40" cy="262.60" r="2.1"/><circle cx="585.20" cy="256.70" r="2.1"/><circle cx="549.80" cy="270.10" r="2.1"/><circle cx="553.70" cy="273.70" r="2.1"/><circle cx="563.80" cy="271.00" r="2.1"/><circle cx="577.70" cy="271.90" r="2.1"/><circle cx="565.00" cy="278.60" r="2.1"/><circle cx="552.80" cy="281.50" r="2.1"/><circle cx="555.90" cy="285.60" r="2.1"/><circle cx="587.80" cy="278.00" r="2.1"/><circle cx="590.40" cy="275.90" r="2.1"/><circle cx="622.00" cy="281.90" r="2.1"/><circle cx="546.60" cy="291.20" r="2.1"/><circle cx="548.90" cy="291.50" r="2.1"/><circle cx="553.70" cy="292.00" r="2.1"/><circle cx="558.00" cy="293.40" r="2.1"/><circle cx="572.00" cy="289.90" r="2.1"/><circle cx="541.40" cy="299.40" r="2.1"/><circle cx="555.40" cy="299.90" r="2.1"/><circle cx="570.60" cy="297.30" r="2.1"/><circle cx="581.70" cy="297.70" r="2.1"/><circle cx="596.20" cy="302.20" r="2.1"/><circle cx="614.10" cy="299.90" r="2.1"/><circle cx="544.90" cy="306.40" r="2.1"/><circle cx="566.40" cy="308.70" r="2.1"/><circle cx="615.80" cy="310.40" r="2.1"/><circle cx="643.90" cy="311.00" r="2.1"/><circle cx="553.10" cy="313.10" r="2.1"/><circle cx="569.40" cy="316.20" r="2.1"/><circle cx="572.60" cy="313.90" r="2.1"/><circle cx="549.80" cy="321.80" r="2.1"/><circle cx="543.10" cy="331.50" r="2.1"/><circle cx="545.80" cy="334.10" r="2.1"/><circle cx="562.90" cy="336.70" r="2.1"/><circle cx="572.40" cy="335.30" r="2.1"/><circle cx="579.60" cy="334.40" r="2.1"/><circle cx="583.10" cy="344.30" r="2.1"/><circle cx="491.60" cy="399.50" r="2.1"/></g>
<polygon points="491.60,316.89 495.41,315.91 499.22,314.89 503.03,313.84 506.84,312.72 510.65,311.53 514.46,310.27 518.27,308.93 522.08,307.52 525.89,306.06 529.70,304.56 533.51,303.03 537.32,301.48 541.13,299.92 544.94,298.34 548.75,296.75 552.56,295.16 556.37,293.56 560.18,291.95 563.99,290.35 567.80,288.74 571.61,287.12 575.42,285.51 579.23,283.89 583.04,282.28 586.85,280.66 590.66,279.04 594.47,277.42 598.28,275.80 602.09,274.17 605.90,272.55 609.71,270.93 613.52,269.30 617.33,267.68 621.14,266.05 624.95,264.43 628.76,262.80 632.57,261.18 636.38,259.55 640.19,257.93 644.00,256.30 644.00,282.70 640.19,283.58 636.38,284.46 632.57,285.34 628.76,286.22 624.95,287.10 621.14,287.98 617.33,288.86 613.52,289.74 609.71,290.62 605.90,291.50 602.09,292.38 598.28,293.26 594.47,294.15 590.66,295.03 586.85,295.92 583.04,296.80 579.23,297.69 575.42,298.58 571.61,299.47 567.80,300.36 563.99,301.26 560.18,302.16 556.37,303.06 552.56,303.96 548.75,304.87 544.94,305.79 541.13,306.72 537.32,307.66 533.51,308.61 529.70,309.59 525.89,310.59 522.08,311.64 518.27,312.74 514.46,313.90 510.65,315.14 506.84,316.46 503.03,317.85 499.22,319.30 495.41,320.78 491.60,322.31" fill="#999" fill-opacity="0.4"/>
<line x1="491.60" y1="319.60" x2="644.00" y2="269.50" stroke="#1010ee" stroke-width="1.7"/>
<path d="M490.74,236.86 C491.25,235.16 492.49,229.46 493.80,226.62 C495.10,223.77 497.39,221.04 498.58,219.78 C499.76,218.53 499.91,218.73 500.91,219.10 C501.91,219.47 503.19,220.40 504.58,222.03 C505.97,223.65 507.68,226.96 509.25,228.86 C510.83,230.76 512.05,231.92 514.03,233.45 C516.02,234.98 518.78,236.78 521.15,238.03 C523.53,239.29 525.90,240.20 528.27,240.96 C530.65,241.73 532.82,242.05 535.39,242.62 C537.97,243.19 540.56,243.92 543.73,244.38 C546.90,244.83 550.26,245.16 554.41,245.36 C558.56,245.55 563.90,245.44 568.65,245.55 C573.40,245.66 577.35,245.84 582.89,246.04 C588.43,246.23 596.36,246.69 601.91,246.72 C607.45,246.75 611.38,246.23 616.15,246.23 C620.91,246.23 625.88,246.64 630.49,246.72 C635.10,246.80 641.59,246.72 643.81,246.72 L643.81,247.60 L490.74,247.60 Z" fill="#c8685f" stroke="none"/>
<path d="M490.74,236.86 C491.25,235.16 492.49,229.46 493.80,226.62 C495.10,223.77 497.39,221.04 498.58,219.78 C499.76,218.53 499.91,218.73 500.91,219.10 C501.91,219.47 503.19,220.40 504.58,222.03 C505.97,223.65 507.68,226.96 509.25,228.86 C510.83,230.76 512.05,231.92 514.03,233.45 C516.02,234.98 518.78,236.78 521.15,238.03 C523.53,239.29 525.90,240.20 528.27,240.96 C530.65,241.73 532.82,242.05 535.39,242.62 C537.97,243.19 540.56,243.92 543.73,244.38 C546.90,244.83 550.26,245.16 554.41,245.36 C558.56,245.55 563.90,245.44 568.65,245.55 C573.40,245.66 577.35,245.84 582.89,246.04 C588.43,246.23 596.36,246.69 601.91,246.72 C607.45,246.75 611.38,246.23 616.15,246.23 C620.91,246.23 625.88,246.64 630.49,246.72 C635.10,246.80 641.59,246.72 643.81,246.72" fill="none" stroke="#2a2a2a" stroke-width="0.8"/>
<path d="M653.60,256.20 C654.12,256.98 655.28,258.82 656.70,260.90 C658.12,262.98 659.90,265.97 662.10,268.70 C664.30,271.43 667.30,274.70 669.90,277.30 C672.50,279.90 675.62,282.10 677.70,284.30 C679.78,286.50 681.42,288.42 682.40,290.50 C683.38,292.58 683.73,294.72 683.60,296.80 C683.47,298.88 682.20,301.05 681.60,303.00 C681.00,304.95 680.00,306.42 680.00,308.50 C680.00,310.58 681.20,313.03 681.60,315.50 C682.00,317.97 682.48,320.70 682.40,323.30 C682.32,325.90 681.88,328.37 681.10,331.10 C680.32,333.83 679.57,337.10 677.70,339.70 C675.83,342.30 672.50,344.23 669.90,346.70 C667.30,349.17 664.30,351.90 662.10,354.50 C659.90,357.10 657.95,359.70 656.70,362.30 C655.45,364.90 655.12,366.73 654.60,370.10 C654.08,373.47 653.82,377.83 653.60,382.50 C653.38,387.17 653.35,395.50 653.30,398.10 L653.10,398.10 L653.10,256.20 Z" fill="#5ba3cc" stroke="none"/>
<path d="M653.60,256.20 C654.12,256.98 655.28,258.82 656.70,260.90 C658.12,262.98 659.90,265.97 662.10,268.70 C664.30,271.43 667.30,274.70 669.90,277.30 C672.50,279.90 675.62,282.10 677.70,284.30 C679.78,286.50 681.42,288.42 682.40,290.50 C683.38,292.58 683.73,294.72 683.60,296.80 C683.47,298.88 682.20,301.05 681.60,303.00 C681.00,304.95 680.00,306.42 680.00,308.50 C680.00,310.58 681.20,313.03 681.60,315.50 C682.00,317.97 682.48,320.70 682.40,323.30 C682.32,325.90 681.88,328.37 681.10,331.10 C680.32,333.83 679.57,337.10 677.70,339.70 C675.83,342.30 672.50,344.23 669.90,346.70 C667.30,349.17 664.30,351.90 662.10,354.50 C659.90,357.10 657.95,359.70 656.70,362.30 C655.45,364.90 655.12,366.73 654.60,370.10 C654.08,373.47 653.82,377.83 653.60,382.50 C653.38,387.17 653.35,395.50 653.30,398.10" fill="none" stroke="#2a2a2a" stroke-width="0.8"/>
<text x="601.60" y="386.20" font-size="7.8" fill="#333">ρ<tspan font-size="5" dy="1.3">Spearman</tspan><tspan dy="-1.3"> = 0.39</tspan></text>
<path d="M601.80,381.20 Q603.80,378.60 606.00,381.20" fill="none" stroke="#444" stroke-width="0.65"/>
<text x="623.50" y="395.00" font-size="7.8" text-anchor="middle" fill="#333"><tspan font-style="italic">p</tspan> = 5.69e−15</text>
<text x="1.30" y="452.80" font-size="21.5" font-weight="bold">F</text>
<line x1="30.50" y1="477.10" x2="30.50" y2="559.20" stroke="#000" stroke-width="1.0"/>
<line x1="30.00" y1="558.70" x2="155.90" y2="558.70" stroke="#000" stroke-width="1.0"/>
<line x1="27.30" y1="558.70" x2="30.50" y2="558.70" stroke="#000" stroke-width="0.8"/>
<text x="26.70" y="560.60" font-size="5.5" font-weight="bold" text-anchor="end">0.0</text>
<line x1="27.30" y1="538.40" x2="30.50" y2="538.40" stroke="#000" stroke-width="0.8"/>
<text x="26.70" y="540.30" font-size="5.5" font-weight="bold" text-anchor="end">0.5</text>
<line x1="27.30" y1="518.10" x2="30.50" y2="518.10" stroke="#000" stroke-width="0.8"/>
<text x="26.70" y="520.00" font-size="5.5" font-weight="bold" text-anchor="end">1.0</text>
<line x1="27.30" y1="497.80" x2="30.50" y2="497.80" stroke="#000" stroke-width="0.8"/>
<text x="26.70" y="499.70" font-size="5.5" font-weight="bold" text-anchor="end">1.5</text>
<line x1="27.30" y1="477.50" x2="30.50" y2="477.50" stroke="#000" stroke-width="0.8"/>
<text x="26.70" y="479.40" font-size="5.5" font-weight="bold" text-anchor="end">2.0</text>
<line x1="44.70" y1="558.70" x2="44.70" y2="561.30" stroke="#000" stroke-width="0.8"/>
<text x="44.70" y="568.30" font-size="5.8" font-weight="bold" text-anchor="middle">CREB5</text>
<rect x="34.80" y="518.10" width="8.00" height="40.60" fill="#4590c1"/>
<rect x="46.60" y="557.48" width="8.00" height="1.22" fill="#f07880"/>
<line x1="76.90" y1="558.70" x2="76.90" y2="561.30" stroke="#000" stroke-width="0.8"/>
<text x="76.90" y="568.30" font-size="5.8" font-weight="bold" text-anchor="middle">E-Cadherin</text>
<rect x="67.00" y="518.10" width="8.00" height="40.60" fill="#4590c1"/>
<line x1="71.00" y1="518.10" x2="71.00" y2="515.26" stroke="#6fb0d8" stroke-width="0.8"/>
<line x1="68.60" y1="515.26" x2="73.40" y2="515.26" stroke="#6fb0d8" stroke-width="0.8"/>
<rect x="78.80" y="500.64" width="8.00" height="58.06" fill="#f07880"/>
<line x1="82.80" y1="500.64" x2="82.80" y2="496.58" stroke="#f59aa0" stroke-width="0.8"/>
<line x1="80.40" y1="496.58" x2="85.20" y2="496.58" stroke="#f59aa0" stroke-width="0.8"/>
<line x1="109.20" y1="558.70" x2="109.20" y2="561.30" stroke="#000" stroke-width="0.8"/>
<text x="109.20" y="568.30" font-size="5.8" font-weight="bold" text-anchor="middle">N-Cadherin</text>
<rect x="99.30" y="518.10" width="8.00" height="40.60" fill="#4590c1"/>
<line x1="103.30" y1="518.10" x2="103.30" y2="515.26" stroke="#6fb0d8" stroke-width="0.8"/>
<line x1="100.90" y1="515.26" x2="105.70" y2="515.26" stroke="#6fb0d8" stroke-width="0.8"/>
<rect x="111.10" y="544.90" width="8.00" height="13.80" fill="#f07880"/>
<line x1="115.10" y1="544.90" x2="115.10" y2="539.62" stroke="#f59aa0" stroke-width="0.8"/>
<line x1="112.70" y1="539.62" x2="117.50" y2="539.62" stroke="#f59aa0" stroke-width="0.8"/>
<line x1="141.50" y1="558.70" x2="141.50" y2="561.30" stroke="#000" stroke-width="0.8"/>
<text x="141.50" y="568.30" font-size="5.8" font-weight="bold" text-anchor="middle">Vimentin</text>
<rect x="131.60" y="518.10" width="8.00" height="40.60" fill="#4590c1"/>
<line x1="135.60" y1="518.10" x2="135.60" y2="517.69" stroke="#6fb0d8" stroke-width="0.8"/>
<line x1="133.20" y1="517.69" x2="138.00" y2="517.69" stroke="#6fb0d8" stroke-width="0.8"/>
<rect x="143.40" y="527.03" width="8.00" height="31.67" fill="#f07880"/>
<line x1="147.40" y1="527.03" x2="147.40" y2="526.22" stroke="#f59aa0" stroke-width="0.8"/>
<line x1="145.00" y1="526.22" x2="149.80" y2="526.22" stroke="#f59aa0" stroke-width="0.8"/>
<text x="93.20" y="468.40" font-size="7.1" font-weight="bold" text-anchor="middle">Hep3B</text>
<text x="15.00" y="518.00" font-size="5.5" font-weight="bold" text-anchor="middle" transform="rotate(-90 15.00 518.00)">Relative mRNA expression</text>
<rect x="124.40" y="474.20" width="8.80" height="3.40" fill="#4590c1"/>
<text x="137.80" y="477.90" font-size="5.8" fill="#222">shNC</text>
<rect x="124.40" y="485.10" width="8.80" height="3.40" fill="#f07880"/>
<text x="137.80" y="488.80" font-size="5.8" fill="#222">shCREB5</text>
<polyline points="38.40,515.00 38.40,512.40 50.60,512.40 50.60,515.00" fill="none" stroke="#333" stroke-width="0.75"/>
<text x="44.50" y="512.00" font-size="4.8" font-weight="bold" text-anchor="middle" fill="#333">***</text>
<polyline points="71.30,495.00 71.30,492.40 83.70,492.40 83.70,495.00" fill="none" stroke="#333" stroke-width="0.75"/>
<text x="77.50" y="492.00" font-size="4.8" font-weight="bold" text-anchor="middle" fill="#333">**</text>
<polyline points="103.00,513.70 103.00,511.10 114.80,511.10 114.80,513.70" fill="none" stroke="#333" stroke-width="0.75"/>
<text x="108.90" y="510.70" font-size="4.8" font-weight="bold" text-anchor="middle" fill="#333">**</text>
<polyline points="135.20,515.90 135.20,513.30 147.70,513.30 147.70,515.90" fill="none" stroke="#333" stroke-width="0.75"/>
<text x="141.45" y="512.90" font-size="4.8" font-weight="bold" text-anchor="middle" fill="#333">***</text>
<line x1="185.80" y1="477.50" x2="185.80" y2="559.60" stroke="#000" stroke-width="1.0"/>
<line x1="185.30" y1="559.10" x2="310.50" y2="559.10" stroke="#000" stroke-width="1.0"/>
<line x1="182.60" y1="559.10" x2="185.80" y2="559.10" stroke="#000" stroke-width="0.8"/>
<text x="182.00" y="561.00" font-size="5.5" font-weight="bold" text-anchor="end">0</text>
<line x1="182.60" y1="538.80" x2="185.80" y2="538.80" stroke="#000" stroke-width="0.8"/>
<text x="182.00" y="540.70" font-size="5.5" font-weight="bold" text-anchor="end">1</text>
<line x1="182.60" y1="518.50" x2="185.80" y2="518.50" stroke="#000" stroke-width="0.8"/>
<text x="182.00" y="520.40" font-size="5.5" font-weight="bold" text-anchor="end">2</text>
<line x1="182.60" y1="498.20" x2="185.80" y2="498.20" stroke="#000" stroke-width="0.8"/>
<text x="182.00" y="500.10" font-size="5.5" font-weight="bold" text-anchor="end">3</text>
<line x1="182.60" y1="477.90" x2="185.80" y2="477.90" stroke="#000" stroke-width="0.8"/>
<text x="182.00" y="479.80" font-size="5.5" font-weight="bold" text-anchor="end">4</text>
<line x1="198.60" y1="559.10" x2="198.60" y2="561.70" stroke="#000" stroke-width="0.8"/>
<text x="198.60" y="568.70" font-size="5.8" font-weight="bold" text-anchor="middle">CREB5</text>
<rect x="189.20" y="538.80" width="8.00" height="20.30" fill="#4590c1"/>
<line x1="193.20" y1="538.80" x2="193.20" y2="537.78" stroke="#6fb0d8" stroke-width="0.8"/>
<line x1="190.80" y1="537.78" x2="195.60" y2="537.78" stroke="#6fb0d8" stroke-width="0.8"/>
<rect x="201.20" y="555.04" width="8.00" height="4.06" fill="#f07880"/>
<line x1="205.20" y1="555.04" x2="205.20" y2="554.63" stroke="#f59aa0" stroke-width="0.8"/>
<line x1="202.80" y1="554.63" x2="207.60" y2="554.63" stroke="#f59aa0" stroke-width="0.8"/>
<line x1="231.20" y1="559.10" x2="231.20" y2="561.70" stroke="#000" stroke-width="0.8"/>
<text x="231.20" y="568.70" font-size="5.8" font-weight="bold" text-anchor="middle">E-Cadherin</text>
<rect x="221.80" y="538.80" width="8.00" height="20.30" fill="#4590c1"/>
<line x1="225.80" y1="538.80" x2="225.80" y2="534.74" stroke="#6fb0d8" stroke-width="0.8"/>
<line x1="223.40" y1="534.74" x2="228.20" y2="534.74" stroke="#6fb0d8" stroke-width="0.8"/>
<rect x="233.80" y="510.38" width="8.00" height="48.72" fill="#f07880"/>
<line x1="237.80" y1="510.38" x2="237.80" y2="500.84" stroke="#f59aa0" stroke-width="0.8"/>
<line x1="235.40" y1="500.84" x2="240.20" y2="500.84" stroke="#f59aa0" stroke-width="0.8"/>
<line x1="263.80" y1="559.10" x2="263.80" y2="561.70" stroke="#000" stroke-width="0.8"/>
<text x="263.80" y="568.70" font-size="5.8" font-weight="bold" text-anchor="middle">N-Cadherin</text>
<rect x="254.40" y="538.80" width="8.00" height="20.30" fill="#4590c1"/>
<rect x="266.40" y="556.06" width="8.00" height="3.04" fill="#f07880"/>
<line x1="270.40" y1="556.06" x2="270.40" y2="554.63" stroke="#f59aa0" stroke-width="0.8"/>
<line x1="268.00" y1="554.63" x2="272.80" y2="554.63" stroke="#f59aa0" stroke-width="0.8"/>
<line x1="296.20" y1="559.10" x2="296.20" y2="561.70" stroke="#000" stroke-width="0.8"/>
<text x="296.20" y="568.70" font-size="5.8" font-weight="bold" text-anchor="middle">Vimentin</text>
<rect x="286.80" y="538.80" width="8.00" height="20.30" fill="#4590c1"/>
<line x1="290.80" y1="538.80" x2="290.80" y2="538.39" stroke="#6fb0d8" stroke-width="0.8"/>
<line x1="288.40" y1="538.39" x2="293.20" y2="538.39" stroke="#6fb0d8" stroke-width="0.8"/>
<rect x="298.80" y="547.33" width="8.00" height="11.77" fill="#f07880"/>
<line x1="302.80" y1="547.33" x2="302.80" y2="544.48" stroke="#f59aa0" stroke-width="0.8"/>
<line x1="300.40" y1="544.48" x2="305.20" y2="544.48" stroke="#f59aa0" stroke-width="0.8"/>
<text x="247.40" y="468.00" font-size="7.1" font-weight="bold" text-anchor="middle">LM3</text>
<text x="175.00" y="519.00" font-size="5.5" font-weight="bold" text-anchor="middle" transform="rotate(-90 175.00 519.00)">Relative mRNA expression</text>
<rect x="281.60" y="477.10" width="11.00" height="3.40" fill="#4590c1"/>
<text x="295.20" y="480.80" font-size="5.8" fill="#222">shNC</text>
<rect x="281.60" y="487.30" width="11.00" height="3.40" fill="#f07880"/>
<text x="295.20" y="491.00" font-size="5.8" fill="#222">shCREB5</text>
<polyline points="192.50,537.10 192.50,534.50 205.00,534.50 205.00,537.10" fill="none" stroke="#333" stroke-width="0.75"/>
<text x="198.75" y="534.10" font-size="4.8" font-weight="bold" text-anchor="middle" fill="#333">***</text>
<polyline points="225.00,499.10 225.00,496.50 237.50,496.50 237.50,499.10" fill="none" stroke="#333" stroke-width="0.75"/>
<text x="231.25" y="496.10" font-size="4.8" font-weight="bold" text-anchor="middle" fill="#333">**</text>
<polyline points="257.50,538.10 257.50,535.50 270.00,535.50 270.00,538.10" fill="none" stroke="#333" stroke-width="0.75"/>
<text x="263.75" y="535.10" font-size="4.8" font-weight="bold" text-anchor="middle" fill="#333">***</text>
<polyline points="290.00,538.60 290.00,536.00 302.50,536.00 302.50,538.60" fill="none" stroke="#333" stroke-width="0.75"/>
<text x="296.25" y="535.60" font-size="4.8" font-weight="bold" text-anchor="middle" fill="#333">**</text>
<text x="346.00" y="454.30" font-size="21.5" font-weight="bold">G</text>
<line x1="387.60" y1="477.30" x2="387.60" y2="507.60" stroke="#000" stroke-width="1.2"/>
<line x1="387.60" y1="513.20" x2="387.60" y2="559.10" stroke="#000" stroke-width="1.2"/>
<line x1="385.80" y1="505.90" x2="389.40" y2="509.30" stroke="#000" stroke-width="1.2"/>
<line x1="385.80" y1="511.50" x2="389.40" y2="514.90" stroke="#000" stroke-width="1.2"/>
<line x1="387.10" y1="558.60" x2="512.60" y2="558.60" stroke="#000" stroke-width="1.2"/>
<line x1="383.20" y1="558.60" x2="387.60" y2="558.60" stroke="#000" stroke-width="0.8"/>
<text x="382.60" y="560.50" font-size="5.5" font-weight="bold" text-anchor="end">0</text>
<line x1="383.20" y1="543.63" x2="387.60" y2="543.63" stroke="#000" stroke-width="0.8"/>
<text x="382.60" y="545.53" font-size="5.5" font-weight="bold" text-anchor="end">1</text>
<line x1="383.20" y1="528.66" x2="387.60" y2="528.66" stroke="#000" stroke-width="0.8"/>
<text x="382.60" y="530.56" font-size="5.5" font-weight="bold" text-anchor="end">2</text>
<line x1="383.20" y1="513.69" x2="387.60" y2="513.69" stroke="#000" stroke-width="0.8"/>
<text x="382.60" y="515.59" font-size="5.5" font-weight="bold" text-anchor="end">3</text>
<line x1="383.20" y1="507.50" x2="387.60" y2="507.50" stroke="#000" stroke-width="0.8"/>
<text x="382.60" y="509.40" font-size="5.5" font-weight="bold" text-anchor="end">2000</text>
<line x1="383.20" y1="500.05" x2="387.60" y2="500.05" stroke="#000" stroke-width="0.8"/>
<text x="382.60" y="501.95" font-size="5.5" font-weight="bold" text-anchor="end">2500</text>
<line x1="383.20" y1="492.60" x2="387.60" y2="492.60" stroke="#000" stroke-width="0.8"/>
<text x="382.60" y="494.50" font-size="5.5" font-weight="bold" text-anchor="end">3000</text>
<line x1="383.20" y1="485.15" x2="387.60" y2="485.15" stroke="#000" stroke-width="0.8"/>
<text x="382.60" y="487.05" font-size="5.5" font-weight="bold" text-anchor="end">3500</text>
<line x1="383.20" y1="477.70" x2="387.60" y2="477.70" stroke="#000" stroke-width="0.8"/>
<text x="382.60" y="479.60" font-size="5.5" font-weight="bold" text-anchor="end">4000</text>
<line x1="401.00" y1="558.60" x2="401.00" y2="561.20" stroke="#000" stroke-width="0.8"/>
<text x="401.00" y="568.20" font-size="5.8" font-weight="bold" text-anchor="middle">CREB5</text>
<rect x="391.00" y="543.63" width="8.10" height="14.97" fill="#4590c1"/>
<line x1="395.05" y1="543.63" x2="395.05" y2="536.14" stroke="#6fb0d8" stroke-width="0.8"/>
<line x1="392.65" y1="536.14" x2="397.45" y2="536.14" stroke="#6fb0d8" stroke-width="0.8"/>
<rect x="402.90" y="491.11" width="8.70" height="16.39" fill="#f07880"/>
<rect x="402.90" y="513.70" width="8.70" height="44.90" fill="#f07880"/>
<line x1="407.25" y1="491.11" x2="407.25" y2="489.32" stroke="#f59aa0" stroke-width="0.8"/>
<line x1="404.85" y1="489.32" x2="409.65" y2="489.32" stroke="#f59aa0" stroke-width="0.8"/>
<line x1="433.60" y1="558.60" x2="433.60" y2="561.20" stroke="#000" stroke-width="0.8"/>
<text x="433.60" y="568.20" font-size="5.8" font-weight="bold" text-anchor="middle">E-Cadherin</text>
<rect x="423.40" y="543.63" width="8.50" height="14.97" fill="#4590c1"/>
<rect x="435.60" y="549.62" width="8.50" height="8.98" fill="#f07880"/>
<line x1="439.85" y1="549.62" x2="439.85" y2="548.12" stroke="#f59aa0" stroke-width="0.8"/>
<line x1="437.45" y1="548.12" x2="442.25" y2="548.12" stroke="#f59aa0" stroke-width="0.8"/>
<line x1="466.00" y1="558.60" x2="466.00" y2="561.20" stroke="#000" stroke-width="0.8"/>
<text x="466.00" y="568.20" font-size="5.8" font-weight="bold" text-anchor="middle">N-Cadherin</text>
<rect x="455.80" y="543.63" width="8.50" height="14.97" fill="#4590c1"/>
<line x1="460.05" y1="543.63" x2="460.05" y2="542.43" stroke="#6fb0d8" stroke-width="0.8"/>
<line x1="457.65" y1="542.43" x2="462.45" y2="542.43" stroke="#6fb0d8" stroke-width="0.8"/>
<rect x="468.00" y="536.89" width="8.50" height="21.71" fill="#f07880"/>
<line x1="472.25" y1="536.89" x2="472.25" y2="534.65" stroke="#f59aa0" stroke-width="0.8"/>
<line x1="469.85" y1="534.65" x2="474.65" y2="534.65" stroke="#f59aa0" stroke-width="0.8"/>
<line x1="498.30" y1="558.60" x2="498.30" y2="561.20" stroke="#000" stroke-width="0.8"/>
<text x="498.30" y="568.20" font-size="5.8" font-weight="bold" text-anchor="middle">Vimentin</text>
<rect x="488.10" y="543.63" width="8.50" height="14.97" fill="#4590c1"/>
<rect x="500.30" y="525.67" width="8.50" height="32.93" fill="#f07880"/>
<line x1="504.55" y1="525.67" x2="504.55" y2="523.72" stroke="#f59aa0" stroke-width="0.8"/>
<line x1="502.15" y1="523.72" x2="506.95" y2="523.72" stroke="#f59aa0" stroke-width="0.8"/>
<text x="449.70" y="467.30" font-size="7.1" font-weight="bold" text-anchor="middle">HepG2</text>
<text x="367.30" y="518.00" font-size="5.5" font-weight="bold" text-anchor="middle" transform="rotate(-90 367.30 518.00)">Relative mRNA expression</text>
<rect x="480.30" y="483.70" width="9.90" height="3.40" fill="#4590c1"/>
<text x="493.50" y="487.40" font-size="5.8" fill="#222">Vector</text>
<rect x="480.30" y="492.90" width="9.90" height="3.40" fill="#f07880"/>
<text x="493.50" y="496.60" font-size="5.8" fill="#222">CREB5</text>
<polyline points="395.00,488.50 395.00,485.90 407.30,485.90 407.30,488.50" fill="none" stroke="#333" stroke-width="0.75"/>
<text x="401.15" y="485.50" font-size="4.8" font-weight="bold" text-anchor="middle" fill="#333">***</text>
<polyline points="427.50,541.40 427.50,538.80 439.80,538.80 439.80,541.40" fill="none" stroke="#333" stroke-width="0.75"/>
<text x="433.65" y="538.40" font-size="4.8" font-weight="bold" text-anchor="middle" fill="#333">**</text>
<polyline points="460.00,533.90 460.00,531.30 472.20,531.30 472.20,533.90" fill="none" stroke="#333" stroke-width="0.75"/>
<text x="466.10" y="530.90" font-size="4.8" font-weight="bold" text-anchor="middle" fill="#333">**</text>
<polyline points="492.30,522.00 492.30,519.40 504.40,519.40 504.40,522.00" fill="none" stroke="#333" stroke-width="0.75"/>
<text x="498.35" y="519.00" font-size="4.8" font-weight="bold" text-anchor="middle" fill="#333">***</text>
<line x1="550.60" y1="476.80" x2="550.60" y2="515.50" stroke="#000" stroke-width="1.2"/>
<line x1="550.60" y1="520.60" x2="550.60" y2="559.60" stroke="#000" stroke-width="1.2"/>
<line x1="548.80" y1="513.80" x2="552.40" y2="517.20" stroke="#000" stroke-width="1.2"/>
<line x1="548.80" y1="518.90" x2="552.40" y2="522.30" stroke="#000" stroke-width="1.2"/>
<line x1="550.10" y1="559.10" x2="676.80" y2="559.10" stroke="#000" stroke-width="1.2"/>
<line x1="546.60" y1="559.10" x2="550.60" y2="559.10" stroke="#000" stroke-width="0.8"/>
<text x="546.00" y="561.00" font-size="5.5" font-weight="bold" text-anchor="end">0</text>
<line x1="546.60" y1="550.70" x2="550.60" y2="550.70" stroke="#000" stroke-width="0.8"/>
<text x="546.00" y="552.60" font-size="5.5" font-weight="bold" text-anchor="end">1</text>
<line x1="546.60" y1="542.30" x2="550.60" y2="542.30" stroke="#000" stroke-width="0.8"/>
<text x="546.00" y="544.20" font-size="5.5" font-weight="bold" text-anchor="end">2</text>
<line x1="546.60" y1="533.90" x2="550.60" y2="533.90" stroke="#000" stroke-width="0.8"/>
<text x="546.00" y="535.80" font-size="5.5" font-weight="bold" text-anchor="end">3</text>
<line x1="546.60" y1="525.50" x2="550.60" y2="525.50" stroke="#000" stroke-width="0.8"/>
<text x="546.00" y="527.40" font-size="5.5" font-weight="bold" text-anchor="end">4</text>
<line x1="546.60" y1="515.00" x2="550.60" y2="515.00" stroke="#000" stroke-width="0.8"/>
<text x="546.00" y="516.90" font-size="5.5" font-weight="bold" text-anchor="end">10</text>
<line x1="546.60" y1="496.10" x2="550.60" y2="496.10" stroke="#000" stroke-width="0.8"/>
<text x="546.00" y="498.00" font-size="5.5" font-weight="bold" text-anchor="end">15</text>
<line x1="546.60" y1="477.20" x2="550.60" y2="477.20" stroke="#000" stroke-width="0.8"/>
<text x="546.00" y="479.10" font-size="5.5" font-weight="bold" text-anchor="end">20</text>
<line x1="564.80" y1="559.10" x2="564.80" y2="561.70" stroke="#000" stroke-width="0.8"/>
<text x="564.80" y="568.70" font-size="5.8" font-weight="bold" text-anchor="middle">CREB5</text>
<rect x="555.20" y="550.70" width="7.50" height="8.40" fill="#4590c1"/>
<rect x="566.60" y="501.01" width="8.50" height="13.99" fill="#f07880"/>
<rect x="566.60" y="521.40" width="8.50" height="37.70" fill="#f07880"/>
<line x1="570.85" y1="501.01" x2="570.85" y2="498.37" stroke="#f59aa0" stroke-width="0.8"/>
<line x1="568.45" y1="498.37" x2="573.25" y2="498.37" stroke="#f59aa0" stroke-width="0.8"/>
<line x1="597.30" y1="559.10" x2="597.30" y2="561.70" stroke="#000" stroke-width="0.8"/>
<text x="597.30" y="568.70" font-size="5.8" font-weight="bold" text-anchor="middle">E-Cadherin</text>
<rect x="587.50" y="550.70" width="8.00" height="8.40" fill="#4590c1"/>
<line x1="591.50" y1="550.70" x2="591.50" y2="550.28" stroke="#6fb0d8" stroke-width="0.8"/>
<line x1="589.10" y1="550.28" x2="593.90" y2="550.28" stroke="#6fb0d8" stroke-width="0.8"/>
<rect x="599.30" y="552.38" width="8.00" height="6.72" fill="#f07880"/>
<line x1="603.30" y1="552.38" x2="603.30" y2="551.96" stroke="#f59aa0" stroke-width="0.8"/>
<line x1="600.90" y1="551.96" x2="605.70" y2="551.96" stroke="#f59aa0" stroke-width="0.8"/>
<line x1="629.80" y1="559.10" x2="629.80" y2="561.70" stroke="#000" stroke-width="0.8"/>
<text x="629.80" y="568.70" font-size="5.8" font-weight="bold" text-anchor="middle">N-Cadherin</text>
<rect x="620.00" y="550.70" width="8.00" height="8.40" fill="#4590c1"/>
<line x1="624.00" y1="550.70" x2="624.00" y2="549.44" stroke="#6fb0d8" stroke-width="0.8"/>
<line x1="621.60" y1="549.44" x2="626.40" y2="549.44" stroke="#6fb0d8" stroke-width="0.8"/>
<rect x="631.80" y="525.50" width="8.00" height="33.60" fill="#f07880"/>
<line x1="635.80" y1="525.50" x2="635.80" y2="524.24" stroke="#f59aa0" stroke-width="0.8"/>
<line x1="633.40" y1="524.24" x2="638.20" y2="524.24" stroke="#f59aa0" stroke-width="0.8"/>
<line x1="662.00" y1="559.10" x2="662.00" y2="561.70" stroke="#000" stroke-width="0.8"/>
<text x="662.00" y="568.70" font-size="5.8" font-weight="bold" text-anchor="middle">Vimentin</text>
<rect x="652.20" y="550.70" width="8.00" height="8.40" fill="#4590c1"/>
<rect x="664.00" y="546.92" width="8.00" height="12.18" fill="#f07880"/>
<line x1="668.00" y1="546.92" x2="668.00" y2="546.50" stroke="#f59aa0" stroke-width="0.8"/>
<line x1="665.60" y1="546.50" x2="670.40" y2="546.50" stroke="#f59aa0" stroke-width="0.8"/>
<text x="613.00" y="467.30" font-size="7.1" font-weight="bold" text-anchor="middle">Huh7</text>
<text x="537.00" y="519.00" font-size="5.5" font-weight="bold" text-anchor="middle" transform="rotate(-90 537.00 519.00)">Relative mRNA expression</text>
<rect x="642.80" y="483.00" width="9.90" height="3.40" fill="#4590c1"/>
<text x="656.50" y="486.70" font-size="5.8" fill="#222">Vector</text>
<rect x="642.80" y="492.20" width="9.90" height="3.40" fill="#f07880"/>
<text x="656.50" y="495.90" font-size="5.8" fill="#222">CREB5</text>
<polyline points="559.00,496.00 559.00,493.40 571.00,493.40 571.00,496.00" fill="none" stroke="#333" stroke-width="0.75"/>
<text x="565.00" y="493.00" font-size="4.8" font-weight="bold" text-anchor="middle" fill="#333">***</text>
<polyline points="591.50,546.30 591.50,543.70 603.50,543.70 603.50,546.30" fill="none" stroke="#333" stroke-width="0.75"/>
<text x="597.50" y="543.30" font-size="4.8" font-weight="bold" text-anchor="middle" fill="#333">*</text>
<polyline points="624.00,522.00 624.00,519.40 636.00,519.40 636.00,522.00" fill="none" stroke="#333" stroke-width="0.75"/>
<text x="630.00" y="519.00" font-size="4.8" font-weight="bold" text-anchor="middle" fill="#333">***</text>
<polyline points="656.00,543.10 656.00,540.50 668.00,540.50 668.00,543.10" fill="none" stroke="#333" stroke-width="0.75"/>
<text x="662.00" y="540.10" font-size="4.8" font-weight="bold" text-anchor="middle" fill="#333">***</text>
<text x="1.40" y="602.10" font-size="21.5" font-weight="bold">H</text>
<text x="113.10" y="610.70" font-size="12" text-anchor="middle">Hep3B</text>
<line x1="91.40" y1="615.10" x2="138.70" y2="615.10" stroke="#000" stroke-width="1.1"/>
<text x="168.05" y="610.70" font-size="12" text-anchor="middle">LM3</text>
<line x1="145.70" y1="615.10" x2="193.00" y2="615.10" stroke="#000" stroke-width="1.1"/>
<text x="224.25" y="610.70" font-size="12" text-anchor="middle">HepG2</text>
<line x1="202.50" y1="615.10" x2="249.50" y2="615.10" stroke="#000" stroke-width="1.1"/>
<text x="280.55" y="610.70" font-size="12" text-anchor="middle">Huh7</text>
<line x1="254.60" y1="615.10" x2="302.20" y2="615.10" stroke="#000" stroke-width="1.1"/>
<text x="93.10" y="653.10" font-size="11" transform="rotate(-45 93.10 653.10)">shNC</text>
<text x="111.50" y="653.10" font-size="11" transform="rotate(-45 111.50 653.10)">shCREB5</text>
<text x="145.70" y="653.10" font-size="11" transform="rotate(-45 145.70 653.10)">shNC</text>
<text x="163.70" y="653.10" font-size="11" transform="rotate(-45 163.70 653.10)">shCREB5</text>
<text x="205.00" y="653.10" font-size="11" transform="rotate(-45 205.00 653.10)">Vector</text>
<text x="225.40" y="653.10" font-size="11" transform="rotate(-45 225.40 653.10)">CREB5</text>
<text x="258.70" y="653.10" font-size="11" transform="rotate(-45 258.70 653.10)">Vector</text>
<text x="279.50" y="653.10" font-size="11" transform="rotate(-45 279.50 653.10)">CREB5</text>
<text x="298.50" y="653.80" font-size="11.5">kDa</text>
<clipPath id="c559"><rect x="81.50" y="657.30" width="102.20" height="23.60"/></clipPath>
<g clip-path="url(#c559)">
<rect x="81.50" y="657.30" width="102.20" height="23.60" fill="#f5f5f5"/>
<rect x="87.40" y="659.30" width="16.10" height="20.60" fill="#000" opacity="0.06" filter="url(#bl3)"/>
<rect x="111.50" y="659.30" width="16.50" height="20.60" fill="#000" opacity="0.06" filter="url(#bl3)"/>
<rect x="136.00" y="659.30" width="16.00" height="20.60" fill="#000" opacity="0.06" filter="url(#bl3)"/>
<rect x="160.00" y="659.30" width="17.10" height="20.60" fill="#000" opacity="0.06" filter="url(#bl3)"/>
<g opacity="1.0" filter="url(#bl1)" fill="#000"><rect x="86.40" y="665.10" width="18.10" height="4.60" rx="2.30" ry="2.30"/></g>
<g opacity="1.0" filter="url(#bl1)" fill="#000"><rect x="110.50" y="665.10" width="18.50" height="4.60" rx="2.30" ry="2.30"/></g>
<g opacity="1.0" filter="url(#bl1)" fill="#000"><rect x="135.00" y="665.10" width="18.00" height="4.60" rx="2.30" ry="2.30"/></g>
<g opacity="1.0" filter="url(#bl1)" fill="#000"><rect x="159.00" y="664.05" width="19.10" height="6.50" rx="2.40" ry="3.25"/></g>
</g>
<rect x="81.50" y="657.30" width="102.20" height="23.60" fill="none" stroke="#2a2a2a" stroke-width="1.35"/>
<clipPath id="c572"><rect x="189.30" y="657.30" width="102.50" height="23.60"/></clipPath>
<g clip-path="url(#c572)">
<rect x="189.30" y="657.30" width="102.50" height="23.60" fill="#f7f7f7"/>
<rect x="195.40" y="659.30" width="16.90" height="20.60" fill="#000" opacity="0.05" filter="url(#bl3)"/>
<rect x="220.90" y="659.30" width="14.40" height="20.60" fill="#000" opacity="0.05" filter="url(#bl3)"/>
<rect x="243.90" y="659.30" width="16.40" height="20.60" fill="#000" opacity="0.05" filter="url(#bl3)"/>
<rect x="268.40" y="659.30" width="16.70" height="20.60" fill="#000" opacity="0.05" filter="url(#bl3)"/>
<g opacity="1.0" filter="url(#bl1)" fill="#000"><rect x="194.40" y="669.10" width="18.90" height="3.80" rx="1.90" ry="1.90"/></g>
<g opacity="1.0" filter="url(#bl1)" fill="#000"><rect x="219.90" y="670.50" width="16.40" height="3.80" rx="1.90" ry="1.90"/></g>
<g opacity="1.0" filter="url(#bl1)" fill="#000"><rect x="242.90" y="670.20" width="18.40" height="4.80" rx="2.40" ry="2.40"/></g>
<g opacity="1.0" filter="url(#bl1)" fill="#000"><rect x="267.40" y="670.50" width="18.70" height="3.80" rx="1.90" ry="1.90"/></g>
</g>
<rect x="189.30" y="657.30" width="102.50" height="23.60" fill="none" stroke="#2a2a2a" stroke-width="1.35"/>
<text x="51.20" y="673.20" font-size="12" font-weight="bold" text-anchor="middle">E-cadherin</text>
<line x1="292.20" y1="669.10" x2="297.00" y2="669.10" stroke="#000" stroke-width="1.9"/>
<text x="300.20" y="673.20" font-size="11.5">125</text>
<clipPath id="c588"><rect x="81.50" y="684.65" width="102.20" height="23.60"/></clipPath>
<g clip-path="url(#c588)">
<rect x="81.50" y="684.65" width="102.20" height="23.60" fill="#f7f7f7"/>
<rect x="86.80" y="686.65" width="14.40" height="20.60" fill="#000" opacity="0.06" filter="url(#bl3)"/>
<rect x="112.00" y="686.65" width="15.50" height="20.60" fill="#000" opacity="0.06" filter="url(#bl3)"/>
<rect x="136.50" y="686.65" width="15.50" height="20.60" fill="#000" opacity="0.06" filter="url(#bl3)"/>
<rect x="160.50" y="686.65" width="16.50" height="20.60" fill="#000" opacity="0.06" filter="url(#bl3)"/>
<g opacity="1.0" filter="url(#bl1)" fill="#000"><rect x="86.30" y="692.77" width="15.40" height="3.86" rx="1.93"/><ellipse cx="89.48" cy="694.70" rx="3.68" ry="2.30"/><ellipse cx="98.52" cy="694.70" rx="3.68" ry="2.30"/></g>
<g opacity="0.95" filter="url(#bl1)" fill="#000"><rect x="111.50" y="694.07" width="16.50" height="2.86" rx="1.43"/><ellipse cx="113.72" cy="695.50" rx="2.72" ry="1.70"/><ellipse cx="125.78" cy="695.50" rx="2.72" ry="1.70"/></g>
<g opacity="1.0" filter="url(#bl1)" fill="#000"><rect x="136.00" y="693.10" width="16.50" height="4.20" rx="2.10"/><ellipse cx="139.50" cy="695.20" rx="4.00" ry="2.50"/><ellipse cx="149.00" cy="695.20" rx="4.00" ry="2.50"/></g>
<g opacity="0.95" filter="url(#bl1)" fill="#000"><rect x="160.00" y="694.37" width="17.50" height="2.86" rx="1.43"/><ellipse cx="162.22" cy="695.80" rx="2.72" ry="1.70"/><ellipse cx="175.28" cy="695.80" rx="2.72" ry="1.70"/></g>
</g>
<rect x="81.50" y="684.65" width="102.20" height="23.60" fill="none" stroke="#2a2a2a" stroke-width="1.35"/>
<clipPath id="c601"><rect x="189.30" y="684.65" width="102.50" height="23.60"/></clipPath>
<g clip-path="url(#c601)">
<rect x="189.30" y="684.65" width="102.50" height="23.60" fill="#f7f7f7"/>
<rect x="193.60" y="686.65" width="16.40" height="20.60" fill="#000" opacity="0.05" filter="url(#bl3)"/>
<rect x="219.70" y="686.65" width="16.00" height="20.60" fill="#000" opacity="0.05" filter="url(#bl3)"/>
<rect x="245.00" y="686.65" width="15.60" height="20.60" fill="#000" opacity="0.05" filter="url(#bl3)"/>
<rect x="271.00" y="686.65" width="16.40" height="20.60" fill="#000" opacity="0.05" filter="url(#bl3)"/>
<g opacity="1.0" filter="url(#bl1)" fill="#000"><rect x="192.60" y="695.20" width="18.40" height="2.80" rx="1.40" ry="1.40"/></g>
<g opacity="1.0" filter="url(#bl1)" fill="#000"><rect x="218.70" y="695.80" width="18.00" height="3.80" rx="1.90" ry="1.90"/></g>
<g opacity="1.0" filter="url(#bl1)" fill="#000"><rect x="244.00" y="695.80" width="17.60" height="3.80" rx="1.90" ry="1.90"/></g>
<g opacity="1.0" filter="url(#bl1)" fill="#000"><rect x="270.00" y="695.80" width="18.40" height="4.80" rx="2.40" ry="2.40"/></g>
</g>
<rect x="189.30" y="684.65" width="102.50" height="23.60" fill="none" stroke="#2a2a2a" stroke-width="1.35"/>
<text x="51.20" y="700.55" font-size="12" font-weight="bold" text-anchor="middle">N-cadherin</text>
<line x1="292.20" y1="696.45" x2="297.00" y2="696.45" stroke="#000" stroke-width="1.9"/>
<text x="300.20" y="700.55" font-size="11.5">140</text>
<clipPath id="c617"><rect x="81.50" y="712.00" width="102.20" height="23.60"/></clipPath>
<g clip-path="url(#c617)">
<rect x="81.50" y="712.00" width="102.20" height="23.60" fill="#e6e6e6"/>
<rect x="88.70" y="714.00" width="16.10" height="20.60" fill="#000" opacity="0.06" filter="url(#bl3)"/>
<rect x="113.20" y="714.00" width="15.60" height="20.60" fill="#000" opacity="0.06" filter="url(#bl3)"/>
<rect x="136.50" y="714.00" width="15.30" height="20.60" fill="#000" opacity="0.06" filter="url(#bl3)"/>
<rect x="159.90" y="714.00" width="16.00" height="20.60" fill="#000" opacity="0.06" filter="url(#bl3)"/>
<rect x="130.00" y="726.00" width="53.00" height="9.00" fill="#000" opacity="0.05" filter="url(#bl3)"/>
<g opacity="1.0" filter="url(#bl1)" fill="#000"><rect x="87.70" y="719.90" width="18.10" height="3.00" rx="1.50" ry="1.50"/></g>
<g opacity="0.95" filter="url(#bl1)" fill="#000"><rect x="112.20" y="720.80" width="17.60" height="2.00" rx="1.00" ry="1.00"/></g>
<g opacity="1.0" filter="url(#bl1)" fill="#000"><rect x="135.50" y="719.90" width="17.30" height="3.00" rx="1.50" ry="1.50"/></g>
<g opacity="0.95" filter="url(#bl1)" fill="#000"><rect x="158.90" y="720.80" width="18.00" height="2.00" rx="1.00" ry="1.00"/></g>
</g>
<rect x="81.50" y="712.00" width="102.20" height="23.60" fill="none" stroke="#2a2a2a" stroke-width="1.35"/>
<clipPath id="c631"><rect x="189.30" y="712.00" width="102.50" height="23.60"/></clipPath>
<g clip-path="url(#c631)">
<rect x="189.30" y="712.00" width="102.50" height="23.60" fill="#f6f6f6"/>
<rect x="195.10" y="714.00" width="17.20" height="20.60" fill="#000" opacity="0.05" filter="url(#bl3)"/>
<rect x="220.40" y="714.00" width="15.30" height="20.60" fill="#000" opacity="0.05" filter="url(#bl3)"/>
<rect x="242.60" y="714.00" width="14.90" height="20.60" fill="#000" opacity="0.05" filter="url(#bl3)"/>
<rect x="264.10" y="714.00" width="17.20" height="20.60" fill="#000" opacity="0.05" filter="url(#bl3)"/>
<g opacity="0.9" filter="url(#bl1)" fill="#000"><rect x="194.10" y="721.65" width="19.20" height="3.30" rx="1.65" ry="1.65"/></g>
<g opacity="1.0" filter="url(#bl1)" fill="#000"><rect x="219.40" y="721.15" width="17.30" height="4.30" rx="2.15" ry="2.15"/></g>
<g opacity="0.7" filter="url(#bl1)" fill="#000"><rect x="241.60" y="722.18" width="16.90" height="2.24" rx="1.12" opacity="0.25"/><ellipse cx="256.82" cy="723.30" rx="1.82" ry="1.40"/></g>
<g opacity="1.0" filter="url(#bl1)" fill="#000"><rect x="263.10" y="719.15" width="19.20" height="7.30" rx="2.40" ry="3.65"/></g>
</g>
<rect x="189.30" y="712.00" width="102.50" height="23.60" fill="none" stroke="#2a2a2a" stroke-width="1.35"/>
<text x="51.20" y="727.90" font-size="12" font-weight="bold" text-anchor="middle">Vimentin</text>
<line x1="292.20" y1="723.80" x2="297.00" y2="723.80" stroke="#000" stroke-width="1.9"/>
<text x="300.20" y="727.90" font-size="11.5">54</text>
<clipPath id="c647"><rect x="81.50" y="739.35" width="102.20" height="23.60"/></clipPath>
<g clip-path="url(#c647)">
<rect x="81.50" y="739.35" width="102.20" height="23.60" fill="#f6f6f6"/>
<rect x="87.00" y="741.35" width="14.50" height="20.60" fill="#000" opacity="0.06" filter="url(#bl3)"/>
<rect x="111.50" y="741.35" width="15.00" height="20.60" fill="#000" opacity="0.06" filter="url(#bl3)"/>
<rect x="136.20" y="741.35" width="14.80" height="20.60" fill="#000" opacity="0.06" filter="url(#bl3)"/>
<rect x="161.50" y="741.35" width="16.50" height="20.60" fill="#000" opacity="0.06" filter="url(#bl3)"/>
<rect x="86.00" y="747.20" width="16.50" height="12.00" fill="#000" opacity="0.2" filter="url(#bl3)"/>
<rect x="110.50" y="747.60" width="17.00" height="12.00" fill="#000" opacity="0.2" filter="url(#bl3)"/>
<rect x="135.20" y="749.80" width="16.80" height="12.00" fill="#000" opacity="0.2" filter="url(#bl3)"/>
<rect x="160.50" y="748.80" width="18.50" height="12.00" fill="#000" opacity="0.2" filter="url(#bl3)"/>
<g opacity="1.0" filter="url(#bl1)" fill="#000"><rect x="86.50" y="748.39" width="15.50" height="3.61" rx="1.81"/><ellipse cx="89.44" cy="750.20" rx="3.44" ry="2.15"/><ellipse cx="99.06" cy="750.20" rx="3.44" ry="2.15"/></g>
<g opacity="0.55" filter="url(#bl1)" fill="#000"><rect x="110.50" y="749.24" width="17.00" height="2.72" rx="1.36" opacity="0.25"/><ellipse cx="125.46" cy="750.60" rx="2.21" ry="1.70"/></g>
<g opacity="1.0" filter="url(#bl1)" fill="#000"><rect x="135.70" y="750.11" width="15.80" height="5.38" rx="2.69"/><ellipse cx="140.32" cy="752.80" rx="5.12" ry="3.20"/><ellipse cx="146.88" cy="752.80" rx="5.12" ry="3.20"/></g>
<g opacity="0.7" filter="url(#bl1)" fill="#000"><rect x="160.50" y="750.28" width="18.50" height="3.04" rx="1.52" opacity="0.25"/><ellipse cx="176.72" cy="751.80" rx="2.47" ry="1.90"/></g>
</g>
<rect x="81.50" y="739.35" width="102.20" height="23.60" fill="none" stroke="#2a2a2a" stroke-width="1.35"/>
<clipPath id="c664"><rect x="189.30" y="739.35" width="102.50" height="23.60"/></clipPath>
<g clip-path="url(#c664)">
<rect x="189.30" y="739.35" width="102.50" height="23.60" fill="#f6f6f6"/>
<rect x="197.00" y="741.35" width="12.20" height="20.60" fill="#000" opacity="0.05" filter="url(#bl3)"/>
<rect x="219.70" y="741.35" width="13.30" height="20.60" fill="#000" opacity="0.05" filter="url(#bl3)"/>
<rect x="243.40" y="741.35" width="12.60" height="20.60" fill="#000" opacity="0.05" filter="url(#bl3)"/>
<rect x="267.20" y="741.35" width="16.40" height="20.60" fill="#000" opacity="0.05" filter="url(#bl3)"/>
<g opacity="1.0" filter="url(#bl1)" fill="#000"><rect x="196.50" y="751.97" width="13.20" height="2.86" rx="1.43"/><ellipse cx="198.72" cy="753.40" rx="2.72" ry="1.70"/><ellipse cx="207.48" cy="753.40" rx="2.72" ry="1.70"/></g>
<g opacity="1.0" filter="url(#bl1)" fill="#000"><rect x="219.20" y="751.48" width="14.30" height="5.04" rx="2.52"/><ellipse cx="223.50" cy="754.00" rx="4.80" ry="3.00"/><ellipse cx="229.20" cy="754.00" rx="4.80" ry="3.00"/></g>
<g opacity="1.0" filter="url(#bl1)" fill="#000"><rect x="242.40" y="753.22" width="14.60" height="1.96" rx="0.98" opacity="0.6"/><ellipse cx="244.22" cy="754.20" rx="1.96" ry="1.40"/></g>
<g opacity="1.0" filter="url(#bl1)" fill="#000"><rect x="266.70" y="751.90" width="17.40" height="3.19" rx="1.60"/><ellipse cx="269.24" cy="753.50" rx="3.04" ry="1.90"/><ellipse cx="281.56" cy="753.50" rx="3.04" ry="1.90"/></g>
</g>
<rect x="189.30" y="739.35" width="102.50" height="23.60" fill="none" stroke="#2a2a2a" stroke-width="1.35"/>
<text x="51.20" y="755.25" font-size="12" font-weight="bold" text-anchor="middle">CREB5</text>
<line x1="292.20" y1="751.15" x2="297.00" y2="751.15" stroke="#000" stroke-width="1.9"/>
<text x="300.20" y="755.25" font-size="11.5">56</text>
<clipPath id="c680"><rect x="81.50" y="766.70" width="102.20" height="23.60"/></clipPath>
<g clip-path="url(#c680)">
<rect x="81.50" y="766.70" width="102.20" height="23.60" fill="#fafafa"/>
<rect x="88.70" y="768.70" width="20.20" height="20.60" fill="#000" opacity="0.06" filter="url(#bl3)"/>
<rect x="113.50" y="768.70" width="17.30" height="20.60" fill="#000" opacity="0.06" filter="url(#bl3)"/>
<rect x="135.00" y="768.70" width="17.30" height="20.60" fill="#000" opacity="0.06" filter="url(#bl3)"/>
<rect x="157.60" y="768.70" width="19.50" height="20.60" fill="#000" opacity="0.06" filter="url(#bl3)"/>
<g opacity="1.0" filter="url(#bl1)" fill="#000"><rect x="87.70" y="774.60" width="22.20" height="3.40" rx="1.70" ry="1.70"/></g>
<g opacity="1.0" filter="url(#bl1)" fill="#000"><rect x="112.50" y="774.60" width="19.30" height="3.40" rx="1.70" ry="1.70"/></g>
<g opacity="1.0" filter="url(#bl1)" fill="#000"><rect x="134.00" y="774.60" width="19.30" height="3.80" rx="1.90" ry="1.90"/></g>
<g opacity="1.0" filter="url(#bl1)" fill="#000"><rect x="156.60" y="774.10" width="21.50" height="3.40" rx="1.70" ry="1.70"/></g>
</g>
<rect x="81.50" y="766.70" width="102.20" height="23.60" fill="none" stroke="#2a2a2a" stroke-width="1.35"/>
<clipPath id="c693"><rect x="189.30" y="766.70" width="102.50" height="23.60"/></clipPath>
<g clip-path="url(#c693)">
<rect x="189.30" y="766.70" width="102.50" height="23.60" fill="#fafafa"/>
<rect x="195.90" y="768.70" width="17.20" height="20.60" fill="#000" opacity="0.05" filter="url(#bl3)"/>
<rect x="222.70" y="768.70" width="15.60" height="20.60" fill="#000" opacity="0.05" filter="url(#bl3)"/>
<rect x="245.70" y="768.70" width="14.90" height="20.60" fill="#000" opacity="0.05" filter="url(#bl3)"/>
<rect x="268.70" y="768.70" width="16.10" height="20.60" fill="#000" opacity="0.05" filter="url(#bl3)"/>
<rect x="194.90" y="777.20" width="19.20" height="8.00" fill="#000" opacity="0.12" filter="url(#bl3)"/>
<rect x="221.70" y="776.30" width="17.60" height="8.00" fill="#000" opacity="0.12" filter="url(#bl3)"/>
<rect x="244.70" y="776.30" width="16.90" height="8.00" fill="#000" opacity="0.12" filter="url(#bl3)"/>
<rect x="267.70" y="776.30" width="18.10" height="8.00" fill="#000" opacity="0.12" filter="url(#bl3)"/>
<g opacity="1.0" filter="url(#bl1)" fill="#000"><rect x="194.90" y="775.15" width="19.20" height="4.10" rx="2.05" ry="2.05"/></g>
<g opacity="1.0" filter="url(#bl1)" fill="#000"><rect x="221.70" y="774.05" width="17.60" height="4.50" rx="2.25" ry="2.25"/></g>
<g opacity="1.0" filter="url(#bl1)" fill="#000"><rect x="244.70" y="774.05" width="16.90" height="4.50" rx="2.25" ry="2.25"/></g>
<g opacity="1.0" filter="url(#bl1)" fill="#000"><rect x="267.70" y="774.05" width="18.10" height="4.50" rx="2.25" ry="2.25"/></g>
</g>
<rect x="189.30" y="766.70" width="102.50" height="23.60" fill="none" stroke="#2a2a2a" stroke-width="1.35"/>
<text x="51.20" y="782.60" font-size="12" font-weight="bold" text-anchor="middle">β-actin</text>
<line x1="292.20" y1="778.50" x2="297.00" y2="778.50" stroke="#000" stroke-width="1.9"/>
<text x="300.20" y="782.60" font-size="11.5">43</text>
<clipPath id="c713"><rect x="81.50" y="794.05" width="102.20" height="23.60"/></clipPath>
<g clip-path="url(#c713)">
<rect x="81.50" y="794.05" width="102.20" height="23.60" fill="#f8f8f8"/>
<rect x="91.00" y="796.05" width="17.10" height="20.60" fill="#000" opacity="0.06" filter="url(#bl3)"/>
<rect x="114.00" y="796.05" width="16.30" height="20.60" fill="#000" opacity="0.06" filter="url(#bl3)"/>
<rect x="135.40" y="796.05" width="16.90" height="20.60" fill="#000" opacity="0.06" filter="url(#bl3)"/>
<rect x="157.30" y="796.05" width="19.50" height="20.60" fill="#000" opacity="0.06" filter="url(#bl3)"/>
<g opacity="1.0" filter="url(#bl1)" fill="#000"><rect x="90.00" y="802.85" width="19.10" height="4.30" rx="2.15" ry="2.15"/></g>
<g opacity="1.0" filter="url(#bl1)" fill="#000"><rect x="113.00" y="803.60" width="18.30" height="3.00" rx="1.50" ry="1.50"/></g>
<g opacity="1.0" filter="url(#bl1)" fill="#000"><rect x="134.40" y="803.10" width="18.90" height="4.80" rx="2.40" ry="2.40"/></g>
<g opacity="1.0" filter="url(#bl1)" fill="#000"><rect x="156.30" y="805.00" width="21.50" height="2.80" rx="1.40" ry="1.40"/></g>
</g>
<rect x="81.50" y="794.05" width="102.20" height="23.60" fill="none" stroke="#2a2a2a" stroke-width="1.35"/>
<clipPath id="c726"><rect x="189.30" y="794.05" width="102.50" height="23.60"/></clipPath>
<g clip-path="url(#c726)">
<rect x="189.30" y="794.05" width="102.50" height="23.60" fill="#f3f3f3"/>
<rect x="196.70" y="796.05" width="17.10" height="20.60" fill="#000" opacity="0.05" filter="url(#bl3)"/>
<rect x="222.00" y="796.05" width="15.60" height="20.60" fill="#000" opacity="0.05" filter="url(#bl3)"/>
<rect x="244.90" y="796.05" width="13.40" height="20.60" fill="#000" opacity="0.05" filter="url(#bl3)"/>
<rect x="244.90" y="796.05" width="13.40" height="20.60" fill="#000" opacity="0.05" filter="url(#bl3)"/>
<rect x="266.90" y="796.05" width="16.70" height="20.60" fill="#000" opacity="0.05" filter="url(#bl3)"/>
<rect x="195.70" y="798.05" width="19.10" height="7.75" fill="#000" opacity="0.12" filter="url(#bl3)"/>
<rect x="221.00" y="798.05" width="17.60" height="7.45" fill="#000" opacity="0.12" filter="url(#bl3)"/>
<rect x="243.90" y="798.05" width="15.40" height="7.45" fill="#000" opacity="0.12" filter="url(#bl3)"/>
<g opacity="0.8" filter="url(#bl1)" fill="#000"><rect x="195.70" y="807.00" width="19.10" height="1.60" rx="0.80" ry="0.80"/></g>
<g opacity="0.95" filter="url(#bl1)" fill="#000"><rect x="221.00" y="806.35" width="17.60" height="2.30" rx="1.15" ry="1.15"/></g>
<g opacity="0.95" filter="url(#bl1)" fill="#000"><rect x="243.90" y="806.35" width="15.40" height="2.30" rx="1.15" ry="1.15"/></g>
<g opacity="0.6" filter="url(#bl1)" fill="#000"><rect x="243.90" y="802.90" width="15.40" height="1.60" rx="0.80" ry="0.80"/></g>
<g opacity="0.95" filter="url(#bl1)" fill="#000"><rect x="265.90" y="806.60" width="18.70" height="1.80" rx="0.90" ry="0.90"/></g>
</g>
<rect x="189.30" y="794.05" width="102.50" height="23.60" fill="none" stroke="#2a2a2a" stroke-width="1.35"/>
<text x="51.20" y="809.95" font-size="12" font-weight="bold" text-anchor="middle">Snail</text>
<line x1="292.20" y1="805.85" x2="297.00" y2="805.85" stroke="#000" stroke-width="1.9"/>
<text x="300.20" y="809.95" font-size="11.5">35</text>
<circle cx="136.2" cy="714.9" r="1.0" fill="#111"/>
<text x="350.70" y="601.50" font-size="21.5" font-weight="bold">I</text>
<text x="453.60" y="651.00" font-size="12" text-anchor="middle">Hep3B</text>
<line x1="432.30" y1="655.00" x2="478.60" y2="655.00" stroke="#000" stroke-width="1.1"/>
<text x="508.65" y="651.00" font-size="12" text-anchor="middle">LM3</text>
<line x1="485.80" y1="655.00" x2="533.90" y2="655.00" stroke="#000" stroke-width="1.1"/>
<text x="565.00" y="651.00" font-size="12" text-anchor="middle">HepG2</text>
<line x1="542.50" y1="655.00" x2="589.80" y2="655.00" stroke="#000" stroke-width="1.1"/>
<text x="621.50" y="651.00" font-size="12" text-anchor="middle">Huh7</text>
<line x1="595.10" y1="655.00" x2="642.40" y2="655.00" stroke="#000" stroke-width="1.1"/>
<text x="434.10" y="693.20" font-size="11" transform="rotate(-45 434.10 693.20)">shNC</text>
<text x="452.50" y="693.20" font-size="11" transform="rotate(-45 452.50 693.20)">shCREB5</text>
<text x="486.10" y="693.20" font-size="11" transform="rotate(-45 486.10 693.20)">shNC</text>
<text x="504.50" y="693.20" font-size="11" transform="rotate(-45 504.50 693.20)">shCREB5</text>
<text x="545.20" y="693.20" font-size="11" transform="rotate(-45 545.20 693.20)">Vector</text>
<text x="565.50" y="693.20" font-size="11" transform="rotate(-45 565.50 693.20)">CREB5</text>
<text x="600.40" y="693.20" font-size="11" transform="rotate(-45 600.40 693.20)">Vector</text>
<text x="620.10" y="693.20" font-size="11" transform="rotate(-45 620.10 693.20)">CREB5</text>
<text x="637.10" y="694.00" font-size="11.5">kDa</text>
<clipPath id="c766"><rect x="419.40" y="699.10" width="101.90" height="23.20"/></clipPath>
<g clip-path="url(#c766)">
<rect x="419.40" y="699.10" width="101.90" height="23.20" fill="#f8f8f8"/>
<rect x="424.90" y="697.10" width="17.90" height="27.20" fill="#000" opacity="0.24" filter="url(#bl4)"/>
<rect x="451.00" y="697.10" width="16.80" height="27.20" fill="#000" opacity="0.16" filter="url(#bl4)"/>
<rect x="475.50" y="697.10" width="15.80" height="27.20" fill="#000" opacity="0.27" filter="url(#bl4)"/>
<rect x="498.50" y="697.10" width="16.80" height="27.20" fill="#000" opacity="0.12" filter="url(#bl4)"/>
<rect x="425.00" y="716.00" width="17.00" height="6.00" fill="#000" opacity="0.12" filter="url(#bl3)"/>
<rect x="476.00" y="716.00" width="15.00" height="6.00" fill="#000" opacity="0.15" filter="url(#bl3)"/>
<g opacity="0.72" filter="url(#bl1)" fill="#000"><rect x="425.00" y="710.70" width="17.80" height="1.80" rx="0.90" ry="0.90"/></g>
<g opacity="0.4" filter="url(#bl1)" fill="#000"><rect x="451.00" y="710.60" width="16.80" height="1.60" rx="0.80" ry="0.80"/></g>
<g opacity="0.9" filter="url(#bl1)" fill="#000"><rect x="475.50" y="711.20" width="15.80" height="2.40" rx="1.20" ry="1.20"/></g>
<g opacity="0.32" filter="url(#bl1)" fill="#000"><rect x="498.50" y="711.80" width="16.80" height="1.60" rx="0.80" ry="0.80"/></g>
</g>
<rect x="419.40" y="699.10" width="101.90" height="23.20" fill="none" stroke="#2a2a2a" stroke-width="1.35"/>
<clipPath id="c781"><rect x="526.80" y="699.10" width="102.40" height="23.20"/></clipPath>
<g clip-path="url(#c781)">
<rect x="526.80" y="699.10" width="102.40" height="23.20" fill="#e9e9e9"/>
<rect x="554.10" y="697.10" width="19.60" height="27.20" fill="#000" opacity="0.12" filter="url(#bl4)"/>
<rect x="601.60" y="697.10" width="21.50" height="27.20" fill="#000" opacity="0.09" filter="url(#bl4)"/>
<rect x="555.00" y="697.10" width="18.00" height="5.50" fill="#000" opacity="0.3" filter="url(#bl2)"/>
<rect x="602.00" y="697.10" width="20.00" height="5.00" fill="#000" opacity="0.18" filter="url(#bl2)"/>
<rect x="532.00" y="705.10" width="18.00" height="14.00" fill="#000" opacity="0.04" filter="url(#bl3)"/>
<rect x="580.00" y="705.10" width="18.00" height="14.00" fill="#000" opacity="0.03" filter="url(#bl3)"/>
<g opacity="0.75" filter="url(#bl1)" fill="#000"><rect x="554.10" y="707.00" width="19.60" height="1.80" rx="0.90" ry="0.90"/></g>
<g opacity="0.5" filter="url(#bl1)" fill="#000"><rect x="601.60" y="706.80" width="21.50" height="1.60" rx="0.80" ry="0.80"/></g>
</g>
<rect x="526.80" y="699.10" width="102.40" height="23.20" fill="none" stroke="#2a2a2a" stroke-width="1.35"/>
<clipPath id="c794"><rect x="419.40" y="726.70" width="101.90" height="23.20"/></clipPath>
<g clip-path="url(#c794)">
<rect x="419.40" y="726.70" width="101.90" height="23.20" fill="#f8f8f8"/>
<rect x="425.10" y="728.70" width="16.10" height="20.20" fill="#000" opacity="0.05" filter="url(#bl3)"/>
<rect x="449.30" y="728.70" width="14.90" height="20.20" fill="#000" opacity="0.05" filter="url(#bl3)"/>
<rect x="472.60" y="728.70" width="16.70" height="20.20" fill="#000" opacity="0.05" filter="url(#bl3)"/>
<rect x="498.00" y="728.70" width="15.90" height="20.20" fill="#000" opacity="0.05" filter="url(#bl3)"/>
<g opacity="1.0" filter="url(#bl1)" fill="#000"><rect x="424.60" y="734.52" width="17.10" height="2.35" rx="1.18"/><ellipse cx="426.34" cy="735.70" rx="2.24" ry="1.40"/><ellipse cx="439.96" cy="735.70" rx="2.24" ry="1.40"/></g>
<g opacity="1.0" filter="url(#bl1)" fill="#000"><rect x="448.80" y="734.52" width="15.90" height="2.35" rx="1.18"/><ellipse cx="450.54" cy="735.70" rx="2.24" ry="1.40"/><ellipse cx="462.96" cy="735.70" rx="2.24" ry="1.40"/></g>
<g opacity="1.0" filter="url(#bl1)" fill="#000"><rect x="472.10" y="734.36" width="17.70" height="2.69" rx="1.34"/><ellipse cx="474.16" cy="735.70" rx="2.56" ry="1.60"/><ellipse cx="487.74" cy="735.70" rx="2.56" ry="1.60"/></g>
<g opacity="1.0" filter="url(#bl1)" fill="#000"><rect x="497.50" y="735.82" width="16.90" height="2.35" rx="1.18"/><ellipse cx="499.24" cy="737.00" rx="2.24" ry="1.40"/><ellipse cx="512.66" cy="737.00" rx="2.24" ry="1.40"/></g>
</g>
<rect x="419.40" y="726.70" width="101.90" height="23.20" fill="none" stroke="#2a2a2a" stroke-width="1.35"/>
<clipPath id="c807"><rect x="526.80" y="726.70" width="102.40" height="23.20"/></clipPath>
<g clip-path="url(#c807)">
<rect x="526.80" y="726.70" width="102.40" height="23.20" fill="#f8f8f8"/>
<rect x="532.90" y="728.70" width="15.90" height="20.20" fill="#000" opacity="0.06" filter="url(#bl3)"/>
<rect x="556.30" y="728.70" width="17.10" height="20.20" fill="#000" opacity="0.06" filter="url(#bl3)"/>
<rect x="580.90" y="728.70" width="15.90" height="20.20" fill="#000" opacity="0.06" filter="url(#bl3)"/>
<rect x="605.70" y="728.70" width="16.10" height="20.20" fill="#000" opacity="0.06" filter="url(#bl3)"/>
<g opacity="1.0" filter="url(#bl1)" fill="#000"><rect x="531.90" y="732.80" width="17.90" height="2.80" rx="1.40" ry="1.40"/></g>
<g opacity="1.0" filter="url(#bl1)" fill="#000"><rect x="555.30" y="732.70" width="19.10" height="3.00" rx="1.50" ry="1.50"/></g>
<g opacity="1.0" filter="url(#bl1)" fill="#000"><rect x="579.90" y="733.00" width="17.90" height="2.80" rx="1.40" ry="1.40"/></g>
<g opacity="1.0" filter="url(#bl1)" fill="#000"><rect x="604.70" y="732.60" width="18.10" height="2.80" rx="1.40" ry="1.40"/></g>
</g>
<rect x="526.80" y="726.70" width="102.40" height="23.20" fill="none" stroke="#2a2a2a" stroke-width="1.35"/>
<clipPath id="c820"><rect x="419.40" y="753.90" width="101.90" height="23.20"/></clipPath>
<g clip-path="url(#c820)">
<rect x="419.40" y="753.90" width="101.90" height="23.20" fill="#fafafa"/>
<rect x="425.10" y="755.90" width="19.50" height="20.20" fill="#000" opacity="0.03" filter="url(#bl3)"/>
<rect x="450.40" y="755.90" width="17.90" height="20.20" fill="#000" opacity="0.03" filter="url(#bl3)"/>
<rect x="473.00" y="755.90" width="17.60" height="20.20" fill="#000" opacity="0.03" filter="url(#bl3)"/>
<rect x="495.60" y="755.90" width="19.20" height="20.20" fill="#000" opacity="0.03" filter="url(#bl3)"/>
<g opacity="1.0" filter="url(#bl1)" fill="#000"><rect x="424.10" y="761.20" width="21.50" height="3.80" rx="1.90" ry="1.90"/></g>
<g opacity="1.0" filter="url(#bl1)" fill="#000"><rect x="449.40" y="761.74" width="19.90" height="2.72" rx="1.36" opacity="0.25"/><ellipse cx="467.26" cy="763.10" rx="2.21" ry="1.70"/></g>
<g opacity="1.0" filter="url(#bl1)" fill="#000"><rect x="472.00" y="761.20" width="19.60" height="3.80" rx="1.90" ry="1.90"/></g>
<g opacity="1.0" filter="url(#bl1)" fill="#000"><rect x="494.60" y="761.20" width="21.20" height="3.80" rx="1.90" ry="1.90"/></g>
</g>
<rect x="419.40" y="753.90" width="101.90" height="23.20" fill="none" stroke="#2a2a2a" stroke-width="1.35"/>
<clipPath id="c833"><rect x="526.80" y="753.90" width="102.40" height="23.20"/></clipPath>
<g clip-path="url(#c833)">
<rect x="526.80" y="753.90" width="102.40" height="23.20" fill="#fafafa"/>
<rect x="533.70" y="755.90" width="17.60" height="20.20" fill="#000" opacity="0.03" filter="url(#bl3)"/>
<rect x="556.70" y="755.90" width="17.60" height="20.20" fill="#000" opacity="0.03" filter="url(#bl3)"/>
<rect x="579.60" y="755.90" width="17.20" height="20.20" fill="#000" opacity="0.03" filter="url(#bl3)"/>
<rect x="601.90" y="755.90" width="19.40" height="20.20" fill="#000" opacity="0.03" filter="url(#bl3)"/>
<g opacity="1.0" filter="url(#bl1)" fill="#000"><rect x="532.70" y="761.60" width="19.60" height="3.80" rx="1.90" ry="1.90"/></g>
<g opacity="1.0" filter="url(#bl1)" fill="#000"><rect x="555.70" y="761.60" width="19.60" height="3.80" rx="1.90" ry="1.90"/></g>
<g opacity="1.0" filter="url(#bl1)" fill="#000"><rect x="578.60" y="761.60" width="19.20" height="3.80" rx="1.90" ry="1.90"/></g>
<g opacity="1.0" filter="url(#bl1)" fill="#000"><rect x="600.90" y="761.60" width="21.40" height="3.80" rx="1.90" ry="1.90"/></g>
</g>
<rect x="526.80" y="753.90" width="102.40" height="23.20" fill="none" stroke="#2a2a2a" stroke-width="1.35"/>
<text x="398.20" y="714.80" font-size="12" font-weight="bold" text-anchor="middle">MMP2</text>
<line x1="629.60" y1="710.70" x2="633.90" y2="710.70" stroke="#000" stroke-width="1.9"/>
<text x="636.50" y="714.80" font-size="11.5">72</text>
<text x="398.20" y="742.40" font-size="12" font-weight="bold" text-anchor="middle">MMP9</text>
<line x1="629.60" y1="738.30" x2="633.90" y2="738.30" stroke="#000" stroke-width="1.9"/>
<text x="636.50" y="742.40" font-size="11.5">100</text>
<text x="398.20" y="769.60" font-size="12" font-weight="bold" text-anchor="middle">β-actin</text>
<line x1="629.60" y1="765.50" x2="633.90" y2="765.50" stroke="#000" stroke-width="1.9"/>
<text x="636.50" y="769.60" font-size="11.5">43</text>
<text x="1.20" y="841.10" font-size="21.5" font-weight="bold">J</text>
<line x1="50.90" y1="865.00" x2="50.90" y2="950.80" stroke="#000" stroke-width="1.0"/>
<line x1="50.40" y1="950.30" x2="129.00" y2="950.30" stroke="#000" stroke-width="1.0"/>
<line x1="47.70" y1="950.30" x2="50.90" y2="950.30" stroke="#000" stroke-width="0.8"/>
<text x="47.10" y="952.20" font-size="5.5" font-weight="bold" text-anchor="end">0.0</text>
<line x1="47.70" y1="922.00" x2="50.90" y2="922.00" stroke="#000" stroke-width="0.8"/>
<text x="47.10" y="923.90" font-size="5.5" font-weight="bold" text-anchor="end">0.5</text>
<line x1="47.70" y1="893.70" x2="50.90" y2="893.70" stroke="#000" stroke-width="0.8"/>
<text x="47.10" y="895.60" font-size="5.5" font-weight="bold" text-anchor="end">1.0</text>
<line x1="47.70" y1="865.40" x2="50.90" y2="865.40" stroke="#000" stroke-width="0.8"/>
<text x="47.10" y="867.30" font-size="5.5" font-weight="bold" text-anchor="end">1.5</text>
<line x1="68.50" y1="950.30" x2="68.50" y2="952.90" stroke="#000" stroke-width="0.8"/>
<text x="68.50" y="959.90" font-size="5.8" font-weight="bold" text-anchor="middle">MMP2</text>
<rect x="54.60" y="893.70" width="11.20" height="56.60" fill="#4590c1"/>
<line x1="60.20" y1="893.70" x2="60.20" y2="876.15" stroke="#6fb0d8" stroke-width="0.8"/>
<line x1="57.45" y1="876.15" x2="62.95" y2="876.15" stroke="#6fb0d8" stroke-width="0.8"/>
<rect x="71.20" y="935.02" width="10.70" height="15.28" fill="#f07880"/>
<line x1="76.55" y1="935.02" x2="76.55" y2="921.43" stroke="#f59aa0" stroke-width="0.8"/>
<line x1="73.80" y1="921.43" x2="79.30" y2="921.43" stroke="#f59aa0" stroke-width="0.8"/>
<line x1="111.70" y1="950.30" x2="111.70" y2="952.90" stroke="#000" stroke-width="0.8"/>
<text x="111.70" y="959.90" font-size="5.8" font-weight="bold" text-anchor="middle">MMP9</text>
<rect x="98.00" y="893.70" width="11.20" height="56.60" fill="#4590c1"/>
<line x1="103.60" y1="893.70" x2="103.60" y2="885.21" stroke="#6fb0d8" stroke-width="0.8"/>
<line x1="100.85" y1="885.21" x2="106.35" y2="885.21" stroke="#6fb0d8" stroke-width="0.8"/>
<rect x="114.20" y="915.21" width="11.10" height="35.09" fill="#f07880"/>
<line x1="119.75" y1="915.21" x2="119.75" y2="911.25" stroke="#f59aa0" stroke-width="0.8"/>
<line x1="117.00" y1="911.25" x2="122.50" y2="911.25" stroke="#f59aa0" stroke-width="0.8"/>
<text x="89.40" y="855.40" font-size="7.6" font-weight="bold" text-anchor="middle">Hep3B</text>
<text x="33.50" y="908.00" font-size="5.5" font-weight="bold" text-anchor="middle" transform="rotate(-90 33.50 908.00)">Relative mRNA expression</text>
<rect x="127.80" y="867.20" width="10.00" height="3.40" fill="#4590c1"/>
<text x="141.50" y="870.90" font-size="5.8" fill="#222">shNC</text>
<rect x="127.80" y="876.60" width="10.00" height="3.40" fill="#f07880"/>
<text x="141.50" y="880.30" font-size="5.8" fill="#222">shCREB5</text>
<polyline points="60.30,873.00 60.30,870.40 75.70,870.40 75.70,873.00" fill="none" stroke="#333" stroke-width="0.75"/>
<text x="68.00" y="870.10" font-size="5.6" font-weight="bold" text-anchor="middle" fill="#333">*</text>
<polyline points="103.70,882.20 103.70,879.60 119.60,879.60 119.60,882.20" fill="none" stroke="#333" stroke-width="0.75"/>
<text x="111.65" y="879.30" font-size="5.6" font-weight="bold" text-anchor="middle" fill="#333">*</text>
<line x1="196.00" y1="865.00" x2="196.00" y2="950.80" stroke="#000" stroke-width="1.0"/>
<line x1="195.50" y1="950.30" x2="274.20" y2="950.30" stroke="#000" stroke-width="1.0"/>
<line x1="192.80" y1="950.30" x2="196.00" y2="950.30" stroke="#000" stroke-width="0.8"/>
<text x="192.20" y="952.20" font-size="5.5" font-weight="bold" text-anchor="end">0.0</text>
<line x1="192.80" y1="922.00" x2="196.00" y2="922.00" stroke="#000" stroke-width="0.8"/>
<text x="192.20" y="923.90" font-size="5.5" font-weight="bold" text-anchor="end">0.5</text>
<line x1="192.80" y1="893.70" x2="196.00" y2="893.70" stroke="#000" stroke-width="0.8"/>
<text x="192.20" y="895.60" font-size="5.5" font-weight="bold" text-anchor="end">1.0</text>
<line x1="192.80" y1="865.40" x2="196.00" y2="865.40" stroke="#000" stroke-width="0.8"/>
<text x="192.20" y="867.30" font-size="5.5" font-weight="bold" text-anchor="end">1.5</text>
<line x1="214.60" y1="950.30" x2="214.60" y2="952.90" stroke="#000" stroke-width="0.8"/>
<text x="214.60" y="959.90" font-size="5.8" font-weight="bold" text-anchor="middle">MMP2</text>
<rect x="201.70" y="893.70" width="10.50" height="56.60" fill="#4590c1"/>
<line x1="206.95" y1="893.70" x2="206.95" y2="880.12" stroke="#6fb0d8" stroke-width="0.8"/>
<line x1="204.20" y1="880.12" x2="209.70" y2="880.12" stroke="#6fb0d8" stroke-width="0.8"/>
<rect x="217.10" y="927.66" width="10.40" height="22.64" fill="#f07880"/>
<line x1="222.30" y1="927.66" x2="222.30" y2="918.04" stroke="#f59aa0" stroke-width="0.8"/>
<line x1="219.55" y1="918.04" x2="225.05" y2="918.04" stroke="#f59aa0" stroke-width="0.8"/>
<line x1="255.60" y1="950.30" x2="255.60" y2="952.90" stroke="#000" stroke-width="0.8"/>
<text x="255.60" y="959.90" font-size="5.8" font-weight="bold" text-anchor="middle">MMP9</text>
<rect x="243.20" y="893.70" width="9.90" height="56.60" fill="#4590c1"/>
<line x1="248.15" y1="893.70" x2="248.15" y2="877.85" stroke="#6fb0d8" stroke-width="0.8"/>
<line x1="245.40" y1="877.85" x2="250.90" y2="877.85" stroke="#6fb0d8" stroke-width="0.8"/>
<rect x="258.60" y="923.13" width="10.10" height="27.17" fill="#f07880"/>
<line x1="263.65" y1="923.13" x2="263.65" y2="920.87" stroke="#f59aa0" stroke-width="0.8"/>
<line x1="260.90" y1="920.87" x2="266.40" y2="920.87" stroke="#f59aa0" stroke-width="0.8"/>
<text x="235.70" y="855.40" font-size="7.6" font-weight="bold" text-anchor="middle">LM3</text>
<text x="180.40" y="908.00" font-size="5.5" font-weight="bold" text-anchor="middle" transform="rotate(-90 180.40 908.00)">Relative mRNA expression</text>
<rect x="273.50" y="874.90" width="9.40" height="3.40" fill="#4590c1"/>
<text x="287.90" y="878.60" font-size="5.8" fill="#222">shNC</text>
<rect x="273.50" y="884.80" width="9.40" height="3.40" fill="#f07880"/>
<text x="287.90" y="888.50" font-size="5.8" fill="#222">shCREB5</text>
<polyline points="206.70,879.20 206.70,876.60 222.60,876.60 222.60,879.20" fill="none" stroke="#333" stroke-width="0.75"/>
<text x="214.65" y="876.30" font-size="5.6" font-weight="bold" text-anchor="middle" fill="#333">*</text>
<polyline points="247.40,876.70 247.40,874.10 263.80,874.10 263.80,876.70" fill="none" stroke="#333" stroke-width="0.75"/>
<text x="255.60" y="873.80" font-size="5.6" font-weight="bold" text-anchor="middle" fill="#333">*</text>
<text x="347.60" y="834.20" font-size="21.5" font-weight="bold">K</text>
<line x1="417.70" y1="865.85" x2="417.70" y2="951.50" stroke="#000" stroke-width="1.0"/>
<line x1="417.20" y1="951.00" x2="498.80" y2="951.00" stroke="#000" stroke-width="1.0"/>
<line x1="414.50" y1="951.00" x2="417.70" y2="951.00" stroke="#000" stroke-width="0.8"/>
<text x="413.90" y="952.90" font-size="5.5" font-weight="bold" text-anchor="end">0.0</text>
<line x1="414.50" y1="934.05" x2="417.70" y2="934.05" stroke="#000" stroke-width="0.8"/>
<text x="413.90" y="935.95" font-size="5.5" font-weight="bold" text-anchor="end">0.5</text>
<line x1="414.50" y1="917.10" x2="417.70" y2="917.10" stroke="#000" stroke-width="0.8"/>
<text x="413.90" y="919.00" font-size="5.5" font-weight="bold" text-anchor="end">1.0</text>
<line x1="414.50" y1="900.15" x2="417.70" y2="900.15" stroke="#000" stroke-width="0.8"/>
<text x="413.90" y="902.05" font-size="5.5" font-weight="bold" text-anchor="end">1.5</text>
<line x1="414.50" y1="883.20" x2="417.70" y2="883.20" stroke="#000" stroke-width="0.8"/>
<text x="413.90" y="885.10" font-size="5.5" font-weight="bold" text-anchor="end">2.0</text>
<line x1="414.50" y1="866.25" x2="417.70" y2="866.25" stroke="#000" stroke-width="0.8"/>
<text x="413.90" y="868.15" font-size="5.5" font-weight="bold" text-anchor="end">2.5</text>
<line x1="436.80" y1="951.00" x2="436.80" y2="953.60" stroke="#000" stroke-width="0.8"/>
<text x="436.80" y="960.60" font-size="5.8" font-weight="bold" text-anchor="middle">MMP2</text>
<rect x="423.10" y="917.10" width="10.70" height="33.90" fill="#4590c1"/>
<line x1="428.45" y1="917.10" x2="428.45" y2="908.29" stroke="#6fb0d8" stroke-width="0.8"/>
<line x1="425.70" y1="908.29" x2="431.20" y2="908.29" stroke="#6fb0d8" stroke-width="0.8"/>
<rect x="439.30" y="882.52" width="10.70" height="68.48" fill="#f07880"/>
<line x1="444.65" y1="882.52" x2="444.65" y2="875.06" stroke="#f59aa0" stroke-width="0.8"/>
<line x1="441.90" y1="875.06" x2="447.40" y2="875.06" stroke="#f59aa0" stroke-width="0.8"/>
<line x1="479.70" y1="951.00" x2="479.70" y2="953.60" stroke="#000" stroke-width="0.8"/>
<text x="479.70" y="960.60" font-size="5.8" font-weight="bold" text-anchor="middle">MMP9</text>
<rect x="466.10" y="917.10" width="10.90" height="33.90" fill="#4590c1"/>
<line x1="471.55" y1="917.10" x2="471.55" y2="913.71" stroke="#6fb0d8" stroke-width="0.8"/>
<line x1="468.80" y1="913.71" x2="474.30" y2="913.71" stroke="#6fb0d8" stroke-width="0.8"/>
<rect x="482.20" y="896.42" width="10.90" height="54.58" fill="#f07880"/>
<line x1="487.65" y1="896.42" x2="487.65" y2="888.96" stroke="#f59aa0" stroke-width="0.8"/>
<line x1="484.90" y1="888.96" x2="490.40" y2="888.96" stroke="#f59aa0" stroke-width="0.8"/>
<text x="457.90" y="856.40" font-size="7.6" font-weight="bold" text-anchor="middle">HepG2</text>
<text x="401.40" y="908.00" font-size="5.5" font-weight="bold" text-anchor="middle" transform="rotate(-90 401.40 908.00)">Relative mRNA expression</text>
<rect x="497.60" y="862.50" width="9.90" height="3.40" fill="#4590c1"/>
<text x="512.20" y="866.20" font-size="5.8" fill="#222">Vector</text>
<rect x="497.60" y="872.40" width="9.90" height="3.40" fill="#f07880"/>
<text x="512.20" y="876.10" font-size="5.8" fill="#222">CREB5</text>
<polyline points="428.10,871.70 428.10,869.10 444.20,869.10 444.20,871.70" fill="none" stroke="#333" stroke-width="0.75"/>
<text x="436.15" y="868.80" font-size="5.6" font-weight="bold" text-anchor="middle" fill="#333">**</text>
<polyline points="471.50,886.60 471.50,884.00 487.70,884.00 487.70,886.60" fill="none" stroke="#333" stroke-width="0.75"/>
<text x="479.60" y="883.70" font-size="5.6" font-weight="bold" text-anchor="middle" fill="#333">*</text>
<line x1="562.70" y1="865.50" x2="562.70" y2="951.50" stroke="#000" stroke-width="1.0"/>
<line x1="562.20" y1="951.00" x2="648.00" y2="951.00" stroke="#000" stroke-width="1.0"/>
<line x1="559.50" y1="951.00" x2="562.70" y2="951.00" stroke="#000" stroke-width="0.8"/>
<text x="558.90" y="952.90" font-size="5.5" font-weight="bold" text-anchor="end">0</text>
<line x1="559.50" y1="933.98" x2="562.70" y2="933.98" stroke="#000" stroke-width="0.8"/>
<text x="558.90" y="935.88" font-size="5.5" font-weight="bold" text-anchor="end">2</text>
<line x1="559.50" y1="916.96" x2="562.70" y2="916.96" stroke="#000" stroke-width="0.8"/>
<text x="558.90" y="918.86" font-size="5.5" font-weight="bold" text-anchor="end">4</text>
<line x1="559.50" y1="899.94" x2="562.70" y2="899.94" stroke="#000" stroke-width="0.8"/>
<text x="558.90" y="901.84" font-size="5.5" font-weight="bold" text-anchor="end">6</text>
<line x1="559.50" y1="882.92" x2="562.70" y2="882.92" stroke="#000" stroke-width="0.8"/>
<text x="558.90" y="884.82" font-size="5.5" font-weight="bold" text-anchor="end">8</text>
<line x1="559.50" y1="865.90" x2="562.70" y2="865.90" stroke="#000" stroke-width="0.8"/>
<text x="558.90" y="867.80" font-size="5.5" font-weight="bold" text-anchor="end">10</text>
<line x1="582.40" y1="951.00" x2="582.40" y2="953.60" stroke="#000" stroke-width="0.8"/>
<text x="582.40" y="960.60" font-size="5.8" font-weight="bold" text-anchor="middle">MMP2</text>
<rect x="568.10" y="942.49" width="11.60" height="8.51" fill="#4590c1"/>
<line x1="573.90" y1="942.49" x2="573.90" y2="942.06" stroke="#6fb0d8" stroke-width="0.8"/>
<line x1="571.15" y1="942.06" x2="576.65" y2="942.06" stroke="#6fb0d8" stroke-width="0.8"/>
<rect x="585.60" y="896.54" width="11.10" height="54.46" fill="#f07880"/>
<line x1="591.15" y1="896.54" x2="591.15" y2="885.05" stroke="#f59aa0" stroke-width="0.8"/>
<line x1="588.40" y1="885.05" x2="593.90" y2="885.05" stroke="#f59aa0" stroke-width="0.8"/>
<line x1="627.50" y1="951.00" x2="627.50" y2="953.60" stroke="#000" stroke-width="0.8"/>
<text x="627.50" y="960.60" font-size="5.8" font-weight="bold" text-anchor="middle">MMP9</text>
<rect x="614.00" y="942.49" width="10.80" height="8.51" fill="#4590c1"/>
<rect x="631.00" y="937.38" width="10.80" height="13.62" fill="#f07880"/>
<text x="605.30" y="856.20" font-size="7.6" font-weight="bold" text-anchor="middle">Huh7</text>
<text x="548.20" y="909.00" font-size="5.5" font-weight="bold" text-anchor="middle" transform="rotate(-90 548.20 909.00)">Relative mRNA expression</text>
<rect x="644.50" y="869.60" width="10.00" height="3.40" fill="#4590c1"/>
<text x="658.80" y="873.30" font-size="5.8" fill="#222">Vector</text>
<rect x="644.50" y="879.90" width="10.00" height="3.40" fill="#f07880"/>
<text x="658.80" y="883.60" font-size="5.8" fill="#222">CREB5</text>
<polyline points="575.10,882.60 575.10,880.00 591.80,880.00 591.80,882.60" fill="none" stroke="#333" stroke-width="0.75"/>
<text x="583.45" y="879.70" font-size="5.6" font-weight="bold" text-anchor="middle" fill="#333">**</text>
<polyline points="620.20,933.90 620.20,931.30 636.40,931.30 636.40,933.90" fill="none" stroke="#333" stroke-width="0.75"/>
<text x="628.30" y="931.00" font-size="5.6" font-weight="bold" text-anchor="middle" fill="#333">***</text></svg>
</body></html>
